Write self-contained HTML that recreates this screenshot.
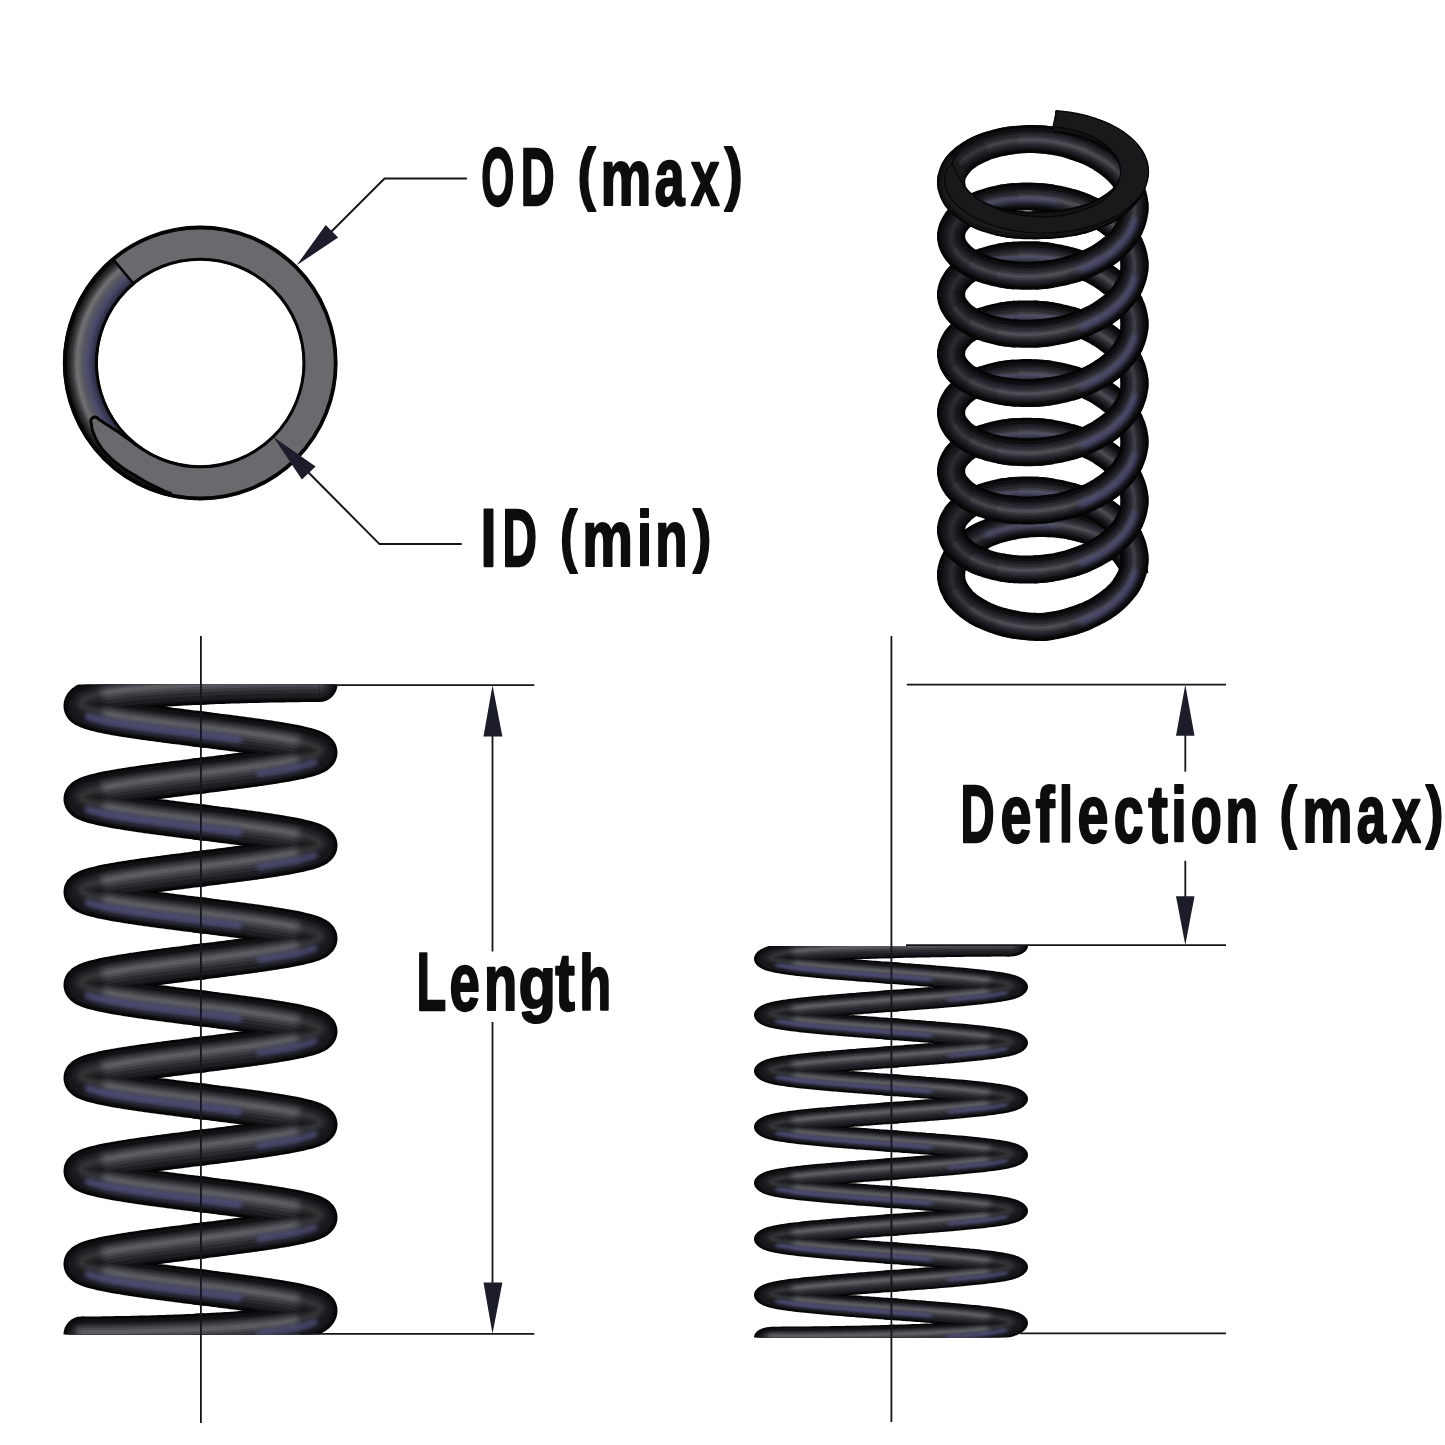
<!DOCTYPE html>
<html><head><meta charset="utf-8"><style>
html,body{margin:0;padding:0;background:#fff;}
svg{display:block;}
text{font-family:"Liberation Sans",sans-serif;font-weight:bold;fill:#0d0d0d;}
</style></head><body>
<svg width="1445" height="1445" viewBox="0 0 1445 1445">
<defs>
<radialGradient id="rg" gradientUnits="userSpaceOnUse" cx="200.2" cy="363" r="137">
<stop offset="0.748" stop-color="#1a1a26"/><stop offset="0.775" stop-color="#30304a"/><stop offset="0.82" stop-color="#4a4a6c"/><stop offset="0.86" stop-color="#575760"/><stop offset="0.90" stop-color="#727274"/><stop offset="0.935" stop-color="#3a3a3c"/><stop offset="0.97" stop-color="#141416"/><stop offset="1" stop-color="#000"/>
</radialGradient>
<filter id="lblur" x="-10%" y="-10%" width="120%" height="120%"><feGaussianBlur stdDeviation="3"/></filter>
<filter id="pblur" x="-10%" y="-10%" width="120%" height="120%"><feGaussianBlur stdDeviation="2.2"/></filter>
<clipPath id="sideclip"><rect x="0" y="684.5" width="400" height="650"/></clipPath>
<clipPath id="gclip"><ellipse cx="1042.8" cy="171.6" rx="105.75" ry="61.4"/><rect x="900" y="171.6" width="300" height="200"/></clipPath>
<path id="p1" d="M1122.3,550.3 1124.1,552.2 1125.7,554.1 1127.2,556.1 1128.6,558.1 1129.8,560.1 1130.9,562.2 1131.9,564.3 1132.7,566.4 1133.3,568.5 1133.9,570.6 1134.2,572.7 1134.4,574.5"/>
<path id="p2" d="M1098.7,534.4 1101.4,535.7 1104.1,537 1106.7,538.5 1109.2,540 1111.7,541.6 1114.1,543.2 1116.3,544.9 1118.5,546.7 1120.5,548.5 1122.4,550.4 1124.1,552.2 1125.8,554.2 1127.3,556.1 1128.6,558.2 1129.9,560.2 1130.9,562.2 1131.4,563.2"/>
<path id="p3" d="M1066.6,525 1069.6,525.5 1072.5,526.1 1075.4,526.7 1078.3,527.4 1081.2,528.1 1084.1,529 1086.9,529.9 1089.8,530.8 1092.6,531.8 1095.3,533 1098.1,534.1 1100.8,535.4 1103.4,536.7 1106,538.1 1108.6,539.6 1111.1,541.2 1113.5,542.8 1115.5,544.3"/>
<path id="p4" d="M1030.9,523.3 1033.9,523.2 1036.9,523.1 1039.9,523 1042.9,523 1045.9,523 1048.9,523.2 1051.9,523.3 1054.9,523.5 1057.9,523.8 1060.8,524.2 1063.8,524.5 1066.8,525 1069.7,525.5 1072.7,526.1 1075.6,526.7 1078.5,527.4 1081.4,528.2 1084.2,529 1087.1,529.9 1088.6,530.4"/>
<path id="p5" d="M997,529.7 999.9,528.8 1002.8,528 1005.7,527.2 1008.6,526.5 1011.6,525.9 1014.5,525.3 1017.5,524.8 1020.5,524.4 1023.5,524 1026.5,523.7 1029.5,523.4 1032.5,523.2 1035.5,523.1 1038.5,523 1041.5,523 1044.5,523 1047.5,523.1 1050.4,523.2 1053.4,523.4 1054.7,523.5"/>
<path id="p6" d="M970.1,543.1 972.4,541.4 974.8,539.9 977.3,538.3 979.9,536.9 982.6,535.5 985.3,534.2 988.1,533 990.9,531.8 993.7,530.8 996.6,529.8 999.5,528.9 1002.4,528.1 1005.3,527.3 1008.2,526.6 1011.2,526 1014.1,525.4 1017.1,524.9 1019,524.6"/>
<path id="p7" d="M954.2,561.4 955.2,559.4 956.4,557.4 957.7,555.4 959.1,553.5 960.7,551.6 962.4,549.7 964.2,547.9 966.2,546.2 968.3,544.4 970.5,542.8 972.8,541.1 975.2,539.6 977.7,538.1 980.4,536.6 983.1,535.2 985.8,534 986.9,533.5"/>
<path id="p8" d="M951.8,581.8 951.4,579.7 951.2,577.6 951.1,575.5 951.1,573.4 951.3,571.3 951.6,569.2 952.1,567.2 952.7,565.1 953.5,563 954.4,561 955.4,559 956.6,557 957.9,555.1 959.4,553.1 961,551.3 962.7,549.4 963.3,548.8"/>
<path id="p9" d="M1122.3,527.7 1124.1,529.9 1125.7,532.2 1127.2,534.5 1128.6,536.9 1129.8,539.3 1130.9,541.7 1131.9,544.1 1132.7,546.5 1133.3,549 1133.9,551.5 1134.2,554 1134.5,556.5 1134.5,559 1134.5,561.5 1134.3,564 1133.9,566.5 1133.8,567.3"/>
<path id="p10" d="M1098.7,508.4 1101.3,509.9 1103.8,511.5 1106.3,513.2 1108.7,514.9 1111.1,516.8 1113.3,518.6 1115.6,520.6 1117.7,522.7 1119.8,524.8 1121.7,527 1123.5,529.2 1125.2,531.5 1126.8,533.8 1128.2,536.1 1129.4,538.5 1130.6,540.9 1131.4,542.9"/>
<path id="p11" d="M1066.6,495.6 1069.5,496.3 1072.4,497.2 1075.2,498.1 1078.1,499.1 1080.9,500.1 1083.7,501.2 1086.4,502.3 1089.2,503.5 1091.9,504.8 1094.5,506.1 1097.2,507.5 1099.8,509 1102.3,510.6 1104.8,512.2 1107.3,513.9 1109.6,515.7 1112,517.5 1114.3,519.4 1115.5,520.6"/>
<path id="p12" d="M1030.9,490.5 1033.9,490.7 1036.9,490.8 1039.9,491 1042.9,491.3 1045.9,491.6 1048.9,492 1051.8,492.5 1054.8,493 1057.7,493.5 1060.7,494.1 1063.6,494.8 1066.5,495.5 1069.4,496.3 1072.3,497.1 1075.1,498 1077.9,499 1080.8,500 1083.5,501.1 1086.3,502.2 1088.6,503.3"/>
<path id="p13" d="M997,493.6 1000,493 1002.9,492.4 1005.9,492 1008.9,491.6 1011.9,491.2 1014.9,491 1017.9,490.8 1020.9,490.6 1023.9,490.5 1026.9,490.5 1029.9,490.5 1032.9,490.6 1036,490.8 1039,491 1041.9,491.2 1044.9,491.5 1047.9,491.9 1050.9,492.3 1053.8,492.8 1054.7,493"/>
<path id="p14" d="M970.1,503.6 972.4,502.3 974.8,501.1 977.3,499.9 979.9,498.8 982.6,497.7 985.4,496.7 988.3,495.8 991.2,495 994.2,494.2 997.1,493.5 1000.1,492.9 1003,492.4 1006,491.9 1009,491.6 1012,491.2 1015,491 1018,490.7 1019,490.7"/>
<path id="p15" d="M954.2,518.6 955.2,517 956.4,515.3 957.7,513.7 959.1,512.1 960.7,510.5 962.4,509 964.2,507.6 966.2,506.1 968.3,504.7 970.5,503.4 972.8,502.1 975.2,500.9 977.7,499.7 980.4,498.6 983.1,497.6 986,496.6 986.9,496.3"/>
<path id="p16" d="M951.8,535.8 951.4,534 951.2,532.3 951.1,530.5 951.1,528.7 951.3,527 951.6,525.2 952.1,523.5 952.7,521.7 953.5,520 954.4,518.3 955.4,516.7 956.6,515 957.9,513.4 959.4,511.8 961,510.3 962.7,508.8 963.3,508.3"/>
<path id="p17" d="M1122.3,469.2 1124.1,471.4 1125.7,473.7 1127.2,476 1128.6,478.4 1129.8,480.8 1130.9,483.2 1131.9,485.6 1132.7,488.1 1133.3,490.5 1133.9,493 1134.2,495.5 1134.5,498 1134.5,500.5 1134.5,503 1134.3,505.5 1133.9,508 1133.8,508.8"/>
<path id="p18" d="M1098.7,449.8 1101.3,451.3 1103.8,452.9 1106.3,454.6 1108.7,456.4 1111,458.2 1113.3,460.1 1115.6,462.1 1117.7,464.1 1119.8,466.3 1121.7,468.4 1123.5,470.7 1125.2,473 1126.7,475.3 1128.2,477.6 1129.4,480 1130.6,482.4 1131.4,484.4"/>
<path id="p19" d="M1066.6,436.9 1069.5,437.7 1072.4,438.5 1075.2,439.4 1078.1,440.4 1080.9,441.4 1083.7,442.5 1086.4,443.7 1089.2,444.9 1091.8,446.2 1094.5,447.5 1097.1,448.9 1099.7,450.4 1102.3,452 1104.8,453.6 1107.2,455.3 1109.6,457.1 1112,458.9 1114.2,460.8 1115.5,462"/>
<path id="p20" d="M1030.9,431.8 1033.9,431.9 1036.9,432.1 1039.9,432.3 1042.9,432.6 1045.9,432.9 1048.9,433.3 1051.8,433.8 1054.8,434.3 1057.7,434.8 1060.7,435.5 1063.6,436.1 1066.5,436.9 1069.4,437.7 1072.2,438.5 1075.1,439.4 1077.9,440.4 1080.7,441.4 1083.5,442.5 1086.3,443.6 1088.6,444.6"/>
<path id="p21" d="M997,434.8 1000,434.2 1002.9,433.7 1005.9,433.2 1008.9,432.8 1011.9,432.5 1014.9,432.2 1017.9,432 1020.9,431.9 1023.9,431.8 1026.9,431.8 1030,431.8 1033,431.9 1036,432 1039,432.3 1041.9,432.5 1044.9,432.8 1047.9,433.2 1050.9,433.6 1053.8,434.1 1054.7,434.3"/>
<path id="p22" d="M970.1,444.8 972.4,443.5 974.8,442.3 977.3,441.1 979.9,440 982.6,438.9 985.4,437.9 988.3,437 991.2,436.2 994.2,435.4 997.1,434.8 1000.1,434.2 1003.1,433.6 1006,433.2 1009,432.8 1012,432.5 1015,432.2 1018,432 1019,432"/>
<path id="p23" d="M954.2,459.7 955.2,458.1 956.4,456.4 957.7,454.8 959.1,453.2 960.7,451.7 962.4,450.2 964.2,448.7 966.2,447.3 968.3,445.9 970.5,444.6 972.8,443.3 975.2,442.1 977.7,440.9 980.4,439.8 983.1,438.7 986,437.8 986.9,437.5"/>
<path id="p24" d="M951.8,476.8 951.4,475 951.2,473.3 951.1,471.5 951.1,469.8 951.3,468 951.6,466.3 952.1,464.5 952.7,462.8 953.5,461.1 954.4,459.4 955.4,457.8 956.6,456.1 957.9,454.5 959.4,452.9 961,451.4 962.7,449.9 963.3,449.4"/>
<path id="p25" d="M1122.3,410.3 1124.1,412.5 1125.7,414.8 1127.2,417.1 1128.6,419.5 1129.8,421.9 1130.9,424.3 1131.9,426.7 1132.7,429.1 1133.3,431.6 1133.9,434.1 1134.2,436.6 1134.5,439.1 1134.5,441.6 1134.5,444.1 1134.3,446.6 1133.9,449.1 1133.8,449.9"/>
<path id="p26" d="M1098.7,391 1101.3,392.5 1103.8,394.1 1106.3,395.8 1108.7,397.5 1111.1,399.4 1113.3,401.2 1115.6,403.2 1117.7,405.3 1119.8,407.4 1121.7,409.6 1123.5,411.8 1125.2,414.1 1126.8,416.4 1128.2,418.7 1129.4,421.1 1130.6,423.5 1131.4,425.5"/>
<path id="p27" d="M1066.6,378.2 1069.5,378.9 1072.4,379.8 1075.2,380.7 1078.1,381.7 1080.9,382.7 1083.7,383.8 1086.4,384.9 1089.2,386.1 1091.9,387.4 1094.5,388.7 1097.2,390.1 1099.8,391.6 1102.3,393.2 1104.8,394.8 1107.3,396.5 1109.6,398.3 1112,400.1 1114.3,402 1115.5,403.2"/>
<path id="p28" d="M1030.9,373.1 1033.9,373.3 1036.9,373.4 1039.9,373.6 1042.9,373.9 1045.9,374.2 1048.9,374.6 1051.8,375.1 1054.8,375.6 1057.7,376.1 1060.7,376.7 1063.6,377.4 1066.5,378.1 1069.4,378.9 1072.3,379.7 1075.1,380.6 1077.9,381.6 1080.8,382.6 1083.5,383.7 1086.3,384.8 1088.6,385.9"/>
<path id="p29" d="M997,376.2 1000,375.6 1002.9,375 1005.9,374.6 1008.9,374.2 1011.9,373.8 1014.9,373.6 1017.9,373.4 1020.9,373.2 1023.9,373.1 1026.9,373.1 1029.9,373.1 1032.9,373.2 1036,373.4 1039,373.6 1041.9,373.8 1044.9,374.1 1047.9,374.5 1050.9,374.9 1053.8,375.4 1054.7,375.6"/>
<path id="p30" d="M970.1,386.2 972.4,384.9 974.8,383.7 977.3,382.5 979.9,381.4 982.6,380.3 985.4,379.3 988.3,378.4 991.2,377.6 994.2,376.8 997.1,376.1 1000.1,375.5 1003,375 1006,374.5 1009,374.2 1012,373.8 1015,373.6 1018,373.3 1019,373.3"/>
<path id="p31" d="M954.2,401.2 955.2,399.6 956.4,397.9 957.7,396.3 959.1,394.7 960.7,393.1 962.4,391.6 964.2,390.2 966.2,388.7 968.3,387.3 970.5,386 972.8,384.7 975.2,383.5 977.7,382.3 980.4,381.2 983.1,380.2 986,379.2 986.9,378.9"/>
<path id="p32" d="M951.8,418.4 951.4,416.6 951.2,414.9 951.1,413.1 951.1,411.3 951.3,409.6 951.6,407.8 952.1,406.1 952.7,404.3 953.5,402.6 954.4,400.9 955.4,399.3 956.6,397.6 957.9,396 959.4,394.4 961,392.9 962.7,391.4 963.3,390.9"/>
<path id="p33" d="M1122.3,351.8 1124.1,354 1125.7,356.3 1127.2,358.6 1128.6,361 1129.8,363.4 1130.9,365.8 1131.9,368.2 1132.7,370.7 1133.3,373.1 1133.9,375.6 1134.2,378.1 1134.5,380.6 1134.5,383.1 1134.5,385.6 1134.3,388.1 1133.9,390.6 1133.8,391.4"/>
<path id="p34" d="M1098.7,332.4 1101.3,333.9 1103.8,335.5 1106.3,337.2 1108.7,339 1111,340.8 1113.3,342.7 1115.6,344.7 1117.7,346.7 1119.8,348.9 1121.7,351 1123.5,353.3 1125.2,355.6 1126.7,357.9 1128.2,360.2 1129.4,362.6 1130.6,365 1131.4,367"/>
<path id="p35" d="M1066.6,319.5 1069.5,320.3 1072.4,321.1 1075.2,322 1078.1,323 1080.9,324 1083.7,325.1 1086.4,326.3 1089.2,327.5 1091.8,328.8 1094.5,330.1 1097.1,331.5 1099.7,333 1102.3,334.6 1104.8,336.2 1107.2,337.9 1109.6,339.7 1112,341.5 1114.2,343.4 1115.5,344.6"/>
<path id="p36" d="M1030.9,314.4 1033.9,314.5 1036.9,314.7 1039.9,314.9 1042.9,315.2 1045.9,315.5 1048.9,315.9 1051.8,316.4 1054.8,316.9 1057.7,317.4 1060.7,318.1 1063.6,318.7 1066.5,319.5 1069.4,320.3 1072.2,321.1 1075.1,322 1077.9,323 1080.7,324 1083.5,325.1 1086.3,326.2 1088.6,327.2"/>
<path id="p37" d="M997,317.4 1000,316.8 1002.9,316.3 1005.9,315.8 1008.9,315.4 1011.9,315.1 1014.9,314.8 1017.9,314.6 1020.9,314.5 1023.9,314.4 1026.9,314.4 1030,314.4 1033,314.5 1036,314.6 1039,314.9 1041.9,315.1 1044.9,315.4 1047.9,315.8 1050.9,316.2 1053.8,316.7 1054.7,316.9"/>
<path id="p38" d="M970.1,327.4 972.4,326.1 974.8,324.9 977.3,323.7 979.9,322.6 982.6,321.5 985.4,320.5 988.3,319.6 991.2,318.8 994.2,318 997.1,317.4 1000.1,316.8 1003.1,316.2 1006,315.8 1009,315.4 1012,315.1 1015,314.8 1018,314.6 1019,314.6"/>
<path id="p39" d="M954.2,342.3 955.2,340.7 956.4,339 957.7,337.4 959.1,335.8 960.7,334.3 962.4,332.8 964.2,331.3 966.2,329.9 968.3,328.5 970.5,327.2 972.8,325.9 975.2,324.7 977.7,323.5 980.4,322.4 983.1,321.3 986,320.4 986.9,320.1"/>
<path id="p40" d="M951.8,359.4 951.4,357.6 951.2,355.9 951.1,354.1 951.1,352.4 951.3,350.6 951.6,348.9 952.1,347.1 952.7,345.4 953.5,343.7 954.4,342 955.4,340.4 956.6,338.7 957.9,337.1 959.4,335.5 961,334 962.7,332.5 963.3,332"/>
<path id="p41" d="M1122.3,292.6 1124.1,294.8 1125.7,297.1 1127.2,299.4 1128.6,301.8 1129.8,304.2 1130.9,306.6 1131.9,309 1132.7,311.5 1133.3,313.9 1133.9,316.4 1134.2,318.9 1134.5,321.4 1134.5,323.9 1134.5,326.4 1134.3,328.9 1133.9,331.4 1133.8,332.2"/>
<path id="p42" d="M1098.7,273.2 1101.3,274.7 1103.8,276.3 1106.3,278 1108.7,279.8 1111,281.6 1113.3,283.5 1115.6,285.5 1117.7,287.5 1119.8,289.7 1121.7,291.8 1123.5,294.1 1125.2,296.4 1126.7,298.7 1128.2,301 1129.4,303.4 1130.6,305.8 1131.4,307.8"/>
<path id="p43" d="M1066.6,260.3 1069.5,261.1 1072.4,261.9 1075.2,262.8 1078.1,263.8 1080.9,264.8 1083.7,265.9 1086.4,267.1 1089.2,268.3 1091.8,269.6 1094.5,270.9 1097.1,272.3 1099.7,273.8 1102.3,275.4 1104.8,277 1107.2,278.7 1109.6,280.5 1112,282.3 1114.2,284.2 1115.5,285.4"/>
<path id="p44" d="M1030.9,255.2 1033.9,255.3 1036.9,255.5 1039.9,255.7 1042.9,256 1045.9,256.3 1048.9,256.7 1051.8,257.2 1054.8,257.7 1057.7,258.2 1060.7,258.9 1063.6,259.5 1066.5,260.3 1069.4,261.1 1072.2,261.9 1075.1,262.8 1077.9,263.8 1080.7,264.8 1083.5,265.9 1086.3,267 1088.6,268"/>
<path id="p45" d="M997,258.2 1000,257.6 1002.9,257.1 1005.9,256.6 1008.9,256.2 1011.9,255.9 1014.9,255.6 1017.9,255.4 1020.9,255.3 1023.9,255.2 1026.9,255.2 1030,255.2 1033,255.3 1036,255.4 1039,255.7 1041.9,255.9 1044.9,256.2 1047.9,256.6 1050.9,257 1053.8,257.5 1054.7,257.7"/>
<path id="p46" d="M970.1,268.2 972.4,266.9 974.8,265.7 977.3,264.5 979.9,263.4 982.6,262.3 985.4,261.3 988.3,260.4 991.2,259.6 994.2,258.8 997.1,258.2 1000.1,257.6 1003.1,257 1006,256.6 1009,256.2 1012,255.9 1015,255.6 1018,255.4 1019,255.4"/>
<path id="p47" d="M954.2,283.1 955.2,281.5 956.4,279.8 957.7,278.2 959.1,276.6 960.7,275.1 962.4,273.6 964.2,272.1 966.2,270.7 968.3,269.3 970.5,268 972.8,266.7 975.2,265.5 977.7,264.3 980.4,263.2 983.1,262.1 986,261.2 986.9,260.9"/>
<path id="p48" d="M951.8,300.2 951.4,298.4 951.2,296.7 951.1,294.9 951.1,293.2 951.3,291.4 951.6,289.7 952.1,287.9 952.7,286.2 953.5,284.5 954.4,282.8 955.4,281.2 956.6,279.5 957.9,277.9 959.4,276.3 961,274.8 962.7,273.3 963.3,272.8"/>
<path id="p49" d="M1122.3,233.8 1124.1,236 1125.7,238.3 1127.2,240.6 1128.6,242.9 1129.8,245.3 1130.9,247.7 1131.9,250.2 1132.7,252.6 1133.3,255.1 1133.9,257.5 1134.2,260 1134.5,262.5 1134.5,265 1134.5,267.5 1134.3,270 1133.9,272.5 1133.8,273.3"/>
<path id="p50" d="M1098.7,214.5 1101.3,216 1103.8,217.6 1106.3,219.3 1108.7,221 1111.1,222.8 1113.4,224.7 1115.6,226.7 1117.7,228.8 1119.8,230.9 1121.7,233.1 1123.5,235.3 1125.2,237.6 1126.8,239.9 1128.2,242.2 1129.4,244.6 1130.6,247 1131.4,248.9"/>
<path id="p51" d="M1066.6,201.7 1069.5,202.4 1072.4,203.3 1075.2,204.2 1078.1,205.1 1080.9,206.2 1083.7,207.2 1086.4,208.4 1089.2,209.6 1091.9,210.9 1094.5,212.2 1097.2,213.6 1099.8,215.1 1102.3,216.6 1104.8,218.3 1107.3,220 1109.7,221.7 1112,223.6 1114.3,225.5 1115.5,226.7"/>
<path id="p52" d="M1030.9,196.6 1033.9,196.8 1036.9,196.9 1039.9,197.1 1042.9,197.4 1045.9,197.7 1048.9,198.1 1051.8,198.6 1054.8,199.1 1057.7,199.6 1060.7,200.2 1063.6,200.9 1066.5,201.6 1069.4,202.4 1072.3,203.2 1075.1,204.1 1077.9,205.1 1080.8,206.1 1083.5,207.2 1086.3,208.3 1088.6,209.3"/>
<path id="p53" d="M997,199.7 1000,199.1 1002.9,198.5 1005.9,198.1 1008.9,197.7 1011.9,197.3 1014.9,197.1 1017.9,196.9 1020.9,196.7 1023.9,196.6 1026.9,196.6 1029.9,196.6 1032.9,196.7 1036,196.9 1038.9,197.1 1041.9,197.3 1044.9,197.6 1047.9,198 1050.9,198.4 1053.8,198.9 1054.7,199"/>
<path id="p54" d="M970.1,209.8 972.4,208.5 974.8,207.2 977.3,206 979.9,204.9 982.6,203.9 985.4,202.9 988.3,201.9 991.2,201.1 994.2,200.3 997.1,199.7 1000.1,199.1 1003,198.5 1006,198.1 1009,197.7 1012,197.3 1015,197.1 1018,196.9 1019,196.8"/>
<path id="p55" d="M954.2,224.8 955.2,223.1 956.4,221.5 957.7,219.8 959.1,218.2 960.7,216.7 962.4,215.2 964.2,213.7 966.2,212.2 968.3,210.9 970.5,209.5 972.8,208.2 975.2,207 977.7,205.8 980.4,204.7 983.1,203.7 986,202.7 986.9,202.4"/>
<path id="p56" d="M951.8,241.9 951.4,240.2 951.2,238.4 951.1,236.6 951.1,234.9 951.3,233.1 951.6,231.4 952.1,229.6 952.7,227.9 953.5,226.2 954.4,224.5 955.4,222.8 956.6,221.2 957.9,219.5 959.4,218 961,216.4 962.7,214.9 963.3,214.4"/>
<path id="p57" d="M1122.3,175.8 1124.1,178.1 1125.7,180.3 1127.2,182.7 1128.6,185 1129.8,187.4 1130.9,189.8 1131.9,192.2 1132.7,194.7 1133.3,197.1 1133.9,199.6 1134.2,202.1 1134.5,204.6 1134.5,207.1 1134.5,209.6 1134.3,212.1 1133.9,214.6 1133.8,215.4"/>
<path id="p58" d="M1098.7,156.6 1101.3,158.1 1103.8,159.7 1106.3,161.3 1108.7,163.1 1111.1,164.9 1113.4,166.8 1115.6,168.8 1117.7,170.8 1119.8,173 1121.7,175.1 1123.5,177.4 1125.2,179.6 1126.8,181.9 1128.2,184.3 1129.4,186.6 1130.6,189 1131.4,191"/>
<path id="p59" d="M1066.6,143.7 1069.5,144.5 1072.4,145.4 1075.2,146.3 1078.1,147.2 1080.9,148.2 1083.7,149.3 1086.4,150.5 1089.2,151.7 1091.9,153 1094.5,154.3 1097.2,155.7 1099.8,157.2 1102.3,158.7 1104.8,160.3 1107.3,162 1109.7,163.8 1112,165.7 1114.3,167.6 1115.5,168.7"/>
<path id="p60" d="M1030.9,139.1 1033.9,139.1 1036.9,139.2 1039.9,139.3 1042.9,139.5 1045.9,139.8 1048.9,140.2 1051.8,140.7 1054.8,141.2 1057.7,141.7 1060.7,142.3 1063.6,143 1066.5,143.7 1069.4,144.5 1072.3,145.3 1075.1,146.2 1078,147.2 1080.8,148.2 1083.6,149.3 1086.3,150.4 1088.6,151.4"/>
<path id="p61" d="M997,143.1 999.9,142.4 1002.9,141.8 1005.9,141.2 1008.8,140.7 1011.8,140.3 1014.8,139.9 1017.8,139.7 1020.8,139.4 1023.8,139.2 1026.8,139.1 1029.8,139.1 1032.8,139.1 1035.8,139.1 1038.8,139.3 1041.8,139.4 1044.8,139.7 1047.8,140.1 1050.8,140.5 1053.7,141 1054.7,141.1"/>
<path id="p62" d="M970.1,154.1 972.4,152.7 974.8,151.4 977.3,150.1 979.9,148.9 982.6,147.7 985.4,146.6 988.3,145.6 991.2,144.7 994.1,143.9 997,143.1 999.9,142.4 1002.9,141.8 1005.9,141.2 1008.8,140.7 1011.8,140.3 1014.8,139.9 1017.8,139.7 1019,139.6"/>
<path id="p63" d="M954.2,170.1 955.2,168.4 956.4,166.6 957.7,164.9 959.1,163.2 960.7,161.5 962.4,159.9 964.2,158.3 966.2,156.8 968.3,155.3 970.5,153.9 972.8,152.5 975.2,151.2 977.7,149.9 980.4,148.7 983.1,147.5 986,146.5 986.9,146.1"/>
<path id="p64" d="M952.2,174.9 952.8,173 953.6,171.2 954.6,169.4 955.7,167.7 956.9,165.9 958.2,164.2 959.7,162.5 961.4,160.9 963.1,159.3 963.3,159.1"/>
<path id="p65" d="M951.8,188.2 951.4,186.4 951.2,184.5 951.1,182.7 951.1,180.8 951.3,178.9 951.6,177.1 952.1,175.2 952.7,173.4 953.5,171.6 954.4,169.8 955.4,168 956.6,166.3 957.9,164.6 959,163.4"/>
<path id="p66" d="M1122.3,145 1124.1,146.9 1125.7,148.8 1127.2,150.7 1128.6,152.7 1129.8,154.7 1130.9,156.7 1131.9,158.8 1132.7,160.9 1133.3,163 1133.9,165.1 1134.2,167.2 1134.5,169.3 1134.5,171.5 1134.5,173.6 1134.3,175.7 1133.9,177.8 1133.8,178.5"/>
<path id="p67" d="M1098.7,129.3 1101.4,130.6 1104.1,131.9 1106.7,133.3 1109.3,134.9 1111.7,136.4 1114.1,138.1 1116.3,139.7 1118.5,141.5 1120.5,143.3 1122.4,145.1 1124.1,147 1125.8,148.9 1127.3,150.8 1128.6,152.8 1129.9,154.8 1131,156.8 1131.4,157.8"/>
<path id="p68" d="M1066.6,120.1 1069.6,120.6 1072.5,121.2 1075.4,121.8 1078.4,122.5 1081.2,123.2 1084.1,124 1087,124.9 1089.8,125.8 1092.6,126.8 1095.4,127.9 1098.1,129.1 1100.8,130.3 1103.5,131.6 1106.1,133 1108.7,134.5 1111.2,136.1 1113.6,137.7 1115.5,139.1"/>
<path id="p69" d="M1054.8,118.8 1057.8,119 1060.7,119.3 1063.7,119.7 1066.7,120.1 1069.6,120.6 1072.5,121.2 1075.5,121.8 1078.4,122.5 1081.3,123.2 1084.1,124 1087,124.9 1088.6,125.4"/>
<path id="p70" d="M963.3,601.2 961.5,599.3 959.9,597.5 958.4,595.6 957,593.6 955.8,591.6 954.7,589.6 953.7,587.6 952.9,585.6 952.3,583.5 951.7,581.4 951.4,579.3 951.1,577.2 951.1,575.1 951.1,573 951.3,570.9 951.7,568.9 951.8,568.2"/>
<path id="p71" d="M986.9,616.5 984.2,615.3 981.5,614 978.9,612.6 976.3,611.1 973.8,609.6 971.5,608 969.2,606.3 967.1,604.6 965.1,602.8 963.2,601.1 961.4,599.2 959.8,597.3 958.3,595.4 956.9,593.5 955.7,591.5 954.6,589.5 954.2,588.6"/>
<path id="p72" d="M1019,625.4 1016,624.9 1013.1,624.4 1010.1,623.8 1007.2,623.2 1004.3,622.4 1001.4,621.7 998.6,620.8 995.8,619.9 992.9,618.9 990.2,617.9 987.4,616.7 984.7,615.5 982,614.2 979.4,612.8 976.8,611.4 974.3,609.8 971.9,608.3 970.1,606.9"/>
<path id="p73" d="M1054.7,625.3 1051.7,625.8 1048.8,626.3 1045.8,626.7 1042.8,627 1039.8,627 1036.8,626.9 1033.8,626.8 1030.8,626.7 1027.8,626.4 1024.9,626.1 1021.9,625.8 1018.9,625.4 1016,624.9 1013,624.4 1010.1,623.8 1007.2,623.2 1004.3,622.4 1001.4,621.7 998.5,620.8 997,620.3"/>
<path id="p74" d="M1088.6,615 1085.8,616.2 1083.1,617.4 1080.2,618.5 1077.4,619.5 1074.6,620.4 1071.7,621.3 1068.8,622.2 1065.9,622.9 1063,623.6 1060,624.3 1057.1,624.9 1054.1,625.4 1051.2,625.9 1048.2,626.4 1045.2,626.7 1042.3,627 1039.3,627 1036.3,626.9 1033.3,626.8 1030.9,626.7"/>
<path id="p75" d="M1115.5,597.7 1113.3,599.7 1110.9,601.6 1108.5,603.5 1106.1,605.2 1103.6,606.9 1101,608.5 1098.4,610.1 1095.8,611.5 1093.1,612.9 1090.4,614.2 1087.7,615.5 1084.9,616.6 1082.1,617.8 1079.3,618.8 1076.4,619.8 1073.6,620.7 1070.7,621.6 1067.8,622.4 1066.6,622.7"/>
<path id="p76" d="M1131.4,575.4 1130.4,577.8 1129.2,580.2 1127.9,582.6 1126.5,584.9 1124.9,587.2 1123.2,589.5 1121.4,591.7 1119.4,593.9 1117.3,596 1115.1,598.1 1112.9,600.1 1110.5,602 1108.1,603.8 1105.6,605.5 1103.1,607.2 1100.6,608.8 1098.7,609.9"/>
<path id="p77" d="M1133.8,551 1134.2,553.5 1134.4,556 1134.5,558.5 1134.5,561 1134.3,563.5 1134,566 1133.5,568.5 1132.9,571 1132.1,573.4 1131.2,575.9 1130.2,578.3 1129,580.7 1127.7,583 1126.2,585.4 1124.6,587.6 1122.9,589.9 1122.3,590.6"/>
<path id="p78" d="M963.3,551.8 961.5,550.3 959.9,548.8 958.4,547.2 957,545.6 955.8,544 954.7,542.3 953.7,540.6 952.9,538.9 952.3,537.2 951.7,535.4 951.4,533.7 951.1,531.9 951.1,530.2 951.1,528.4 951.3,526.6 951.7,524.9 951.8,524.3"/>
<path id="p79" d="M986.9,563.8 984.1,562.9 981.3,561.9 978.6,560.8 976.1,559.6 973.6,558.4 971.2,557.1 969,555.8 966.9,554.5 964.9,553 963,551.6 961.3,550.1 959.6,548.5 958.2,546.9 956.8,545.3 955.6,543.7 954.5,542 954.2,541.5"/>
<path id="p80" d="M1019,569.4 1016,569.2 1013,569 1010,568.7 1007.1,568.3 1004.1,567.9 1001.2,567.4 998.3,566.8 995.4,566.2 992.5,565.4 989.6,564.7 986.8,563.8 984,562.8 981.2,561.8 978.5,560.7 975.9,559.6 973.5,558.4 971.1,557.1 970.1,556.5"/>
<path id="p81" d="M1054.7,567.1 1051.7,567.6 1048.8,568.1 1045.8,568.5 1042.8,568.8 1039.8,569.1 1036.8,569.3 1033.9,569.5 1030.9,569.6 1027.9,569.6 1024.9,569.6 1021.9,569.5 1018.9,569.4 1015.9,569.2 1012.9,569 1010,568.7 1007,568.3 1004.1,567.9 1001.1,567.4 998.2,566.8 997,566.5"/>
<path id="p82" d="M1088.6,556.8 1085.8,558 1083.1,559.1 1080.3,560.2 1077.4,561.2 1074.6,562.2 1071.7,563.1 1068.8,563.9 1065.9,564.7 1063,565.4 1060.1,566.1 1057.1,566.7 1054.2,567.2 1051.2,567.7 1048.2,568.1 1045.3,568.5 1042.3,568.9 1039.3,569.1 1036.3,569.3 1033.3,569.5 1030.9,569.6"/>
<path id="p83" d="M1115.5,539.4 1113.3,541.4 1111,543.3 1108.6,545.1 1106.1,546.9 1103.6,548.6 1101,550.2 1098.4,551.7 1095.8,553.2 1093.1,554.6 1090.4,555.9 1087.7,557.2 1084.9,558.4 1082.1,559.5 1079.3,560.5 1076.5,561.5 1073.6,562.5 1070.7,563.4 1067.8,564.2 1066.6,564.5"/>
<path id="p84" d="M1131.4,517 1130.4,519.4 1129.2,521.8 1127.9,524.2 1126.5,526.5 1124.9,528.9 1123.2,531.1 1121.4,533.3 1119.4,535.5 1117.3,537.7 1115.1,539.7 1112.9,541.7 1110.5,543.6 1108.1,545.5 1105.7,547.2 1103.1,548.9 1100.6,550.5 1098.7,551.6"/>
<path id="p85" d="M1133.8,492.6 1134.2,495.1 1134.4,497.6 1134.5,500.1 1134.5,502.6 1134.3,505.1 1134,507.6 1133.5,510.1 1132.9,512.6 1132.1,515 1131.2,517.5 1130.2,519.9 1129,522.3 1127.7,524.6 1126.2,527 1124.6,529.3 1122.9,531.5 1122.3,532.2"/>
<path id="p86" d="M963.3,492.8 961.5,491.3 959.9,489.8 958.4,488.2 957,486.6 955.8,485 954.7,483.3 953.7,481.6 952.9,479.9 952.3,478.2 951.7,476.5 951.4,474.7 951.1,473 951.1,471.2 951.1,469.5 951.3,467.7 951.7,466 951.8,465.4"/>
<path id="p87" d="M986.9,504.7 984.1,503.8 981.3,502.8 978.6,501.7 976,500.5 973.6,499.3 971.2,498.1 969,496.8 966.9,495.4 964.9,494 963,492.5 961.3,491 959.6,489.5 958.2,487.9 956.8,486.3 955.6,484.7 954.5,483 954.2,482.5"/>
<path id="p88" d="M1019,510.2 1016,510.1 1013,509.8 1010,509.5 1007.1,509.2 1004.1,508.7 1001.2,508.2 998.3,507.7 995.4,507 992.5,506.3 989.6,505.6 986.8,504.7 983.9,503.7 981.2,502.7 978.5,501.6 975.9,500.5 973.5,499.3 971.1,498 970.1,497.4"/>
<path id="p89" d="M1054.7,507.9 1051.7,508.4 1048.8,508.9 1045.8,509.3 1042.8,509.6 1039.8,509.9 1036.8,510.1 1033.9,510.3 1030.9,510.4 1027.9,510.4 1024.9,510.4 1021.9,510.4 1018.9,510.2 1015.9,510.1 1012.9,509.8 1010,509.5 1007,509.2 1004.1,508.7 1001.1,508.2 998.2,507.7 997,507.4"/>
<path id="p90" d="M1088.6,497.6 1085.8,498.8 1083.1,500 1080.2,501.1 1077.4,502.1 1074.6,503 1071.7,503.9 1068.8,504.8 1065.9,505.5 1063,506.2 1060,506.9 1057.1,507.5 1054.1,508 1051.2,508.5 1048.2,509 1045.2,509.3 1042.3,509.7 1039.3,509.9 1036.3,510.1 1033.3,510.3 1030.9,510.4"/>
<path id="p91" d="M1115.5,480.3 1113.3,482.3 1110.9,484.2 1108.5,486.1 1106.1,487.8 1103.6,489.5 1101,491.1 1098.4,492.7 1095.8,494.1 1093.1,495.5 1090.4,496.8 1087.7,498.1 1084.9,499.2 1082.1,500.4 1079.3,501.4 1076.4,502.4 1073.6,503.3 1070.7,504.2 1067.8,505 1066.6,505.3"/>
<path id="p92" d="M1131.4,458 1130.4,460.4 1129.2,462.8 1127.9,465.2 1126.5,467.5 1124.9,469.8 1123.2,472.1 1121.4,474.3 1119.4,476.5 1117.3,478.6 1115.1,480.7 1112.9,482.7 1110.5,484.6 1108.1,486.4 1105.6,488.1 1103.1,489.8 1100.6,491.4 1098.7,492.5"/>
<path id="p93" d="M1133.8,433.6 1134.2,436.1 1134.4,438.6 1134.5,441.1 1134.5,443.6 1134.3,446.1 1134,448.6 1133.5,451.1 1132.9,453.6 1132.1,456 1131.2,458.5 1130.2,460.9 1129,463.3 1127.7,465.6 1126.2,468 1124.6,470.2 1122.9,472.5 1122.3,473.2"/>
<path id="p94" d="M963.3,434.4 961.5,432.9 959.9,431.4 958.4,429.8 957,428.2 955.8,426.6 954.7,424.9 953.7,423.2 952.9,421.5 952.3,419.8 951.7,418 951.4,416.3 951.1,414.5 951.1,412.8 951.1,411 951.3,409.2 951.7,407.5 951.8,406.9"/>
<path id="p95" d="M986.9,446.4 984.1,445.5 981.3,444.5 978.6,443.4 976.1,442.2 973.6,441 971.2,439.7 969,438.4 966.9,437.1 964.9,435.6 963,434.2 961.3,432.7 959.6,431.1 958.2,429.5 956.8,427.9 955.6,426.3 954.5,424.6 954.2,424.1"/>
<path id="p96" d="M1019,452 1016,451.8 1013,451.6 1010,451.3 1007.1,450.9 1004.1,450.5 1001.2,450 998.3,449.4 995.4,448.8 992.5,448 989.6,447.3 986.8,446.4 984,445.4 981.2,444.4 978.5,443.3 975.9,442.2 973.5,441 971.1,439.7 970.1,439.1"/>
<path id="p97" d="M1054.7,449.7 1051.7,450.2 1048.8,450.7 1045.8,451.1 1042.8,451.4 1039.8,451.7 1036.8,451.9 1033.9,452.1 1030.9,452.2 1027.9,452.2 1024.9,452.2 1021.9,452.1 1018.9,452 1015.9,451.8 1012.9,451.6 1010,451.3 1007,450.9 1004.1,450.5 1001.1,450 998.2,449.4 997,449.1"/>
<path id="p98" d="M1088.6,439.4 1085.8,440.6 1083.1,441.7 1080.3,442.8 1077.4,443.8 1074.6,444.8 1071.7,445.7 1068.8,446.5 1065.9,447.3 1063,448 1060.1,448.7 1057.1,449.3 1054.2,449.8 1051.2,450.3 1048.2,450.7 1045.3,451.1 1042.3,451.5 1039.3,451.7 1036.3,451.9 1033.3,452.1 1030.9,452.2"/>
<path id="p99" d="M1115.5,422 1113.3,424 1111,425.9 1108.6,427.7 1106.1,429.5 1103.6,431.2 1101,432.8 1098.4,434.3 1095.8,435.8 1093.1,437.2 1090.4,438.5 1087.7,439.8 1084.9,441 1082.1,442.1 1079.3,443.1 1076.5,444.1 1073.6,445.1 1070.7,446 1067.8,446.8 1066.6,447.1"/>
<path id="p100" d="M1131.4,399.6 1130.4,402 1129.2,404.4 1127.9,406.8 1126.5,409.1 1124.9,411.5 1123.2,413.7 1121.4,415.9 1119.4,418.1 1117.3,420.3 1115.1,422.3 1112.9,424.3 1110.5,426.2 1108.1,428.1 1105.7,429.8 1103.1,431.5 1100.6,433.1 1098.7,434.2"/>
<path id="p101" d="M1133.8,375.2 1134.2,377.7 1134.4,380.2 1134.5,382.7 1134.5,385.2 1134.3,387.7 1134,390.2 1133.5,392.7 1132.9,395.2 1132.1,397.6 1131.2,400.1 1130.2,402.5 1129,404.9 1127.7,407.2 1126.2,409.6 1124.6,411.9 1122.9,414.1 1122.3,414.8"/>
<path id="p102" d="M963.3,375.4 961.5,373.9 959.9,372.4 958.4,370.8 957,369.2 955.8,367.6 954.7,365.9 953.7,364.2 952.9,362.5 952.3,360.8 951.7,359.1 951.4,357.3 951.1,355.6 951.1,353.8 951.1,352.1 951.3,350.3 951.7,348.6 951.8,348"/>
<path id="p103" d="M986.9,387.3 984.1,386.4 981.3,385.4 978.6,384.3 976,383.1 973.6,381.9 971.2,380.7 969,379.4 966.9,378 964.9,376.6 963,375.1 961.3,373.6 959.6,372.1 958.2,370.5 956.8,368.9 955.6,367.3 954.5,365.6 954.2,365.1"/>
<path id="p104" d="M1019,392.8 1016,392.7 1013,392.4 1010,392.1 1007.1,391.8 1004.1,391.3 1001.2,390.8 998.3,390.3 995.4,389.6 992.5,388.9 989.6,388.2 986.8,387.3 983.9,386.3 981.2,385.3 978.5,384.2 975.9,383.1 973.5,381.9 971.1,380.6 970.1,380"/>
<path id="p105" d="M1054.7,390.5 1051.7,391 1048.8,391.5 1045.8,391.9 1042.8,392.2 1039.8,392.5 1036.8,392.7 1033.9,392.9 1030.9,393 1027.9,393 1024.9,393 1021.9,393 1018.9,392.8 1015.9,392.7 1012.9,392.4 1010,392.1 1007,391.8 1004.1,391.3 1001.1,390.8 998.2,390.3 997,390"/>
<path id="p106" d="M1088.6,380.2 1085.8,381.4 1083.1,382.5 1080.3,383.6 1077.4,384.6 1074.6,385.6 1071.7,386.5 1068.8,387.3 1065.9,388.1 1063,388.8 1060.1,389.5 1057.1,390.1 1054.2,390.6 1051.2,391.1 1048.2,391.5 1045.3,391.9 1042.3,392.3 1039.3,392.5 1036.3,392.7 1033.3,392.9 1030.9,393"/>
<path id="p107" d="M1115.5,362.8 1113.3,364.8 1111,366.7 1108.6,368.5 1106.1,370.3 1103.6,372 1101,373.6 1098.4,375.1 1095.8,376.6 1093.1,378 1090.4,379.3 1087.7,380.6 1084.9,381.8 1082.1,382.9 1079.3,383.9 1076.5,384.9 1073.6,385.9 1070.7,386.8 1067.8,387.6 1066.6,387.9"/>
<path id="p108" d="M1131.4,340.4 1130.4,342.8 1129.2,345.2 1127.9,347.6 1126.5,349.9 1124.9,352.3 1123.2,354.5 1121.4,356.7 1119.4,358.9 1117.3,361.1 1115.1,363.1 1112.9,365.1 1110.5,367 1108.1,368.9 1105.7,370.6 1103.1,372.3 1100.6,373.9 1098.7,375"/>
<path id="p109" d="M1133.8,316 1134.2,318.5 1134.4,321 1134.5,323.5 1134.5,326 1134.3,328.5 1134,331 1133.5,333.5 1132.9,336 1132.1,338.4 1131.2,340.9 1130.2,343.3 1129,345.7 1127.7,348 1126.2,350.4 1124.6,352.7 1122.9,354.9 1122.3,355.6"/>
<path id="p110" d="M963.3,316.2 961.5,314.7 959.9,313.2 958.4,311.6 957,310 955.8,308.4 954.7,306.7 953.7,305 952.9,303.3 952.3,301.6 951.7,299.9 951.4,298.1 951.1,296.4 951.1,294.6 951.1,292.9 951.3,291.1 951.7,289.4 951.8,288.8"/>
<path id="p111" d="M986.9,328.1 984.1,327.2 981.3,326.2 978.6,325.1 976,323.9 973.6,322.7 971.2,321.5 969,320.2 966.9,318.8 964.9,317.4 963,315.9 961.3,314.4 959.6,312.9 958.2,311.3 956.8,309.7 955.6,308.1 954.5,306.4 954.2,305.9"/>
<path id="p112" d="M1019,333.6 1016,333.5 1013,333.2 1010,332.9 1007.1,332.6 1004.1,332.1 1001.2,331.6 998.3,331.1 995.4,330.4 992.5,329.7 989.6,329 986.8,328.1 983.9,327.1 981.2,326.1 978.5,325 975.9,323.9 973.5,322.7 971.1,321.4 970.1,320.8"/>
<path id="p113" d="M1054.7,331.4 1051.7,331.8 1048.8,332.3 1045.8,332.7 1042.8,333 1039.8,333.3 1036.8,333.5 1033.9,333.7 1030.9,333.8 1027.9,333.8 1024.9,333.8 1021.9,333.8 1018.9,333.6 1015.9,333.5 1012.9,333.2 1010,332.9 1007,332.6 1004.1,332.1 1001.1,331.6 998.2,331.1 997,330.8"/>
<path id="p114" d="M1088.6,321.1 1085.8,322.3 1083.1,323.4 1080.2,324.5 1077.4,325.5 1074.6,326.4 1071.7,327.3 1068.8,328.2 1065.9,328.9 1063,329.7 1060,330.3 1057.1,330.9 1054.1,331.4 1051.2,331.9 1048.2,332.4 1045.2,332.7 1042.3,333.1 1039.3,333.3 1036.3,333.5 1033.3,333.7 1030.9,333.8"/>
<path id="p115" d="M1115.5,303.7 1113.3,305.7 1110.9,307.7 1108.5,309.5 1106.1,311.3 1103.6,312.9 1101,314.5 1098.4,316.1 1095.8,317.5 1093.1,318.9 1090.4,320.2 1087.6,321.5 1084.9,322.7 1082.1,323.8 1079.3,324.8 1076.4,325.8 1073.6,326.8 1070.7,327.6 1067.8,328.4 1066.6,328.7"/>
<path id="p116" d="M1131.4,281.5 1130.4,283.9 1129.2,286.3 1127.9,288.6 1126.5,291 1124.9,293.3 1123.2,295.5 1121.4,297.7 1119.4,299.9 1117.3,302 1115.1,304.1 1112.9,306.1 1110.5,308 1108.1,309.8 1105.6,311.6 1103.1,313.2 1100.5,314.8 1098.7,315.9"/>
<path id="p117" d="M1133.8,257.1 1134.2,259.6 1134.4,262.1 1134.5,264.6 1134.5,267.1 1134.3,269.6 1134,272.1 1133.5,274.5 1132.9,277 1132.1,279.5 1131.2,281.9 1130.2,284.3 1129,286.7 1127.7,289.1 1126.2,291.4 1124.6,293.7 1122.9,295.9 1122.3,296.6"/>
<path id="p118" d="M963.3,258 961.5,256.5 959.9,254.9 958.4,253.4 957,251.8 955.8,250.1 954.7,248.5 953.7,246.8 952.9,245.1 952.3,243.3 951.7,241.6 951.4,239.8 951.1,238.1 951.1,236.3 951.1,234.6 951.3,232.8 951.7,231 951.8,230.5"/>
<path id="p119" d="M986.9,270 984.1,269.1 981.3,268 978.6,266.9 976.1,265.8 973.6,264.6 971.2,263.3 969,262 966.9,260.6 964.9,259.2 963,257.7 961.3,256.2 959.6,254.7 958.2,253.1 956.8,251.5 955.6,249.9 954.5,248.2 954.2,247.6"/>
<path id="p120" d="M1019,275.6 1016,275.4 1013,275.2 1010,274.9 1007.1,274.5 1004.1,274.1 1001.2,273.5 998.3,273 995.4,272.3 992.5,271.6 989.6,270.8 986.8,270 984,269 981.2,268 978.5,266.9 976,265.7 973.5,264.5 971.1,263.3 970.1,262.6"/>
<path id="p121" d="M1054.7,273.4 1051.7,273.8 1048.8,274.3 1045.8,274.7 1042.8,275 1039.8,275.3 1036.8,275.5 1033.8,275.6 1030.9,275.8 1027.9,275.8 1024.9,275.8 1021.9,275.7 1018.9,275.6 1015.9,275.4 1012.9,275.2 1010,274.8 1007,274.5 1004.1,274 1001.1,273.5 998.2,273 997,272.7"/>
<path id="p122" d="M1088.6,263.1 1085.8,264.3 1083.1,265.4 1080.2,266.5 1077.4,267.5 1074.6,268.5 1071.7,269.3 1068.8,270.2 1065.9,270.9 1063,271.7 1060,272.3 1057.1,272.9 1054.1,273.5 1051.2,273.9 1048.2,274.4 1045.2,274.7 1042.3,275.1 1039.3,275.3 1036.3,275.5 1033.3,275.7 1030.9,275.8"/>
<path id="p123" d="M1115.5,245.8 1113.3,247.8 1110.9,249.7 1108.5,251.5 1106.1,253.3 1103.6,255 1101,256.6 1098.4,258.1 1095.8,259.6 1093.1,260.9 1090.4,262.3 1087.6,263.5 1084.9,264.7 1082.1,265.8 1079.3,266.9 1076.4,267.8 1073.6,268.8 1070.7,269.6 1067.8,270.5 1066.6,270.8"/>
<path id="p124" d="M1131.4,223.5 1130.4,225.9 1129.2,228.3 1127.9,230.7 1126.5,233 1124.9,235.3 1123.2,237.6 1121.4,239.8 1119.4,241.9 1117.3,244.1 1115.1,246.1 1112.9,248.1 1110.5,250 1108.1,251.9 1105.6,253.6 1103.1,255.3 1100.5,256.9 1098.7,257.9"/>
<path id="p125" d="M1133.8,199.1 1134.2,201.6 1134.4,204.1 1134.5,206.6 1134.5,209.1 1134.3,211.6 1134,214.1 1133.5,216.6 1132.9,219.1 1132.1,221.5 1131.2,224 1130.2,226.4 1129,228.7 1127.7,231.1 1126.2,233.4 1124.6,235.7 1122.9,238 1122.3,238.7"/>
<path id="p126" d="M963.3,205.3 961.5,203.7 959.9,202 958.4,200.4 957,198.7 955.8,196.9 954.7,195.2 953.7,193.4 952.9,191.6 952.3,189.7 951.7,187.9 951.4,186 951.1,184.2 951.1,182.3 951.1,180.5 951.3,178.6 951.7,176.8 951.8,176.2"/>
<path id="p127" d="M986.9,218.3 984.1,217.2 981.3,216.1 978.7,214.9 976.1,213.7 973.6,212.4 971.3,211 969,209.6 966.9,208.1 964.9,206.6 963,205 961.3,203.4 959.7,201.8 958.2,200.1 956.8,198.4 955.6,196.7 954.5,194.9 954.2,194.3"/>
<path id="p128" d="M1019,224.8 1016,224.6 1013,224.2 1010.1,223.9 1007.1,223.4 1004.2,222.9 1001.3,222.3 998.3,221.6 995.5,220.9 992.6,220.1 989.7,219.2 986.9,218.3 984.1,217.3 981.4,216.1 978.7,215 976.1,213.7 973.7,212.4 971.3,211 970.1,210.3"/>
<path id="p129" d="M1054.7,224.5 1051.7,224.6 1048.7,224.8 1045.7,224.9 1042.7,224.9 1039.7,225.1 1036.7,225.2 1033.7,225.3 1030.7,225.3 1027.7,225.3 1024.7,225.2 1021.8,225 1018.8,224.8 1015.8,224.6 1012.8,224.2 1009.9,223.8 1006.9,223.4 1004,222.8 1001.1,222.3 998.1,221.6 997,221.3"/>
<path id="p130" d="M1088.6,217.8 1085.7,218.7 1082.8,219.6 1079.9,220.3 1077,221.1 1074.1,221.7 1071.1,222.3 1068.1,222.8 1065.2,223.3 1062.2,223.7 1059.2,224 1056.2,224.3 1053.2,224.6 1050.2,224.7 1047.2,224.8 1044.2,224.9 1041.2,225 1038.2,225.2 1035.2,225.3 1032.2,225.3 1030.9,225.3"/>
<path id="p131" d="M1115.5,204.1 1113.2,205.7 1110.8,207.4 1108.3,208.9 1105.7,210.4 1103,211.8 1100.3,213.1 1097.5,214.4 1094.8,215.5 1091.9,216.6 1089.1,217.6 1086.2,218.6 1083.3,219.4 1080.4,220.2 1077.5,220.9 1074.6,221.6 1071.6,222.2 1068.6,222.7 1066.6,223.1"/>
<path id="p132" d="M1131.4,185.4 1130.4,187.5 1129.2,189.5 1127.9,191.5 1126.5,193.5 1124.9,195.4 1123.2,197.3 1121.4,199.1 1119.4,200.9 1117.3,202.7 1115.1,204.4 1112.8,206 1110.4,207.6 1107.9,209.2 1105.2,210.7 1102.5,212.1 1099.8,213.4 1098.7,213.9"/>
<path id="p133" d="M1133.8,164.7 1134.2,166.8 1134.4,168.9 1134.5,171.1 1134.5,173.2 1134.3,175.3 1134,177.5 1133.5,179.6 1132.9,181.7 1132.1,183.8 1131.2,185.8 1130.2,187.9 1129,189.9 1127.7,191.9 1126.2,193.8 1124.6,195.7 1122.9,197.6 1122.3,198.2"/>
<path id="p134" d="M319.5,684 319.4,684 319.1,684 318.6,684 318,684 317.1,684 316.1,684 314.9,684 313.5,684 311.9,684 310.1,684 308.2,684.1 306.1,684.1 303.8,684.1 301.3,684.1 298.7,684.2 296.2,684.2 293.6,684.2 291.1,684.2 288.5,684.3 286,684.3 283.5,684.4 280.9,684.4 278.4,684.4 275.9,684.5 273.3,684.5 270.8,684.6 268.3,684.6 265.8,684.7 263.2,684.7 260.7,684.8 258.2,684.9 255.7,684.9 253.2,685 250.7,685 248.2,685.1 245.6,685.2 243.1,685.2 240.6,685.3 238.1,685.4 235.6,685.5 233.1,685.5 230.6,685.6 228.1,685.7 225.6,685.8 223.1,685.9 220.6,686 218.1,686 215.6,686.1 213.1,686.2 210.6,686.3 208.1,686.4 205.6,686.5 203.1,686.6 200.6,686.7 198.1,686.9 195.6,687 193.1,687.1 191,687.2"/>
<path id="p135" d="M210,686.4 207.5,686.5 205,686.6 202.5,686.7 200,686.8 197.5,686.9 195,687 192.5,687.1 190,687.2 187.5,687.4 185,687.5 182.5,687.6 180.1,687.8 177.6,687.9 175.1,688 172.6,688.2 170.1,688.3 167.6,688.5 165.1,688.7 162.6,688.8 160.1,689 157.7,689.2 155.2,689.4 152.7,689.5 150.2,689.7 147.7,689.9 145.3,690.1 142.8,690.4 140.3,690.6 137.8,690.8 135.4,691.1 132.9,691.3 130.4,691.6 128,691.8 125.5,692.1 123.1,692.4 120.6,692.7 118.2,693 115.7,693.4 113.3,693.7 110.8,694.1 108.4,694.5 106,694.9 103.6,695.4 101.2,695.9 98.8,696.4 96.5,697 94.2,697.6 92.2,698.2 90.3,698.8 88.6,699.5 87.1,700.2 85.7,700.9 84.5,701.6 83.6,702.3 82.8,703.1 82.2,703.8 81.8,704.6 81.5,705.4 81.5,706.2 81.7,706.8 82,707.4 82.6,708 83.3,708.6 84.2,709.2 85.3,709.7 86.6,710.3 88,710.9 89.7,711.5 91.5,712.1 93.5,712.7 95.7,713.3 98,713.9 100.5,714.5 103,715 105.5,715.6 108,716.1 110.5,716.6 113,717 115.5,717.5 118,717.9 120.5,718.3 123,718.8 125.5,719.2 128,719.6 130.5,719.9 133,720.3 135.5,720.7 138,721.1 140.5,721.4 143,721.8 145.4,722.1 147.9,722.5 150.4,722.8 152.9,723.2 155.4,723.5 157.9,723.8 160.4,724.2 162.9,724.5 165.4,724.8 167.8,725.1 170.3,725.5 172.8,725.8 175.3,726.1 177.8,726.4 180.3,726.7 182.8,727 185.2,727.3 187.7,727.7 190.2,728 192.7,728.3 195.2,728.6 197.6,728.9 200.1,729.2 202.6,729.5 205.1,729.8 207.6,730.1 210,730.4"/>
<path id="p136" d="M191,728.1 193.5,728.4 196,728.7 198.4,729 200.9,729.3 203.4,729.6 205.9,729.9 208.4,730.2 210.8,730.5 213.3,730.8 215.8,731.2 218.3,731.5 220.7,731.8 223.2,732.1 225.7,732.4 228.2,732.7 230.6,733 233.1,733.4 235.6,733.7 238.1,734 240.5,734.3 243,734.7 245.5,735 247.9,735.3 250.4,735.7 252.9,736 255.3,736.3 257.8,736.7 260.2,737 262.7,737.4 265.2,737.8 267.6,738.1 270.1,738.5 272.5,738.9 275,739.3 277.4,739.7 279.8,740.1 282.3,740.5 284.7,740.9 287.1,741.3 289.6,741.8 292,742.2 294.4,742.7 296.8,743.2 299.2,743.7 301.5,744.3 303.9,744.8 306.2,745.4 308.3,746 310.2,746.6 312,747.2 313.5,747.8 314.9,748.4 316.2,749 317.2,749.6 318,750.2 318.7,750.8 319.1,751.3 319.4,751.9 319.5,752.5 319.4,753.1 319.1,753.7 318.6,754.3 317.9,754.9 317.1,755.5 316,756.1 314.8,756.7 313.4,757.3 311.8,757.9 310,758.5 308.1,759 305.9,759.6 303.6,760.2 301.2,760.8 298.7,761.4 296.2,761.9 293.7,762.4 291.2,762.9 288.7,763.4 286.2,763.9 283.7,764.3 281.2,764.7 278.7,765.1 276.2,765.5 273.7,765.9 271.2,766.3 268.7,766.7 266.2,767.1 263.7,767.5 261.2,767.8 258.7,768.2 256.2,768.5 253.8,768.9 251.3,769.2 248.8,769.6 246.3,769.9 243.8,770.2 241.3,770.6 238.8,770.9 236.3,771.2 233.9,771.5 231.4,771.9 228.9,772.2 226.4,772.5 223.9,772.8 221.4,773.1 218.9,773.4 216.5,773.8 214,774.1 211.5,774.4 209,774.7 206.5,775 204,775.3 201.6,775.6 199.1,775.9 196.6,776.2 194.1,776.5 191.6,776.9 191,776.9"/>
<path id="p137" d="M210,774.6 207.5,774.9 205,775.2 202.6,775.5 200.1,775.8 197.6,776.1 195.1,776.4 192.6,776.7 190.2,777 187.7,777.3 185.2,777.7 182.7,778 180.3,778.3 177.8,778.6 175.3,778.9 172.8,779.2 170.4,779.5 167.9,779.9 165.4,780.2 162.9,780.5 160.5,780.8 158,781.2 155.5,781.5 153.1,781.8 150.6,782.2 148.1,782.5 145.7,782.8 143.2,783.2 140.8,783.5 138.3,783.9 135.8,784.3 133.4,784.6 130.9,785 128.5,785.4 126,785.8 123.6,786.2 121.2,786.6 118.7,787 116.3,787.4 113.9,787.8 111.4,788.3 109,788.7 106.6,789.2 104.2,789.7 101.8,790.2 99.5,790.8 97.1,791.3 94.8,791.9 92.7,792.5 90.8,793.1 89,793.7 87.5,794.3 86.1,794.9 84.8,795.5 83.8,796.1 83,796.7 82.3,797.3 81.9,797.8 81.6,798.4 81.5,799 81.6,799.6 81.9,800.2 82.4,800.8 83.1,801.4 83.9,802 85,802.6 86.2,803.2 87.6,803.8 89.2,804.4 91,805 92.9,805.5 95.1,806.1 97.4,806.7 99.8,807.3 102.3,807.9 104.8,808.4 107.3,808.9 109.8,809.4 112.3,809.9 114.8,810.4 117.3,810.8 119.8,811.2 122.3,811.6 124.8,812 127.3,812.4 129.8,812.8 132.3,813.2 134.8,813.6 137.3,814 139.8,814.3 142.3,814.7 144.8,815 147.2,815.4 149.7,815.7 152.2,816.1 154.7,816.4 157.2,816.7 159.7,817.1 162.2,817.4 164.7,817.7 167.1,818 169.6,818.4 172.1,818.7 174.6,819 177.1,819.3 179.6,819.6 182.1,819.9 184.5,820.3 187,820.6 189.5,820.9 192,821.2 194.5,821.5 197,821.8 199.4,822.1 201.9,822.4 204.4,822.7 206.9,823 209.4,823.4 210,823.4"/>
<path id="p138" d="M191,821.1 193.5,821.4 196,821.7 198.4,822 200.9,822.3 203.4,822.6 205.9,822.9 208.4,823.2 210.8,823.5 213.3,823.8 215.8,824.2 218.3,824.5 220.7,824.8 223.2,825.1 225.7,825.4 228.2,825.7 230.6,826 233.1,826.4 235.6,826.7 238.1,827 240.5,827.3 243,827.7 245.5,828 247.9,828.3 250.4,828.7 252.9,829 255.3,829.3 257.8,829.7 260.2,830 262.7,830.4 265.2,830.8 267.6,831.1 270.1,831.5 272.5,831.9 275,832.3 277.4,832.7 279.8,833.1 282.3,833.5 284.7,833.9 287.1,834.3 289.6,834.8 292,835.2 294.4,835.7 296.8,836.2 299.2,836.7 301.5,837.3 303.9,837.8 306.2,838.4 308.3,839 310.2,839.6 312,840.2 313.5,840.8 314.9,841.4 316.2,842 317.2,842.6 318,843.2 318.7,843.8 319.1,844.3 319.4,844.9 319.5,845.5 319.4,846.1 319.1,846.7 318.6,847.3 317.9,847.9 317.1,848.5 316,849.1 314.8,849.7 313.4,850.3 311.8,850.9 310,851.5 308.1,852 305.9,852.6 303.6,853.2 301.2,853.8 298.7,854.4 296.2,854.9 293.7,855.4 291.2,855.9 288.7,856.4 286.2,856.9 283.7,857.3 281.2,857.7 278.7,858.1 276.2,858.5 273.7,858.9 271.2,859.3 268.7,859.7 266.2,860.1 263.7,860.5 261.2,860.8 258.7,861.2 256.2,861.5 253.8,861.9 251.3,862.2 248.8,862.6 246.3,862.9 243.8,863.2 241.3,863.6 238.8,863.9 236.3,864.2 233.9,864.5 231.4,864.9 228.9,865.2 226.4,865.5 223.9,865.8 221.4,866.1 218.9,866.4 216.5,866.8 214,867.1 211.5,867.4 209,867.7 206.5,868 204,868.3 201.6,868.6 199.1,868.9 196.6,869.2 194.1,869.5 191.6,869.9 191,869.9"/>
<path id="p139" d="M210,867.6 207.5,867.9 205,868.2 202.6,868.5 200.1,868.8 197.6,869.1 195.1,869.4 192.6,869.7 190.2,870 187.7,870.3 185.2,870.7 182.7,871 180.3,871.3 177.8,871.6 175.3,871.9 172.8,872.2 170.4,872.5 167.9,872.9 165.4,873.2 162.9,873.5 160.5,873.8 158,874.2 155.5,874.5 153.1,874.8 150.6,875.2 148.1,875.5 145.7,875.8 143.2,876.2 140.8,876.5 138.3,876.9 135.8,877.3 133.4,877.6 130.9,878 128.5,878.4 126,878.8 123.6,879.2 121.2,879.6 118.7,880 116.3,880.4 113.9,880.8 111.4,881.3 109,881.7 106.6,882.2 104.2,882.7 101.8,883.2 99.5,883.8 97.1,884.3 94.8,884.9 92.7,885.5 90.8,886.1 89,886.7 87.5,887.3 86.1,887.9 84.8,888.5 83.8,889.1 83,889.7 82.3,890.3 81.9,890.8 81.6,891.4 81.5,892 81.6,892.6 81.9,893.2 82.4,893.8 83.1,894.4 83.9,895 85,895.6 86.2,896.2 87.6,896.8 89.2,897.4 91,898 92.9,898.5 95.1,899.1 97.4,899.7 99.8,900.3 102.3,900.9 104.8,901.4 107.3,901.9 109.8,902.4 112.3,902.9 114.8,903.4 117.3,903.8 119.8,904.2 122.3,904.6 124.8,905 127.3,905.4 129.8,905.8 132.3,906.2 134.8,906.6 137.3,907 139.8,907.3 142.3,907.7 144.8,908 147.2,908.4 149.7,908.7 152.2,909.1 154.7,909.4 157.2,909.7 159.7,910.1 162.2,910.4 164.7,910.7 167.1,911 169.6,911.4 172.1,911.7 174.6,912 177.1,912.3 179.6,912.6 182.1,912.9 184.5,913.3 187,913.6 189.5,913.9 192,914.2 194.5,914.5 197,914.8 199.4,915.1 201.9,915.4 204.4,915.7 206.9,916 209.4,916.4 210,916.4"/>
<path id="p140" d="M191,914.1 193.5,914.4 196,914.7 198.4,915 200.9,915.3 203.4,915.6 205.9,915.9 208.4,916.2 210.8,916.5 213.3,916.8 215.8,917.2 218.3,917.5 220.7,917.8 223.2,918.1 225.7,918.4 228.2,918.7 230.6,919 233.1,919.4 235.6,919.7 238.1,920 240.5,920.3 243,920.7 245.5,921 247.9,921.3 250.4,921.7 252.9,922 255.3,922.3 257.8,922.7 260.2,923 262.7,923.4 265.2,923.8 267.6,924.1 270.1,924.5 272.5,924.9 275,925.3 277.4,925.7 279.8,926.1 282.3,926.5 284.7,926.9 287.1,927.3 289.6,927.8 292,928.2 294.4,928.7 296.8,929.2 299.2,929.7 301.5,930.3 303.9,930.8 306.2,931.4 308.3,932 310.2,932.6 312,933.2 313.5,933.8 314.9,934.4 316.2,935 317.2,935.6 318,936.2 318.7,936.8 319.1,937.3 319.4,937.9 319.5,938.5 319.4,939.1 319.1,939.7 318.6,940.3 317.9,940.9 317.1,941.5 316,942.1 314.8,942.7 313.4,943.3 311.8,943.9 310,944.5 308.1,945 305.9,945.6 303.6,946.2 301.2,946.8 298.7,947.4 296.2,947.9 293.7,948.4 291.2,948.9 288.7,949.4 286.2,949.9 283.7,950.3 281.2,950.7 278.7,951.1 276.2,951.5 273.7,951.9 271.2,952.3 268.7,952.7 266.2,953.1 263.7,953.5 261.2,953.8 258.7,954.2 256.2,954.5 253.8,954.9 251.3,955.2 248.8,955.6 246.3,955.9 243.8,956.2 241.3,956.6 238.8,956.9 236.3,957.2 233.9,957.5 231.4,957.9 228.9,958.2 226.4,958.5 223.9,958.8 221.4,959.1 218.9,959.4 216.5,959.8 214,960.1 211.5,960.4 209,960.7 206.5,961 204,961.3 201.6,961.6 199.1,961.9 196.6,962.2 194.1,962.5 191.6,962.9 191,962.9"/>
<path id="p141" d="M210,960.6 207.5,960.9 205,961.2 202.6,961.5 200.1,961.8 197.6,962.1 195.1,962.4 192.6,962.7 190.2,963 187.7,963.3 185.2,963.7 182.7,964 180.3,964.3 177.8,964.6 175.3,964.9 172.8,965.2 170.4,965.5 167.9,965.9 165.4,966.2 162.9,966.5 160.5,966.8 158,967.2 155.5,967.5 153.1,967.8 150.6,968.2 148.1,968.5 145.7,968.8 143.2,969.2 140.8,969.5 138.3,969.9 135.8,970.3 133.4,970.6 130.9,971 128.5,971.4 126,971.8 123.6,972.2 121.2,972.6 118.7,973 116.3,973.4 113.9,973.8 111.4,974.3 109,974.7 106.6,975.2 104.2,975.7 101.8,976.2 99.5,976.8 97.1,977.3 94.8,977.9 92.7,978.5 90.8,979.1 89,979.7 87.5,980.3 86.1,980.9 84.8,981.5 83.8,982.1 83,982.7 82.3,983.3 81.9,983.8 81.6,984.4 81.5,985 81.6,985.6 81.9,986.2 82.4,986.8 83.1,987.4 83.9,988 85,988.6 86.2,989.2 87.6,989.8 89.2,990.4 91,991 92.9,991.5 95.1,992.1 97.4,992.7 99.8,993.3 102.3,993.9 104.8,994.4 107.3,994.9 109.8,995.4 112.3,995.9 114.8,996.4 117.3,996.8 119.8,997.2 122.3,997.6 124.8,998 127.3,998.4 129.8,998.8 132.3,999.2 134.8,999.6 137.3,1000 139.8,1000.3 142.3,1000.7 144.8,1001 147.2,1001.4 149.7,1001.7 152.2,1002.1 154.7,1002.4 157.2,1002.7 159.7,1003.1 162.2,1003.4 164.7,1003.7 167.1,1004 169.6,1004.4 172.1,1004.7 174.6,1005 177.1,1005.3 179.6,1005.6 182.1,1005.9 184.5,1006.3 187,1006.6 189.5,1006.9 192,1007.2 194.5,1007.5 197,1007.8 199.4,1008.1 201.9,1008.4 204.4,1008.7 206.9,1009 209.4,1009.4 210,1009.4"/>
<path id="p142" d="M191,1007.1 193.5,1007.4 196,1007.7 198.4,1008 200.9,1008.3 203.4,1008.6 205.9,1008.9 208.4,1009.2 210.8,1009.5 213.3,1009.8 215.8,1010.2 218.3,1010.5 220.7,1010.8 223.2,1011.1 225.7,1011.4 228.2,1011.7 230.6,1012 233.1,1012.4 235.6,1012.7 238.1,1013 240.5,1013.3 243,1013.7 245.5,1014 247.9,1014.3 250.4,1014.7 252.9,1015 255.3,1015.3 257.8,1015.7 260.2,1016 262.7,1016.4 265.2,1016.8 267.6,1017.1 270.1,1017.5 272.5,1017.9 275,1018.3 277.4,1018.7 279.8,1019.1 282.3,1019.5 284.7,1019.9 287.1,1020.3 289.6,1020.8 292,1021.2 294.4,1021.7 296.8,1022.2 299.2,1022.7 301.5,1023.3 303.9,1023.8 306.2,1024.4 308.3,1025 310.2,1025.6 312,1026.2 313.5,1026.8 314.9,1027.4 316.2,1028 317.2,1028.6 318,1029.2 318.7,1029.8 319.1,1030.3 319.4,1030.9 319.5,1031.5 319.4,1032.1 319.1,1032.7 318.6,1033.3 317.9,1033.9 317.1,1034.5 316,1035.1 314.8,1035.7 313.4,1036.3 311.8,1036.9 310,1037.5 308.1,1038 305.9,1038.6 303.6,1039.2 301.2,1039.8 298.7,1040.4 296.2,1040.9 293.7,1041.4 291.2,1041.9 288.7,1042.4 286.2,1042.9 283.7,1043.3 281.2,1043.7 278.7,1044.1 276.2,1044.5 273.7,1044.9 271.2,1045.3 268.7,1045.7 266.2,1046.1 263.7,1046.5 261.2,1046.8 258.7,1047.2 256.2,1047.5 253.8,1047.9 251.3,1048.2 248.8,1048.6 246.3,1048.9 243.8,1049.2 241.3,1049.6 238.8,1049.9 236.3,1050.2 233.9,1050.5 231.4,1050.9 228.9,1051.2 226.4,1051.5 223.9,1051.8 221.4,1052.1 218.9,1052.4 216.5,1052.8 214,1053.1 211.5,1053.4 209,1053.7 206.5,1054 204,1054.3 201.6,1054.6 199.1,1054.9 196.6,1055.2 194.1,1055.5 191.6,1055.9 191,1055.9"/>
<path id="p143" d="M210,1053.6 207.5,1053.9 205,1054.2 202.6,1054.5 200.1,1054.8 197.6,1055.1 195.1,1055.4 192.6,1055.7 190.2,1056 187.7,1056.3 185.2,1056.7 182.7,1057 180.3,1057.3 177.8,1057.6 175.3,1057.9 172.8,1058.2 170.4,1058.5 167.9,1058.9 165.4,1059.2 162.9,1059.5 160.5,1059.8 158,1060.2 155.5,1060.5 153.1,1060.8 150.6,1061.2 148.1,1061.5 145.7,1061.8 143.2,1062.2 140.8,1062.5 138.3,1062.9 135.8,1063.3 133.4,1063.6 130.9,1064 128.5,1064.4 126,1064.8 123.6,1065.2 121.2,1065.6 118.7,1066 116.3,1066.4 113.9,1066.8 111.4,1067.3 109,1067.7 106.6,1068.2 104.2,1068.7 101.8,1069.2 99.5,1069.8 97.1,1070.3 94.8,1070.9 92.7,1071.5 90.8,1072.1 89,1072.7 87.5,1073.3 86.1,1073.9 84.8,1074.5 83.8,1075.1 83,1075.7 82.3,1076.3 81.9,1076.8 81.6,1077.4 81.5,1078 81.6,1078.6 81.9,1079.2 82.4,1079.8 83.1,1080.4 83.9,1081 85,1081.6 86.2,1082.2 87.6,1082.8 89.2,1083.4 91,1084 92.9,1084.5 95.1,1085.1 97.4,1085.7 99.8,1086.3 102.3,1086.9 104.8,1087.4 107.3,1087.9 109.8,1088.4 112.3,1088.9 114.8,1089.4 117.3,1089.8 119.8,1090.2 122.3,1090.6 124.8,1091 127.3,1091.4 129.8,1091.8 132.3,1092.2 134.8,1092.6 137.3,1093 139.8,1093.3 142.3,1093.7 144.8,1094 147.2,1094.4 149.7,1094.7 152.2,1095.1 154.7,1095.4 157.2,1095.7 159.7,1096.1 162.2,1096.4 164.7,1096.7 167.1,1097 169.6,1097.4 172.1,1097.7 174.6,1098 177.1,1098.3 179.6,1098.6 182.1,1098.9 184.5,1099.3 187,1099.6 189.5,1099.9 192,1100.2 194.5,1100.5 197,1100.8 199.4,1101.1 201.9,1101.4 204.4,1101.7 206.9,1102 209.4,1102.4 210,1102.4"/>
<path id="p144" d="M191,1100.1 193.5,1100.4 196,1100.7 198.4,1101 200.9,1101.3 203.4,1101.6 205.9,1101.9 208.4,1102.2 210.8,1102.5 213.3,1102.8 215.8,1103.2 218.3,1103.5 220.7,1103.8 223.2,1104.1 225.7,1104.4 228.2,1104.7 230.6,1105 233.1,1105.4 235.6,1105.7 238.1,1106 240.5,1106.3 243,1106.7 245.5,1107 247.9,1107.3 250.4,1107.7 252.9,1108 255.3,1108.3 257.8,1108.7 260.2,1109 262.7,1109.4 265.2,1109.8 267.6,1110.1 270.1,1110.5 272.5,1110.9 275,1111.3 277.4,1111.7 279.8,1112.1 282.3,1112.5 284.7,1112.9 287.1,1113.3 289.6,1113.8 292,1114.2 294.4,1114.7 296.8,1115.2 299.2,1115.7 301.5,1116.3 303.9,1116.8 306.2,1117.4 308.3,1118 310.2,1118.6 312,1119.2 313.5,1119.8 314.9,1120.4 316.2,1121 317.2,1121.6 318,1122.2 318.7,1122.8 319.1,1123.3 319.4,1123.9 319.5,1124.5 319.4,1125.1 319.1,1125.7 318.6,1126.3 317.9,1126.9 317.1,1127.5 316,1128.1 314.8,1128.7 313.4,1129.3 311.8,1129.9 310,1130.5 308.1,1131 305.9,1131.6 303.6,1132.2 301.2,1132.8 298.7,1133.4 296.2,1133.9 293.7,1134.4 291.2,1134.9 288.7,1135.4 286.2,1135.9 283.7,1136.3 281.2,1136.7 278.7,1137.1 276.2,1137.5 273.7,1137.9 271.2,1138.3 268.7,1138.7 266.2,1139.1 263.7,1139.5 261.2,1139.8 258.7,1140.2 256.2,1140.5 253.8,1140.9 251.3,1141.2 248.8,1141.6 246.3,1141.9 243.8,1142.2 241.3,1142.6 238.8,1142.9 236.3,1143.2 233.9,1143.5 231.4,1143.9 228.9,1144.2 226.4,1144.5 223.9,1144.8 221.4,1145.1 218.9,1145.4 216.5,1145.8 214,1146.1 211.5,1146.4 209,1146.7 206.5,1147 204,1147.3 201.6,1147.6 199.1,1147.9 196.6,1148.2 194.1,1148.5 191.6,1148.9 191,1148.9"/>
<path id="p145" d="M210,1146.6 207.5,1146.9 205,1147.2 202.6,1147.5 200.1,1147.8 197.6,1148.1 195.1,1148.4 192.6,1148.7 190.2,1149 187.7,1149.3 185.2,1149.7 182.7,1150 180.3,1150.3 177.8,1150.6 175.3,1150.9 172.8,1151.2 170.4,1151.5 167.9,1151.9 165.4,1152.2 162.9,1152.5 160.5,1152.8 158,1153.2 155.5,1153.5 153.1,1153.8 150.6,1154.2 148.1,1154.5 145.7,1154.8 143.2,1155.2 140.8,1155.5 138.3,1155.9 135.8,1156.3 133.4,1156.6 130.9,1157 128.5,1157.4 126,1157.8 123.6,1158.2 121.2,1158.6 118.7,1159 116.3,1159.4 113.9,1159.8 111.4,1160.3 109,1160.7 106.6,1161.2 104.2,1161.7 101.8,1162.2 99.5,1162.8 97.1,1163.3 94.8,1163.9 92.7,1164.5 90.8,1165.1 89,1165.7 87.5,1166.3 86.1,1166.9 84.8,1167.5 83.8,1168.1 83,1168.7 82.3,1169.3 81.9,1169.8 81.6,1170.4 81.5,1171 81.6,1171.6 81.9,1172.2 82.4,1172.8 83.1,1173.4 83.9,1174 85,1174.6 86.2,1175.2 87.6,1175.8 89.2,1176.4 91,1177 92.9,1177.5 95.1,1178.1 97.4,1178.7 99.8,1179.3 102.3,1179.9 104.8,1180.4 107.3,1180.9 109.8,1181.4 112.3,1181.9 114.8,1182.4 117.3,1182.8 119.8,1183.2 122.3,1183.6 124.8,1184 127.3,1184.4 129.8,1184.8 132.3,1185.2 134.8,1185.6 137.3,1186 139.8,1186.3 142.3,1186.7 144.8,1187 147.2,1187.4 149.7,1187.7 152.2,1188.1 154.7,1188.4 157.2,1188.7 159.7,1189.1 162.2,1189.4 164.7,1189.7 167.1,1190 169.6,1190.4 172.1,1190.7 174.6,1191 177.1,1191.3 179.6,1191.6 182.1,1191.9 184.5,1192.3 187,1192.6 189.5,1192.9 192,1193.2 194.5,1193.5 197,1193.8 199.4,1194.1 201.9,1194.4 204.4,1194.7 206.9,1195 209.4,1195.4 210,1195.4"/>
<path id="p146" d="M191,1193.1 193.5,1193.4 196,1193.7 198.4,1194 200.9,1194.3 203.4,1194.6 205.9,1194.9 208.4,1195.2 210.8,1195.5 213.3,1195.8 215.8,1196.2 218.3,1196.5 220.7,1196.8 223.2,1197.1 225.7,1197.4 228.2,1197.7 230.6,1198 233.1,1198.4 235.6,1198.7 238.1,1199 240.5,1199.3 243,1199.7 245.5,1200 247.9,1200.3 250.4,1200.7 252.9,1201 255.3,1201.3 257.8,1201.7 260.2,1202 262.7,1202.4 265.2,1202.8 267.6,1203.1 270.1,1203.5 272.5,1203.9 275,1204.3 277.4,1204.7 279.8,1205.1 282.3,1205.5 284.7,1205.9 287.1,1206.3 289.6,1206.8 292,1207.2 294.4,1207.7 296.8,1208.2 299.2,1208.7 301.5,1209.3 303.9,1209.8 306.2,1210.4 308.3,1211 310.2,1211.6 312,1212.2 313.5,1212.8 314.9,1213.4 316.2,1214 317.2,1214.6 318,1215.2 318.7,1215.8 319.1,1216.3 319.4,1216.9 319.5,1217.5 319.4,1218.1 319.1,1218.7 318.6,1219.3 317.9,1219.9 317.1,1220.5 316,1221.1 314.8,1221.7 313.4,1222.3 311.8,1222.9 310,1223.5 308.1,1224 305.9,1224.6 303.6,1225.2 301.2,1225.8 298.7,1226.4 296.2,1226.9 293.7,1227.4 291.2,1227.9 288.7,1228.4 286.2,1228.9 283.7,1229.3 281.2,1229.7 278.7,1230.1 276.2,1230.5 273.7,1230.9 271.2,1231.3 268.7,1231.7 266.2,1232.1 263.7,1232.5 261.2,1232.8 258.7,1233.2 256.2,1233.5 253.8,1233.9 251.3,1234.2 248.8,1234.6 246.3,1234.9 243.8,1235.2 241.3,1235.6 238.8,1235.9 236.3,1236.2 233.9,1236.5 231.4,1236.9 228.9,1237.2 226.4,1237.5 223.9,1237.8 221.4,1238.1 218.9,1238.4 216.5,1238.8 214,1239.1 211.5,1239.4 209,1239.7 206.5,1240 204,1240.3 201.6,1240.6 199.1,1240.9 196.6,1241.2 194.1,1241.5 191.6,1241.9 191,1241.9"/>
<path id="p147" d="M210,1239.6 207.5,1239.9 205,1240.2 202.6,1240.5 200.1,1240.8 197.6,1241.1 195.1,1241.4 192.6,1241.7 190.2,1242 187.7,1242.3 185.2,1242.7 182.7,1243 180.3,1243.3 177.8,1243.6 175.3,1243.9 172.8,1244.2 170.4,1244.5 167.9,1244.9 165.4,1245.2 162.9,1245.5 160.5,1245.8 158,1246.2 155.5,1246.5 153.1,1246.8 150.6,1247.2 148.1,1247.5 145.7,1247.8 143.2,1248.2 140.8,1248.5 138.3,1248.9 135.8,1249.3 133.4,1249.6 130.9,1250 128.5,1250.4 126,1250.8 123.6,1251.2 121.2,1251.6 118.7,1252 116.3,1252.4 113.9,1252.8 111.4,1253.3 109,1253.7 106.6,1254.2 104.2,1254.7 101.8,1255.2 99.5,1255.8 97.1,1256.3 94.8,1256.9 92.7,1257.5 90.8,1258.1 89,1258.7 87.5,1259.3 86.1,1259.9 84.8,1260.5 83.8,1261.1 83,1261.7 82.3,1262.3 81.9,1262.8 81.6,1263.4 81.5,1264 81.6,1264.6 81.9,1265.2 82.4,1265.8 83.1,1266.4 83.9,1267 85,1267.6 86.2,1268.2 87.6,1268.8 89.2,1269.4 91,1270 92.9,1270.5 95.1,1271.1 97.4,1271.7 99.8,1272.3 102.3,1272.9 104.8,1273.4 107.3,1273.9 109.8,1274.4 112.3,1274.9 114.8,1275.4 117.3,1275.8 119.8,1276.2 122.3,1276.6 124.8,1277 127.3,1277.4 129.8,1277.8 132.3,1278.2 134.8,1278.6 137.3,1279 139.8,1279.3 142.3,1279.7 144.8,1280 147.2,1280.4 149.7,1280.7 152.2,1281.1 154.7,1281.4 157.2,1281.7 159.7,1282.1 162.2,1282.4 164.7,1282.7 167.1,1283 169.6,1283.4 172.1,1283.7 174.6,1284 177.1,1284.3 179.6,1284.6 182.1,1284.9 184.5,1285.3 187,1285.6 189.5,1285.9 192,1286.2 194.5,1286.5 197,1286.8 199.4,1287.1 201.9,1287.4 204.4,1287.7 206.9,1288 209.4,1288.4 210,1288.4"/>
<path id="p148" d="M191,1286.1 193.5,1286.4 196,1286.7 198.4,1287 200.9,1287.3 203.4,1287.6 205.9,1287.9 208.4,1288.2 210.8,1288.5 213.3,1288.8 215.8,1289.2 218.3,1289.5 220.7,1289.8 223.2,1290.1 225.7,1290.4 228.2,1290.7 230.6,1291 233.1,1291.4 235.6,1291.7 238.1,1292 240.5,1292.3 243,1292.7 245.5,1293 247.9,1293.3 250.4,1293.7 252.9,1294 255.3,1294.3 257.8,1294.7 260.2,1295 262.7,1295.4 265.2,1295.8 267.6,1296.1 270.1,1296.5 272.5,1296.9 275,1297.3 277.4,1297.7 279.8,1298.1 282.3,1298.5 284.7,1298.9 287.1,1299.3 289.6,1299.8 292,1300.2 294.4,1300.7 296.8,1301.2 299.2,1301.7 301.5,1302.3 303.9,1302.8 306.2,1303.4 308.3,1304 310.2,1304.6 312,1305.2 313.5,1305.8 314.9,1306.4 316.2,1307 317.2,1307.6 318,1308.2 318.7,1308.8 319.1,1309.3 319.4,1309.9 319.5,1310.6 319.4,1311.5 319.1,1312.3 318.6,1313.2 317.9,1314 317.1,1314.8 316,1315.6 314.8,1316.4 313.4,1317.2 311.8,1317.9 310,1318.6 308.1,1319.3 305.9,1319.9 303.6,1320.6 301.2,1321.2 298.7,1321.8 296.2,1322.3 293.7,1322.8 291.2,1323.3 288.7,1323.7 286.2,1324.1 283.7,1324.5 281.1,1324.9 278.6,1325.2 276.1,1325.6 273.6,1325.9 271.1,1326.2 268.6,1326.5 266.1,1326.8 263.6,1327 261.1,1327.3 258.6,1327.5 256.1,1327.8 253.6,1328 251.1,1328.2 248.6,1328.4 246.1,1328.6 243.6,1328.8 241.1,1329 238.6,1329.2 236.1,1329.4 233.6,1329.6 231.1,1329.8 228.6,1329.9 226.1,1330.1 223.6,1330.2 221.1,1330.4 218.6,1330.5 216.1,1330.7 213.6,1330.8 211.1,1331 208.6,1331.1 206.1,1331.2 203.6,1331.3 201.1,1331.5 198.6,1331.6 196.1,1331.7 193.6,1331.8 191.1,1331.9 191,1331.9"/>
<path id="p149" d="M210,1331 207.5,1331.1 205,1331.3 202.5,1331.4 200,1331.5 197.5,1331.6 195,1331.8 192.5,1331.9 190,1332 187.5,1332.1 185,1332.2 182.5,1332.3 180.1,1332.4 177.6,1332.5 175.1,1332.6 172.6,1332.7 170.1,1332.8 167.6,1332.8 165.1,1332.9 162.6,1333 160.1,1333.1 157.6,1333.2 155.1,1333.2 152.7,1333.3 150.2,1333.4 147.7,1333.4 145.2,1333.5 142.7,1333.6 140.2,1333.6 137.8,1333.7 135.3,1333.7 132.8,1333.8 130.3,1333.9 127.8,1333.9 125.4,1334 122.9,1334 120.4,1334.1 118,1334.1 115.5,1334.1 113,1334.2 110.6,1334.2 108.1,1334.3 105.7,1334.3 103.2,1334.3 100.8,1334.4 98.4,1334.4 96,1334.4 93.8,1334.4 91.8,1334.4 89.9,1334.5 88.3,1334.5 86.8,1334.5 85.5,1334.5 84.3,1334.5 83.4,1334.5 82.6,1334.5 82.1,1334.5 81.7,1334.5 81.5,1334.5 81.5,1334.5"/>
</defs>
<rect width="1445" height="1445" fill="#fff"/>
<circle cx="200.2" cy="363.0" r="119.75" fill="none" stroke="#6a6a6e" stroke-width="34.5"/>
<path d="M112.1,258.1 A137.0,137.0 0 0 0 181.1,498.7 L185.9,464.5 A102.5,102.5 0 0 1 134.3,284.5 Z" fill="url(#rg)"/>
<path d="M91.3,423.4 L91.6,425.1 L91.8,426.8 L92.1,428.5 L92.5,430.2 L93,431.8 L93.6,433.3 L94.2,434.9 L94.9,436.5 L95.5,438.1 L96.3,439.6 L97.1,441 L97.9,442.5 L98.8,443.9 L99.7,445.3 L100.6,446.7 L101.6,448.1 L102.5,449.5 L103.6,450.8 L104.8,452 L105.9,453.2 L107.1,454.4 L108.3,455.6 L109.5,456.8 L110.7,458 L111.9,459.1 L113.2,460.2 L114.4,461.4 L115.7,462.4 L117,463.5 L118.4,464.5 L119.7,465.5 L121.1,466.5 L122.4,467.5 L123.8,468.4 L125.2,469.4 L126.6,470.3 L128,471.2 L129.4,472.1 L130.9,472.9 L132.3,473.8 L133.8,474.6 L135.3,475.4 L136.6,476.3 L138,477.2 L139.5,478.1 L140.9,479 L142.3,479.9 L143.8,480.7 L145.3,481.6 L146.7,482.4 L148.2,483.2 L149.7,483.9 L151.2,484.7 L152.8,485.4 L154.3,486.2 L155.8,486.9 L157.4,487.7 L158.9,488.4 L160.4,489.2 L162,489.9 L163.6,490.6 L165.2,491.3 L166.8,491.9 L168.4,492.6 L170,493.2 L171.6,493.8 L173.3,494.4 L174.9,495 L176.6,495.6 L178.2,496.1 L179.9,496.6 L181.6,497.1 L183.3,497.6 L185,498.1 L186.7,498.5 L188.4,499 L190.2,499.4 L191.9,499.7 L193.6,500.1 L195.4,500.4 L196.6,466.7 L195.2,466.7 L193.9,466.6 L192.6,466.5 L191.2,466.4 L189.9,466.3 L188.6,466.1 L187.3,466 L185.9,465.8 L184.6,465.6 L183.3,465.4 L182,465.2 L180.7,464.9 L179.4,464.7 L178,464.4 L176.7,464.1 L175.4,463.8 L174.1,463.5 L172.9,463.1 L171.6,462.8 L170.3,462.4 L169,462 L167.7,461.6 L166.5,461.2 L165.2,460.7 L164,460.3 L162.7,459.8 L161.5,459.3 L160.2,458.8 L159,458.3 L157.8,457.7 L156.6,457.2 L155.3,456.6 L154.1,456 L153,455.4 L151.8,454.8 L150.6,454.2 L149.4,453.5 L148.3,452.9 L147.1,452.2 L146,451.5 L144.8,450.8 L143.7,450.1 L142.6,449.3 L141.5,448.6 L140.4,447.8 L139.3,447.1 L138.2,446.3 L137.1,445.6 L136,444.8 L134.9,444 L133.8,443.2 L132.7,442.4 L131.6,441.6 L130.6,440.8 L129.5,439.9 L128.5,439.1 L127.3,438.4 L126.2,437.6 L125,436.9 L123.9,436.1 L122.7,435.3 L121.6,434.4 L120.5,433.6 L119.4,432.7 L118.3,431.9 L117.1,431.1 L115.8,430.4 L114.5,429.6 L113.3,428.8 L112,428 L110.8,427.1 L109.5,426.3 L108.2,425.5 L106.8,424.6 L105.5,423.8 L104.2,422.9 L102.9,422 L101.5,421.1 L100.1,420.2 L98.7,419.2 A4.2,4.2 0 0 0 91.3,423.4 Z" fill="#6a6a6e"/>
<path d="M171.6,493.8 L170,493.2 L168.4,492.6 L166.8,491.9 L165.2,491.3 L163.6,490.6 L162,489.9 L160.4,489.2 L158.9,488.4 L157.4,487.7 L155.8,486.9 L154.3,486.2 L152.8,485.4 L151.2,484.7 L149.7,483.9 L148.2,483.2 L146.7,482.4 L145.3,481.6 L143.8,480.7 L142.3,479.9 L140.9,479 L139.5,478.1 L138,477.2 L136.6,476.3 L135.3,475.4 L133.8,474.6 L132.3,473.8 L130.9,472.9 L129.4,472.1 L128,471.2 L126.6,470.3 L125.2,469.4 L123.8,468.4 L122.4,467.5 L121.1,466.5 L119.7,465.5 L118.4,464.5 L117,463.5 L115.7,462.4 L114.4,461.4 L113.2,460.2 L111.9,459.1 L110.7,458 L109.5,456.8 L108.3,455.6 L107.1,454.4 L105.9,453.2 L104.8,452 L103.6,450.8 L102.5,449.5 L101.6,448.1 L100.6,446.7 L99.7,445.3 L98.8,443.9 L97.9,442.5 L97.1,441 L96.3,439.6 L95.5,438.1 L94.9,436.5 L94.2,434.9 L93.6,433.3 L93,431.8 L92.5,430.2 L92.1,428.5 L91.8,426.8 L91.6,425.1 L91.3,423.4 A4.2,4.2 0 0 1 98.7,419.2 L98.7,419.2 L100.1,420.2 L101.5,421.1 L102.9,422 L104.2,422.9 L105.5,423.8 L106.8,424.6 L108.2,425.5 L109.5,426.3 L110.8,427.1 L112,428 L113.3,428.8 L114.5,429.6 L115.8,430.4 L117.1,431.1 L118.3,431.9 L119.4,432.7 L120.5,433.6 L121.6,434.4 L122.7,435.3 L123.9,436.1 L125,436.9 L126.2,437.6 L127.3,438.4 L128.5,439.1 L129.5,439.9 L130.6,440.8 L131.6,441.6 L132.7,442.4 L133.8,443.2 L134.9,444 L136,444.8 L137.1,445.6 L138.2,446.3 L139.3,447.1 L140.4,447.8 L141.5,448.6" fill="none" stroke="#050505" stroke-width="3" stroke-linejoin="round"/>
<line x1="112.1" y1="258.1" x2="134.3" y2="284.5" stroke="#050505" stroke-width="2.5"/>
<circle cx="200.2" cy="363.0" r="135.5" fill="none" stroke="#050505" stroke-width="3.8"/>
<circle cx="200.2" cy="363.0" r="103.8" fill="none" stroke="#050505" stroke-width="3"/>
<polyline points="466.9,178.5 384.5,178.5 322,241" fill="none" stroke="#15151c" stroke-width="2"/>
<polygon points="296.6,265.3 325.7,225.1 338.1,237.6" fill="#1c1c2a"/>
<polyline points="461.7,544.1 379.5,544.1 308,472" fill="none" stroke="#15151c" stroke-width="2"/>
<polygon points="273.4,437.1 315.6,466.4 301.9,479.4" fill="#1c1c2a"/>
<text font-size="85" stroke="#0d0d0d" stroke-width="2.4" stroke-linejoin="round" transform="translate(481.25,204.78) scale(0.5000,0.9601)">O</text>
<text font-size="85" stroke="#0d0d0d" stroke-width="2.4" stroke-linejoin="round" transform="translate(520.71,204.75) scale(0.5523,0.9606)">D</text>
<text font-size="85" stroke="#0d0d0d" stroke-width="2.4" stroke-linejoin="round" transform="translate(577.47,197.24) scale(0.6439,0.8064)">(</text>
<text font-size="85" stroke="#0d0d0d" stroke-width="2.4" stroke-linejoin="round" transform="translate(600.54,204.78) scale(0.6721,0.9295)">m</text>
<text font-size="85" stroke="#0d0d0d" stroke-width="2.4" stroke-linejoin="round" transform="translate(654.78,204.80) scale(0.6310,0.9489)">a</text>
<text font-size="85" stroke="#0d0d0d" stroke-width="2.4" stroke-linejoin="round" transform="translate(691.06,204.76) scale(0.6012,0.9471)">x</text>
<text font-size="85" stroke="#0d0d0d" stroke-width="2.4" stroke-linejoin="round" transform="translate(724.61,197.24) scale(0.6439,0.8064)">)</text>
<text font-size="85" stroke="#0d0d0d" stroke-width="2.4" stroke-linejoin="round" transform="translate(480.45,566.25) scale(0.6781,0.9606)">I</text>
<text font-size="85" stroke="#0d0d0d" stroke-width="2.4" stroke-linejoin="round" transform="translate(502.57,566.25) scale(0.5615,0.9606)">D</text>
<text font-size="85" stroke="#0d0d0d" stroke-width="2.4" stroke-linejoin="round" transform="translate(559.96,558.74) scale(0.6136,0.8064)">(</text>
<text font-size="85" stroke="#0d0d0d" stroke-width="2.4" stroke-linejoin="round" transform="translate(582.15,566.28) scale(0.6706,0.9295)">m</text>
<text font-size="85" stroke="#0d0d0d" stroke-width="2.4" stroke-linejoin="round" transform="translate(637.00,566.30) scale(0.6383,0.9141)">i</text>
<text font-size="85" stroke="#0d0d0d" stroke-width="2.4" stroke-linejoin="round" transform="translate(655.27,566.28) scale(0.6207,0.9295)">n</text>
<text font-size="85" stroke="#0d0d0d" stroke-width="2.4" stroke-linejoin="round" transform="translate(692.91,558.74) scale(0.6477,0.8064)">)</text>
<text font-size="85" stroke="#0d0d0d" stroke-width="2.4" stroke-linejoin="round" transform="translate(416.53,1010.35) scale(0.5717,0.9606)">L</text>
<text font-size="85" stroke="#0d0d0d" stroke-width="2.4" stroke-linejoin="round" transform="translate(449.55,1010.40) scale(0.6414,0.9489)">e</text>
<text font-size="85" stroke="#0d0d0d" stroke-width="2.4" stroke-linejoin="round" transform="translate(483.88,1010.38) scale(0.6414,0.9295)">n</text>
<text font-size="85" stroke="#0d0d0d" stroke-width="2.4" stroke-linejoin="round" transform="translate(518.54,1007.88) scale(0.7228,0.8761)">g</text>
<text font-size="85" stroke="#0d0d0d" stroke-width="2.4" stroke-linejoin="round" transform="translate(555.34,1010.37) scale(0.6934,0.9607)">t</text>
<text font-size="85" stroke="#0d0d0d" stroke-width="2.4" stroke-linejoin="round" transform="translate(579.31,1010.40) scale(0.6157,0.9141)">h</text>
<text font-size="85" stroke="#0d0d0d" stroke-width="2.4" stroke-linejoin="round" transform="translate(960.50,842.15) scale(0.5560,0.9606)">D</text>
<text font-size="85" stroke="#0d0d0d" stroke-width="2.4" stroke-linejoin="round" transform="translate(1000.52,842.20) scale(0.6552,0.9489)">e</text>
<text font-size="85" stroke="#0d0d0d" stroke-width="2.4" stroke-linejoin="round" transform="translate(1035.40,842.20) scale(0.6769,0.9141)">f</text>
<text font-size="85" stroke="#0d0d0d" stroke-width="2.4" stroke-linejoin="round" transform="translate(1058.73,842.20) scale(0.6099,0.9141)">l</text>
<text font-size="85" stroke="#0d0d0d" stroke-width="2.4" stroke-linejoin="round" transform="translate(1077.52,842.20) scale(0.6552,0.9489)">e</text>
<text font-size="85" stroke="#0d0d0d" stroke-width="2.4" stroke-linejoin="round" transform="translate(1113.87,842.20) scale(0.6310,0.9489)">c</text>
<text font-size="85" stroke="#0d0d0d" stroke-width="2.4" stroke-linejoin="round" transform="translate(1148.24,842.17) scale(0.6934,0.9607)">t</text>
<text font-size="85" stroke="#0d0d0d" stroke-width="2.4" stroke-linejoin="round" transform="translate(1171.03,842.20) scale(0.6738,0.9141)">i</text>
<text font-size="85" stroke="#0d0d0d" stroke-width="2.4" stroke-linejoin="round" transform="translate(1190.65,842.20) scale(0.5975,0.9489)">o</text>
<text font-size="85" stroke="#0d0d0d" stroke-width="2.4" stroke-linejoin="round" transform="translate(1225.21,842.18) scale(0.6345,0.9295)">n</text>
<text font-size="85" stroke="#0d0d0d" stroke-width="2.4" stroke-linejoin="round" transform="translate(1279.46,834.64) scale(0.6136,0.8064)">(</text>
<text font-size="85" stroke="#0d0d0d" stroke-width="2.4" stroke-linejoin="round" transform="translate(1302.17,842.18) scale(0.6662,0.9295)">m</text>
<text font-size="85" stroke="#0d0d0d" stroke-width="2.4" stroke-linejoin="round" transform="translate(1356.70,842.20) scale(0.6184,0.9489)">a</text>
<text font-size="85" stroke="#0d0d0d" stroke-width="2.4" stroke-linejoin="round" transform="translate(1392.07,842.16) scale(0.6095,0.9471)">x</text>
<text font-size="85" stroke="#0d0d0d" stroke-width="2.4" stroke-linejoin="round" transform="translate(1425.69,834.64) scale(0.6250,0.8064)">)</text>
<g fill="none" stroke-linejoin="round" stroke-linecap="butt">
<use href="#p1" stroke="#050506" stroke-width="28.0" stroke-dasharray="0 3.0 24.6 9999"/>
<use href="#p1" stroke="#0f0f12" stroke-width="22.400000000000002" stroke-dasharray="0 2.4 25.2 9999"/>
<use href="#p1" stroke="#19191f" stroke-width="16.8" transform="translate(0,0.5)" stroke-dasharray="0 1.8 25.8 9999"/>
<use href="#p1" stroke="#24242b" stroke-width="11.9" transform="translate(0,0.5)" stroke-dasharray="0 1.2 26.4 9999"/>
<use href="#p1" stroke="#303037" stroke-width="7.0" transform="translate(0,0.8)" stroke-dasharray="0 0.6 27.0 9999"/>
<use href="#p1" stroke="#3d3d42" stroke-width="3.08" transform="translate(0,0.8)"/>
<use href="#p2" stroke="#050506" stroke-width="28.0" stroke-dasharray="0 3.0 38.5 9999"/>
<use href="#p2" stroke="#0f0f12" stroke-width="22.400000000000002" stroke-dasharray="0 2.4 39.7 9999"/>
<use href="#p2" stroke="#1a1a21" stroke-width="16.8" transform="translate(0,0.5)" stroke-dasharray="0 1.8 40.9 9999"/>
<use href="#p2" stroke="#26262d" stroke-width="11.9" transform="translate(0,0.5)" stroke-dasharray="0 1.2 42.1 9999"/>
<use href="#p2" stroke="#33333a" stroke-width="7.0" transform="translate(0,0.8)" stroke-dasharray="0 0.6 43.3 9999"/>
<use href="#p2" stroke="#424247" stroke-width="3.08" transform="translate(0,0.8)"/>
<use href="#p3" stroke="#050506" stroke-width="28.0" stroke-dasharray="0 3.0 47.1 9999"/>
<use href="#p3" stroke="#0f0f12" stroke-width="22.400000000000002" stroke-dasharray="0 2.4 48.3 9999"/>
<use href="#p3" stroke="#1c1c22" stroke-width="16.8" transform="translate(0,0.5)" stroke-dasharray="0 1.8 49.5 9999"/>
<use href="#p3" stroke="#292931" stroke-width="11.9" transform="translate(0,0.5)" stroke-dasharray="0 1.2 50.7 9999"/>
<use href="#p3" stroke="#383840" stroke-width="7.0" transform="translate(0,0.8)" stroke-dasharray="0 0.6 51.9 9999"/>
<use href="#p3" stroke="#49494e" stroke-width="3.08" transform="translate(0,0.8)"/>
<use href="#p4" stroke="#050506" stroke-width="28.0" stroke-dasharray="0 3.0 52.5 9999"/>
<use href="#p4" stroke="#0f0f12" stroke-width="22.400000000000002" stroke-dasharray="0 2.4 53.7 9999"/>
<use href="#p4" stroke="#1d1d24" stroke-width="16.8" transform="translate(0,0.5)" stroke-dasharray="0 1.8 54.9 9999"/>
<use href="#p4" stroke="#2b2b34" stroke-width="11.9" transform="translate(0,0.5)" stroke-dasharray="0 1.2 56.1 9999"/>
<use href="#p4" stroke="#3c3c43" stroke-width="7.0" transform="translate(0,0.8)" stroke-dasharray="0 0.6 57.3 9999"/>
<use href="#p4" stroke="#4d4d53" stroke-width="3.08" transform="translate(0,0.8)"/>
<use href="#p5" stroke="#050506" stroke-width="28.0" stroke-dasharray="0 3.0 52.4 9999"/>
<use href="#p5" stroke="#0f0f12" stroke-width="22.400000000000002" stroke-dasharray="0 2.4 53.6 9999"/>
<use href="#p5" stroke="#1d1d24" stroke-width="16.8" transform="translate(0,0.5)" stroke-dasharray="0 1.8 54.8 9999"/>
<use href="#p5" stroke="#2a2a33" stroke-width="11.9" transform="translate(0,0.5)" stroke-dasharray="0 1.2 56.0 9999"/>
<use href="#p5" stroke="#3b3b43" stroke-width="7.0" transform="translate(0,0.8)" stroke-dasharray="0 0.6 57.2 9999"/>
<use href="#p5" stroke="#4d4d53" stroke-width="3.08" transform="translate(0,0.8)"/>
<use href="#p6" stroke="#050506" stroke-width="28.0" stroke-dasharray="0 3.0 46.8 9999"/>
<use href="#p6" stroke="#0f0f12" stroke-width="22.400000000000002" stroke-dasharray="0 2.4 48.0 9999"/>
<use href="#p6" stroke="#1a1a21" stroke-width="16.8" transform="translate(0,0.5)" stroke-dasharray="0 1.8 49.2 9999"/>
<use href="#p6" stroke="#26262e" stroke-width="11.9" transform="translate(0,0.5)" stroke-dasharray="0 1.2 50.4 9999"/>
<use href="#p6" stroke="#34343b" stroke-width="7.0" transform="translate(0,0.8)" stroke-dasharray="0 0.6 51.6 9999"/>
<use href="#p6" stroke="#434348" stroke-width="3.08" transform="translate(0,0.8)"/>
<use href="#p7" stroke="#050506" stroke-width="28.0" stroke-dasharray="0 3.0 37.9 9999"/>
<use href="#p7" stroke="#0f0f12" stroke-width="22.400000000000002" stroke-dasharray="0 2.4 39.1 9999"/>
<use href="#p7" stroke="#17171d" stroke-width="16.8" transform="translate(0,0.5)" stroke-dasharray="0 1.8 40.3 9999"/>
<use href="#p7" stroke="#202026" stroke-width="11.9" transform="translate(0,0.5)" stroke-dasharray="0 1.2 41.5 9999"/>
<use href="#p7" stroke="#2a2a30" stroke-width="7.0" transform="translate(0,0.8)" stroke-dasharray="0 0.6 42.7 9999"/>
<use href="#p7" stroke="#35353a" stroke-width="3.08" transform="translate(0,0.8)"/>
<use href="#p8" stroke="#050506" stroke-width="28.0" stroke-dasharray="0 3.0 30.5 9999"/>
<use href="#p8" stroke="#0f0f12" stroke-width="22.400000000000002" stroke-dasharray="0 2.4 31.7 9999"/>
<use href="#p8" stroke="#15151a" stroke-width="16.8" transform="translate(0,0.5)" stroke-dasharray="0 1.8 32.9 9999"/>
<use href="#p8" stroke="#1b1b21" stroke-width="11.9" transform="translate(0,0.5)" stroke-dasharray="0 1.2 34.1 9999"/>
<use href="#p8" stroke="#232328" stroke-width="7.0" transform="translate(0,0.8)" stroke-dasharray="0 0.6 35.3 9999"/>
<use href="#p8" stroke="#2b2b2f" stroke-width="3.08" transform="translate(0,0.8)"/>
<path d="M985.8,534 988.5,532.8 991.4,531.7 994.2,530.6 997,529.7 999.9,528.8 1002.8,527.9 1005.8,527.2 1008.7,526.5 1011.6,525.9 1014.6,525.3 1017.6,524.8 1020.5,524.4 1023.5,524 1026.5,523.7 1029.5,523.4 1032.5,523.2 1035.5,523.1 1038.5,523 1041.5,523 1044.5,523 1047.5,523.1 1050.5,523.2 1053.5,523.4 1054.6,523.5" stroke="#50507e" stroke-opacity="0.55" stroke-width="6" stroke-linecap="round" transform="translate(0,2)" filter="url(#pblur)"/>
<use href="#p9" stroke="#050506" stroke-width="28.0" stroke-dasharray="0 3.0 36.6 9999"/>
<use href="#p9" stroke="#0f0f12" stroke-width="22.400000000000002" stroke-dasharray="0 2.4 37.8 9999"/>
<use href="#p9" stroke="#19191f" stroke-width="16.8" transform="translate(0,0.5)" stroke-dasharray="0 1.8 39.0 9999"/>
<use href="#p9" stroke="#23232b" stroke-width="11.9" transform="translate(0,0.5)" stroke-dasharray="0 1.2 40.2 9999"/>
<use href="#p9" stroke="#303037" stroke-width="7.0" transform="translate(0,0.8)" stroke-dasharray="0 0.6 41.4 9999"/>
<use href="#p9" stroke="#3d3d42" stroke-width="3.08" transform="translate(0,0.8)"/>
<use href="#p10" stroke="#050506" stroke-width="28.0" stroke-dasharray="0 3.0 42.4 9999"/>
<use href="#p10" stroke="#0f0f12" stroke-width="22.400000000000002" stroke-dasharray="0 2.4 43.6 9999"/>
<use href="#p10" stroke="#1a1a21" stroke-width="16.8" transform="translate(0,0.5)" stroke-dasharray="0 1.8 44.8 9999"/>
<use href="#p10" stroke="#26262d" stroke-width="11.9" transform="translate(0,0.5)" stroke-dasharray="0 1.2 46.0 9999"/>
<use href="#p10" stroke="#33333a" stroke-width="7.0" transform="translate(0,0.8)" stroke-dasharray="0 0.6 47.2 9999"/>
<use href="#p10" stroke="#424247" stroke-width="3.08" transform="translate(0,0.8)"/>
<use href="#p11" stroke="#050506" stroke-width="28.0" stroke-dasharray="0 3.0 49.5 9999"/>
<use href="#p11" stroke="#0f0f12" stroke-width="22.400000000000002" stroke-dasharray="0 2.4 50.7 9999"/>
<use href="#p11" stroke="#1c1c22" stroke-width="16.8" transform="translate(0,0.5)" stroke-dasharray="0 1.8 51.9 9999"/>
<use href="#p11" stroke="#292931" stroke-width="11.9" transform="translate(0,0.5)" stroke-dasharray="0 1.2 53.1 9999"/>
<use href="#p11" stroke="#383840" stroke-width="7.0" transform="translate(0,0.8)" stroke-dasharray="0 0.6 54.3 9999"/>
<use href="#p11" stroke="#49494e" stroke-width="3.08" transform="translate(0,0.8)"/>
<use href="#p12" stroke="#050506" stroke-width="28.0" stroke-dasharray="0 3.0 53.5 9999"/>
<use href="#p12" stroke="#0f0f12" stroke-width="22.400000000000002" stroke-dasharray="0 2.4 54.7 9999"/>
<use href="#p12" stroke="#1d1d24" stroke-width="16.8" transform="translate(0,0.5)" stroke-dasharray="0 1.8 55.9 9999"/>
<use href="#p12" stroke="#2b2b34" stroke-width="11.9" transform="translate(0,0.5)" stroke-dasharray="0 1.2 57.1 9999"/>
<use href="#p12" stroke="#3c3c43" stroke-width="7.0" transform="translate(0,0.8)" stroke-dasharray="0 0.6 58.3 9999"/>
<use href="#p12" stroke="#4d4d53" stroke-width="3.08" transform="translate(0,0.8)"/>
<use href="#p13" stroke="#050506" stroke-width="28.0" stroke-dasharray="0 3.0 52.1 9999"/>
<use href="#p13" stroke="#0f0f12" stroke-width="22.400000000000002" stroke-dasharray="0 2.4 53.3 9999"/>
<use href="#p13" stroke="#1d1d24" stroke-width="16.8" transform="translate(0,0.5)" stroke-dasharray="0 1.8 54.5 9999"/>
<use href="#p13" stroke="#2a2a33" stroke-width="11.9" transform="translate(0,0.5)" stroke-dasharray="0 1.2 55.7 9999"/>
<use href="#p13" stroke="#3b3b43" stroke-width="7.0" transform="translate(0,0.8)" stroke-dasharray="0 0.6 56.9 9999"/>
<use href="#p13" stroke="#4d4d53" stroke-width="3.08" transform="translate(0,0.8)"/>
<use href="#p14" stroke="#050506" stroke-width="28.0" stroke-dasharray="0 3.0 45.0 9999"/>
<use href="#p14" stroke="#0f0f12" stroke-width="22.400000000000002" stroke-dasharray="0 2.4 46.2 9999"/>
<use href="#p14" stroke="#1a1a21" stroke-width="16.8" transform="translate(0,0.5)" stroke-dasharray="0 1.8 47.4 9999"/>
<use href="#p14" stroke="#26262e" stroke-width="11.9" transform="translate(0,0.5)" stroke-dasharray="0 1.2 48.6 9999"/>
<use href="#p14" stroke="#34343b" stroke-width="7.0" transform="translate(0,0.8)" stroke-dasharray="0 0.6 49.8 9999"/>
<use href="#p14" stroke="#434348" stroke-width="3.08" transform="translate(0,0.8)"/>
<use href="#p15" stroke="#050506" stroke-width="28.0" stroke-dasharray="0 3.0 34.5 9999"/>
<use href="#p15" stroke="#0f0f12" stroke-width="22.400000000000002" stroke-dasharray="0 2.4 35.7 9999"/>
<use href="#p15" stroke="#17171d" stroke-width="16.8" transform="translate(0,0.5)" stroke-dasharray="0 1.8 36.9 9999"/>
<use href="#p15" stroke="#202026" stroke-width="11.9" transform="translate(0,0.5)" stroke-dasharray="0 1.2 38.1 9999"/>
<use href="#p15" stroke="#2a2a30" stroke-width="7.0" transform="translate(0,0.8)" stroke-dasharray="0 0.6 39.3 9999"/>
<use href="#p15" stroke="#35353a" stroke-width="3.08" transform="translate(0,0.8)"/>
<use href="#p16" stroke="#050506" stroke-width="28.0" stroke-dasharray="0 3.0 25.6 9999"/>
<use href="#p16" stroke="#0f0f12" stroke-width="22.400000000000002" stroke-dasharray="0 2.4 26.8 9999"/>
<use href="#p16" stroke="#15151a" stroke-width="16.8" transform="translate(0,0.5)" stroke-dasharray="0 1.8 28.0 9999"/>
<use href="#p16" stroke="#1b1b21" stroke-width="11.9" transform="translate(0,0.5)" stroke-dasharray="0 1.2 29.2 9999"/>
<use href="#p16" stroke="#232328" stroke-width="7.0" transform="translate(0,0.8)" stroke-dasharray="0 0.6 30.4 9999"/>
<use href="#p16" stroke="#2b2b2f" stroke-width="3.08" transform="translate(0,0.8)"/>
<path d="M985.8,496.6 988.7,495.7 991.6,494.9 994.5,494.1 997.5,493.5 1000.4,492.9 1003.4,492.4 1006.4,491.9 1009.4,491.5 1012.4,491.2 1015.4,490.9 1018.4,490.7 1021.4,490.6 1024.4,490.5 1027.4,490.5 1030.4,490.5 1033.4,490.6 1036.4,490.8 1039.4,491 1042.4,491.3 1045.4,491.6 1048.4,492 1051.3,492.4 1054.3,492.9 1054.6,492.9" stroke="#50507e" stroke-opacity="0.55" stroke-width="6" stroke-linecap="round" transform="translate(0,2)" filter="url(#pblur)"/>
<use href="#p17" stroke="#050506" stroke-width="28.0" stroke-dasharray="0 3.0 36.6 9999"/>
<use href="#p17" stroke="#0f0f12" stroke-width="22.400000000000002" stroke-dasharray="0 2.4 37.8 9999"/>
<use href="#p17" stroke="#19191f" stroke-width="16.8" transform="translate(0,0.5)" stroke-dasharray="0 1.8 39.0 9999"/>
<use href="#p17" stroke="#23232b" stroke-width="11.9" transform="translate(0,0.5)" stroke-dasharray="0 1.2 40.2 9999"/>
<use href="#p17" stroke="#303037" stroke-width="7.0" transform="translate(0,0.8)" stroke-dasharray="0 0.6 41.4 9999"/>
<use href="#p17" stroke="#3d3d42" stroke-width="3.08" transform="translate(0,0.8)"/>
<use href="#p18" stroke="#050506" stroke-width="28.0" stroke-dasharray="0 3.0 42.5 9999"/>
<use href="#p18" stroke="#0f0f12" stroke-width="22.400000000000002" stroke-dasharray="0 2.4 43.7 9999"/>
<use href="#p18" stroke="#1a1a21" stroke-width="16.8" transform="translate(0,0.5)" stroke-dasharray="0 1.8 44.9 9999"/>
<use href="#p18" stroke="#26262d" stroke-width="11.9" transform="translate(0,0.5)" stroke-dasharray="0 1.2 46.1 9999"/>
<use href="#p18" stroke="#33333a" stroke-width="7.0" transform="translate(0,0.8)" stroke-dasharray="0 0.6 47.3 9999"/>
<use href="#p18" stroke="#424247" stroke-width="3.08" transform="translate(0,0.8)"/>
<use href="#p19" stroke="#050506" stroke-width="28.0" stroke-dasharray="0 3.0 49.5 9999"/>
<use href="#p19" stroke="#0f0f12" stroke-width="22.400000000000002" stroke-dasharray="0 2.4 50.7 9999"/>
<use href="#p19" stroke="#1c1c22" stroke-width="16.8" transform="translate(0,0.5)" stroke-dasharray="0 1.8 51.9 9999"/>
<use href="#p19" stroke="#292931" stroke-width="11.9" transform="translate(0,0.5)" stroke-dasharray="0 1.2 53.1 9999"/>
<use href="#p19" stroke="#383840" stroke-width="7.0" transform="translate(0,0.8)" stroke-dasharray="0 0.6 54.3 9999"/>
<use href="#p19" stroke="#49494e" stroke-width="3.08" transform="translate(0,0.8)"/>
<use href="#p20" stroke="#050506" stroke-width="28.0" stroke-dasharray="0 3.0 53.5 9999"/>
<use href="#p20" stroke="#0f0f12" stroke-width="22.400000000000002" stroke-dasharray="0 2.4 54.7 9999"/>
<use href="#p20" stroke="#1d1d24" stroke-width="16.8" transform="translate(0,0.5)" stroke-dasharray="0 1.8 55.9 9999"/>
<use href="#p20" stroke="#2b2b34" stroke-width="11.9" transform="translate(0,0.5)" stroke-dasharray="0 1.2 57.1 9999"/>
<use href="#p20" stroke="#3c3c43" stroke-width="7.0" transform="translate(0,0.8)" stroke-dasharray="0 0.6 58.3 9999"/>
<use href="#p20" stroke="#4d4d53" stroke-width="3.08" transform="translate(0,0.8)"/>
<use href="#p21" stroke="#050506" stroke-width="28.0" stroke-dasharray="0 3.0 52.1 9999"/>
<use href="#p21" stroke="#0f0f12" stroke-width="22.400000000000002" stroke-dasharray="0 2.4 53.3 9999"/>
<use href="#p21" stroke="#1d1d24" stroke-width="16.8" transform="translate(0,0.5)" stroke-dasharray="0 1.8 54.5 9999"/>
<use href="#p21" stroke="#2a2a33" stroke-width="11.9" transform="translate(0,0.5)" stroke-dasharray="0 1.2 55.7 9999"/>
<use href="#p21" stroke="#3b3b43" stroke-width="7.0" transform="translate(0,0.8)" stroke-dasharray="0 0.6 56.9 9999"/>
<use href="#p21" stroke="#4d4d53" stroke-width="3.08" transform="translate(0,0.8)"/>
<use href="#p22" stroke="#050506" stroke-width="28.0" stroke-dasharray="0 3.0 45.0 9999"/>
<use href="#p22" stroke="#0f0f12" stroke-width="22.400000000000002" stroke-dasharray="0 2.4 46.2 9999"/>
<use href="#p22" stroke="#1a1a21" stroke-width="16.8" transform="translate(0,0.5)" stroke-dasharray="0 1.8 47.4 9999"/>
<use href="#p22" stroke="#26262e" stroke-width="11.9" transform="translate(0,0.5)" stroke-dasharray="0 1.2 48.6 9999"/>
<use href="#p22" stroke="#34343b" stroke-width="7.0" transform="translate(0,0.8)" stroke-dasharray="0 0.6 49.8 9999"/>
<use href="#p22" stroke="#434348" stroke-width="3.08" transform="translate(0,0.8)"/>
<use href="#p23" stroke="#050506" stroke-width="28.0" stroke-dasharray="0 3.0 34.4 9999"/>
<use href="#p23" stroke="#0f0f12" stroke-width="22.400000000000002" stroke-dasharray="0 2.4 35.6 9999"/>
<use href="#p23" stroke="#17171d" stroke-width="16.8" transform="translate(0,0.5)" stroke-dasharray="0 1.8 36.8 9999"/>
<use href="#p23" stroke="#202026" stroke-width="11.9" transform="translate(0,0.5)" stroke-dasharray="0 1.2 38.0 9999"/>
<use href="#p23" stroke="#2a2a30" stroke-width="7.0" transform="translate(0,0.8)" stroke-dasharray="0 0.6 39.2 9999"/>
<use href="#p23" stroke="#35353a" stroke-width="3.08" transform="translate(0,0.8)"/>
<use href="#p24" stroke="#050506" stroke-width="28.0" stroke-dasharray="0 3.0 25.5 9999"/>
<use href="#p24" stroke="#0f0f12" stroke-width="22.400000000000002" stroke-dasharray="0 2.4 26.7 9999"/>
<use href="#p24" stroke="#15151a" stroke-width="16.8" transform="translate(0,0.5)" stroke-dasharray="0 1.8 27.9 9999"/>
<use href="#p24" stroke="#1b1b21" stroke-width="11.9" transform="translate(0,0.5)" stroke-dasharray="0 1.2 29.1 9999"/>
<use href="#p24" stroke="#232328" stroke-width="7.0" transform="translate(0,0.8)" stroke-dasharray="0 0.6 30.3 9999"/>
<use href="#p24" stroke="#2b2b2f" stroke-width="3.08" transform="translate(0,0.8)"/>
<path d="M985.8,437.8 988.7,436.9 991.6,436.1 994.5,435.4 997.5,434.7 1000.4,434.1 1003.4,433.6 1006.4,433.1 1009.4,432.7 1012.4,432.4 1015.4,432.2 1018.4,432 1021.4,431.9 1024.4,431.8 1027.4,431.8 1030.4,431.8 1033.4,431.9 1036.4,432.1 1039.4,432.3 1042.4,432.6 1045.4,432.9 1048.4,433.3 1051.3,433.7 1054.3,434.2 1054.6,434.3" stroke="#50507e" stroke-opacity="0.55" stroke-width="6" stroke-linecap="round" transform="translate(0,2)" filter="url(#pblur)"/>
<use href="#p25" stroke="#050506" stroke-width="28.0" stroke-dasharray="0 3.0 36.6 9999"/>
<use href="#p25" stroke="#0f0f12" stroke-width="22.400000000000002" stroke-dasharray="0 2.4 37.8 9999"/>
<use href="#p25" stroke="#19191f" stroke-width="16.8" transform="translate(0,0.5)" stroke-dasharray="0 1.8 39.0 9999"/>
<use href="#p25" stroke="#23232b" stroke-width="11.9" transform="translate(0,0.5)" stroke-dasharray="0 1.2 40.2 9999"/>
<use href="#p25" stroke="#303037" stroke-width="7.0" transform="translate(0,0.8)" stroke-dasharray="0 0.6 41.4 9999"/>
<use href="#p25" stroke="#3d3d42" stroke-width="3.08" transform="translate(0,0.8)"/>
<use href="#p26" stroke="#050506" stroke-width="28.0" stroke-dasharray="0 3.0 42.4 9999"/>
<use href="#p26" stroke="#0f0f12" stroke-width="22.400000000000002" stroke-dasharray="0 2.4 43.6 9999"/>
<use href="#p26" stroke="#1a1a21" stroke-width="16.8" transform="translate(0,0.5)" stroke-dasharray="0 1.8 44.8 9999"/>
<use href="#p26" stroke="#26262d" stroke-width="11.9" transform="translate(0,0.5)" stroke-dasharray="0 1.2 46.0 9999"/>
<use href="#p26" stroke="#33333a" stroke-width="7.0" transform="translate(0,0.8)" stroke-dasharray="0 0.6 47.2 9999"/>
<use href="#p26" stroke="#424247" stroke-width="3.08" transform="translate(0,0.8)"/>
<use href="#p27" stroke="#050506" stroke-width="28.0" stroke-dasharray="0 3.0 49.5 9999"/>
<use href="#p27" stroke="#0f0f12" stroke-width="22.400000000000002" stroke-dasharray="0 2.4 50.7 9999"/>
<use href="#p27" stroke="#1c1c22" stroke-width="16.8" transform="translate(0,0.5)" stroke-dasharray="0 1.8 51.9 9999"/>
<use href="#p27" stroke="#292931" stroke-width="11.9" transform="translate(0,0.5)" stroke-dasharray="0 1.2 53.1 9999"/>
<use href="#p27" stroke="#383840" stroke-width="7.0" transform="translate(0,0.8)" stroke-dasharray="0 0.6 54.3 9999"/>
<use href="#p27" stroke="#49494e" stroke-width="3.08" transform="translate(0,0.8)"/>
<use href="#p28" stroke="#050506" stroke-width="28.0" stroke-dasharray="0 3.0 53.5 9999"/>
<use href="#p28" stroke="#0f0f12" stroke-width="22.400000000000002" stroke-dasharray="0 2.4 54.7 9999"/>
<use href="#p28" stroke="#1d1d24" stroke-width="16.8" transform="translate(0,0.5)" stroke-dasharray="0 1.8 55.9 9999"/>
<use href="#p28" stroke="#2b2b34" stroke-width="11.9" transform="translate(0,0.5)" stroke-dasharray="0 1.2 57.1 9999"/>
<use href="#p28" stroke="#3c3c43" stroke-width="7.0" transform="translate(0,0.8)" stroke-dasharray="0 0.6 58.3 9999"/>
<use href="#p28" stroke="#4d4d53" stroke-width="3.08" transform="translate(0,0.8)"/>
<use href="#p29" stroke="#050506" stroke-width="28.0" stroke-dasharray="0 3.0 52.1 9999"/>
<use href="#p29" stroke="#0f0f12" stroke-width="22.400000000000002" stroke-dasharray="0 2.4 53.3 9999"/>
<use href="#p29" stroke="#1d1d24" stroke-width="16.8" transform="translate(0,0.5)" stroke-dasharray="0 1.8 54.5 9999"/>
<use href="#p29" stroke="#2a2a33" stroke-width="11.9" transform="translate(0,0.5)" stroke-dasharray="0 1.2 55.7 9999"/>
<use href="#p29" stroke="#3b3b43" stroke-width="7.0" transform="translate(0,0.8)" stroke-dasharray="0 0.6 56.9 9999"/>
<use href="#p29" stroke="#4d4d53" stroke-width="3.08" transform="translate(0,0.8)"/>
<use href="#p30" stroke="#050506" stroke-width="28.0" stroke-dasharray="0 3.0 45.0 9999"/>
<use href="#p30" stroke="#0f0f12" stroke-width="22.400000000000002" stroke-dasharray="0 2.4 46.2 9999"/>
<use href="#p30" stroke="#1a1a21" stroke-width="16.8" transform="translate(0,0.5)" stroke-dasharray="0 1.8 47.4 9999"/>
<use href="#p30" stroke="#26262e" stroke-width="11.9" transform="translate(0,0.5)" stroke-dasharray="0 1.2 48.6 9999"/>
<use href="#p30" stroke="#34343b" stroke-width="7.0" transform="translate(0,0.8)" stroke-dasharray="0 0.6 49.8 9999"/>
<use href="#p30" stroke="#434348" stroke-width="3.08" transform="translate(0,0.8)"/>
<use href="#p31" stroke="#050506" stroke-width="28.0" stroke-dasharray="0 3.0 34.5 9999"/>
<use href="#p31" stroke="#0f0f12" stroke-width="22.400000000000002" stroke-dasharray="0 2.4 35.7 9999"/>
<use href="#p31" stroke="#17171d" stroke-width="16.8" transform="translate(0,0.5)" stroke-dasharray="0 1.8 36.9 9999"/>
<use href="#p31" stroke="#202026" stroke-width="11.9" transform="translate(0,0.5)" stroke-dasharray="0 1.2 38.1 9999"/>
<use href="#p31" stroke="#2a2a30" stroke-width="7.0" transform="translate(0,0.8)" stroke-dasharray="0 0.6 39.3 9999"/>
<use href="#p31" stroke="#35353a" stroke-width="3.08" transform="translate(0,0.8)"/>
<use href="#p32" stroke="#050506" stroke-width="28.0" stroke-dasharray="0 3.0 25.6 9999"/>
<use href="#p32" stroke="#0f0f12" stroke-width="22.400000000000002" stroke-dasharray="0 2.4 26.8 9999"/>
<use href="#p32" stroke="#15151a" stroke-width="16.8" transform="translate(0,0.5)" stroke-dasharray="0 1.8 28.0 9999"/>
<use href="#p32" stroke="#1b1b21" stroke-width="11.9" transform="translate(0,0.5)" stroke-dasharray="0 1.2 29.2 9999"/>
<use href="#p32" stroke="#232328" stroke-width="7.0" transform="translate(0,0.8)" stroke-dasharray="0 0.6 30.4 9999"/>
<use href="#p32" stroke="#2b2b2f" stroke-width="3.08" transform="translate(0,0.8)"/>
<path d="M985.8,379.2 988.7,378.3 991.6,377.5 994.5,376.7 997.5,376.1 1000.4,375.5 1003.4,375 1006.4,374.5 1009.4,374.1 1012.4,373.8 1015.4,373.5 1018.4,373.3 1021.4,373.2 1024.4,373.1 1027.4,373.1 1030.4,373.1 1033.4,373.2 1036.4,373.4 1039.4,373.6 1042.4,373.9 1045.4,374.2 1048.4,374.6 1051.3,375 1054.3,375.5 1054.6,375.5" stroke="#50507e" stroke-opacity="0.55" stroke-width="6" stroke-linecap="round" transform="translate(0,2)" filter="url(#pblur)"/>
<use href="#p33" stroke="#050506" stroke-width="28.0" stroke-dasharray="0 3.0 36.6 9999"/>
<use href="#p33" stroke="#0f0f12" stroke-width="22.400000000000002" stroke-dasharray="0 2.4 37.8 9999"/>
<use href="#p33" stroke="#19191f" stroke-width="16.8" transform="translate(0,0.5)" stroke-dasharray="0 1.8 39.0 9999"/>
<use href="#p33" stroke="#23232b" stroke-width="11.9" transform="translate(0,0.5)" stroke-dasharray="0 1.2 40.2 9999"/>
<use href="#p33" stroke="#303037" stroke-width="7.0" transform="translate(0,0.8)" stroke-dasharray="0 0.6 41.4 9999"/>
<use href="#p33" stroke="#3d3d42" stroke-width="3.08" transform="translate(0,0.8)"/>
<use href="#p34" stroke="#050506" stroke-width="28.0" stroke-dasharray="0 3.0 42.5 9999"/>
<use href="#p34" stroke="#0f0f12" stroke-width="22.400000000000002" stroke-dasharray="0 2.4 43.7 9999"/>
<use href="#p34" stroke="#1a1a21" stroke-width="16.8" transform="translate(0,0.5)" stroke-dasharray="0 1.8 44.9 9999"/>
<use href="#p34" stroke="#26262d" stroke-width="11.9" transform="translate(0,0.5)" stroke-dasharray="0 1.2 46.1 9999"/>
<use href="#p34" stroke="#33333a" stroke-width="7.0" transform="translate(0,0.8)" stroke-dasharray="0 0.6 47.3 9999"/>
<use href="#p34" stroke="#424247" stroke-width="3.08" transform="translate(0,0.8)"/>
<use href="#p35" stroke="#050506" stroke-width="28.0" stroke-dasharray="0 3.0 49.5 9999"/>
<use href="#p35" stroke="#0f0f12" stroke-width="22.400000000000002" stroke-dasharray="0 2.4 50.7 9999"/>
<use href="#p35" stroke="#1c1c22" stroke-width="16.8" transform="translate(0,0.5)" stroke-dasharray="0 1.8 51.9 9999"/>
<use href="#p35" stroke="#292931" stroke-width="11.9" transform="translate(0,0.5)" stroke-dasharray="0 1.2 53.1 9999"/>
<use href="#p35" stroke="#383840" stroke-width="7.0" transform="translate(0,0.8)" stroke-dasharray="0 0.6 54.3 9999"/>
<use href="#p35" stroke="#49494e" stroke-width="3.08" transform="translate(0,0.8)"/>
<use href="#p36" stroke="#050506" stroke-width="28.0" stroke-dasharray="0 3.0 53.5 9999"/>
<use href="#p36" stroke="#0f0f12" stroke-width="22.400000000000002" stroke-dasharray="0 2.4 54.7 9999"/>
<use href="#p36" stroke="#1d1d24" stroke-width="16.8" transform="translate(0,0.5)" stroke-dasharray="0 1.8 55.9 9999"/>
<use href="#p36" stroke="#2b2b34" stroke-width="11.9" transform="translate(0,0.5)" stroke-dasharray="0 1.2 57.1 9999"/>
<use href="#p36" stroke="#3c3c43" stroke-width="7.0" transform="translate(0,0.8)" stroke-dasharray="0 0.6 58.3 9999"/>
<use href="#p36" stroke="#4d4d53" stroke-width="3.08" transform="translate(0,0.8)"/>
<use href="#p37" stroke="#050506" stroke-width="28.0" stroke-dasharray="0 3.0 52.1 9999"/>
<use href="#p37" stroke="#0f0f12" stroke-width="22.400000000000002" stroke-dasharray="0 2.4 53.3 9999"/>
<use href="#p37" stroke="#1d1d24" stroke-width="16.8" transform="translate(0,0.5)" stroke-dasharray="0 1.8 54.5 9999"/>
<use href="#p37" stroke="#2a2a33" stroke-width="11.9" transform="translate(0,0.5)" stroke-dasharray="0 1.2 55.7 9999"/>
<use href="#p37" stroke="#3b3b43" stroke-width="7.0" transform="translate(0,0.8)" stroke-dasharray="0 0.6 56.9 9999"/>
<use href="#p37" stroke="#4d4d53" stroke-width="3.08" transform="translate(0,0.8)"/>
<use href="#p38" stroke="#050506" stroke-width="28.0" stroke-dasharray="0 3.0 45.0 9999"/>
<use href="#p38" stroke="#0f0f12" stroke-width="22.400000000000002" stroke-dasharray="0 2.4 46.2 9999"/>
<use href="#p38" stroke="#1a1a21" stroke-width="16.8" transform="translate(0,0.5)" stroke-dasharray="0 1.8 47.4 9999"/>
<use href="#p38" stroke="#26262e" stroke-width="11.9" transform="translate(0,0.5)" stroke-dasharray="0 1.2 48.6 9999"/>
<use href="#p38" stroke="#34343b" stroke-width="7.0" transform="translate(0,0.8)" stroke-dasharray="0 0.6 49.8 9999"/>
<use href="#p38" stroke="#434348" stroke-width="3.08" transform="translate(0,0.8)"/>
<use href="#p39" stroke="#050506" stroke-width="28.0" stroke-dasharray="0 3.0 34.4 9999"/>
<use href="#p39" stroke="#0f0f12" stroke-width="22.400000000000002" stroke-dasharray="0 2.4 35.6 9999"/>
<use href="#p39" stroke="#17171d" stroke-width="16.8" transform="translate(0,0.5)" stroke-dasharray="0 1.8 36.8 9999"/>
<use href="#p39" stroke="#202026" stroke-width="11.9" transform="translate(0,0.5)" stroke-dasharray="0 1.2 38.0 9999"/>
<use href="#p39" stroke="#2a2a30" stroke-width="7.0" transform="translate(0,0.8)" stroke-dasharray="0 0.6 39.2 9999"/>
<use href="#p39" stroke="#35353a" stroke-width="3.08" transform="translate(0,0.8)"/>
<use href="#p40" stroke="#050506" stroke-width="28.0" stroke-dasharray="0 3.0 25.5 9999"/>
<use href="#p40" stroke="#0f0f12" stroke-width="22.400000000000002" stroke-dasharray="0 2.4 26.7 9999"/>
<use href="#p40" stroke="#15151a" stroke-width="16.8" transform="translate(0,0.5)" stroke-dasharray="0 1.8 27.9 9999"/>
<use href="#p40" stroke="#1b1b21" stroke-width="11.9" transform="translate(0,0.5)" stroke-dasharray="0 1.2 29.1 9999"/>
<use href="#p40" stroke="#232328" stroke-width="7.0" transform="translate(0,0.8)" stroke-dasharray="0 0.6 30.3 9999"/>
<use href="#p40" stroke="#2b2b2f" stroke-width="3.08" transform="translate(0,0.8)"/>
<path d="M985.8,320.4 988.7,319.5 991.6,318.7 994.5,318 997.5,317.3 1000.4,316.7 1003.4,316.2 1006.4,315.7 1009.4,315.3 1012.4,315 1015.4,314.8 1018.4,314.6 1021.4,314.5 1024.4,314.4 1027.4,314.4 1030.4,314.4 1033.4,314.5 1036.4,314.7 1039.4,314.9 1042.4,315.2 1045.4,315.5 1048.4,315.9 1051.3,316.3 1054.3,316.8 1054.6,316.9" stroke="#50507e" stroke-opacity="0.55" stroke-width="6" stroke-linecap="round" transform="translate(0,2)" filter="url(#pblur)"/>
<use href="#p41" stroke="#050506" stroke-width="28.0" stroke-dasharray="0 3.0 36.6 9999"/>
<use href="#p41" stroke="#0f0f12" stroke-width="22.400000000000002" stroke-dasharray="0 2.4 37.8 9999"/>
<use href="#p41" stroke="#19191f" stroke-width="16.8" transform="translate(0,0.5)" stroke-dasharray="0 1.8 39.0 9999"/>
<use href="#p41" stroke="#23232b" stroke-width="11.9" transform="translate(0,0.5)" stroke-dasharray="0 1.2 40.2 9999"/>
<use href="#p41" stroke="#303037" stroke-width="7.0" transform="translate(0,0.8)" stroke-dasharray="0 0.6 41.4 9999"/>
<use href="#p41" stroke="#3d3d42" stroke-width="3.08" transform="translate(0,0.8)"/>
<use href="#p42" stroke="#050506" stroke-width="28.0" stroke-dasharray="0 3.0 42.5 9999"/>
<use href="#p42" stroke="#0f0f12" stroke-width="22.400000000000002" stroke-dasharray="0 2.4 43.7 9999"/>
<use href="#p42" stroke="#1a1a21" stroke-width="16.8" transform="translate(0,0.5)" stroke-dasharray="0 1.8 44.9 9999"/>
<use href="#p42" stroke="#26262d" stroke-width="11.9" transform="translate(0,0.5)" stroke-dasharray="0 1.2 46.1 9999"/>
<use href="#p42" stroke="#33333a" stroke-width="7.0" transform="translate(0,0.8)" stroke-dasharray="0 0.6 47.3 9999"/>
<use href="#p42" stroke="#424247" stroke-width="3.08" transform="translate(0,0.8)"/>
<use href="#p43" stroke="#050506" stroke-width="28.0" stroke-dasharray="0 3.0 49.5 9999"/>
<use href="#p43" stroke="#0f0f12" stroke-width="22.400000000000002" stroke-dasharray="0 2.4 50.7 9999"/>
<use href="#p43" stroke="#1c1c22" stroke-width="16.8" transform="translate(0,0.5)" stroke-dasharray="0 1.8 51.9 9999"/>
<use href="#p43" stroke="#292931" stroke-width="11.9" transform="translate(0,0.5)" stroke-dasharray="0 1.2 53.1 9999"/>
<use href="#p43" stroke="#383840" stroke-width="7.0" transform="translate(0,0.8)" stroke-dasharray="0 0.6 54.3 9999"/>
<use href="#p43" stroke="#49494e" stroke-width="3.08" transform="translate(0,0.8)"/>
<use href="#p44" stroke="#050506" stroke-width="28.0" stroke-dasharray="0 3.0 53.5 9999"/>
<use href="#p44" stroke="#0f0f12" stroke-width="22.400000000000002" stroke-dasharray="0 2.4 54.7 9999"/>
<use href="#p44" stroke="#1d1d24" stroke-width="16.8" transform="translate(0,0.5)" stroke-dasharray="0 1.8 55.9 9999"/>
<use href="#p44" stroke="#2b2b34" stroke-width="11.9" transform="translate(0,0.5)" stroke-dasharray="0 1.2 57.1 9999"/>
<use href="#p44" stroke="#3c3c43" stroke-width="7.0" transform="translate(0,0.8)" stroke-dasharray="0 0.6 58.3 9999"/>
<use href="#p44" stroke="#4d4d53" stroke-width="3.08" transform="translate(0,0.8)"/>
<use href="#p45" stroke="#050506" stroke-width="28.0" stroke-dasharray="0 3.0 52.1 9999"/>
<use href="#p45" stroke="#0f0f12" stroke-width="22.400000000000002" stroke-dasharray="0 2.4 53.3 9999"/>
<use href="#p45" stroke="#1d1d24" stroke-width="16.8" transform="translate(0,0.5)" stroke-dasharray="0 1.8 54.5 9999"/>
<use href="#p45" stroke="#2a2a33" stroke-width="11.9" transform="translate(0,0.5)" stroke-dasharray="0 1.2 55.7 9999"/>
<use href="#p45" stroke="#3b3b43" stroke-width="7.0" transform="translate(0,0.8)" stroke-dasharray="0 0.6 56.9 9999"/>
<use href="#p45" stroke="#4d4d53" stroke-width="3.08" transform="translate(0,0.8)"/>
<use href="#p46" stroke="#050506" stroke-width="28.0" stroke-dasharray="0 3.0 45.0 9999"/>
<use href="#p46" stroke="#0f0f12" stroke-width="22.400000000000002" stroke-dasharray="0 2.4 46.2 9999"/>
<use href="#p46" stroke="#1a1a21" stroke-width="16.8" transform="translate(0,0.5)" stroke-dasharray="0 1.8 47.4 9999"/>
<use href="#p46" stroke="#26262e" stroke-width="11.9" transform="translate(0,0.5)" stroke-dasharray="0 1.2 48.6 9999"/>
<use href="#p46" stroke="#34343b" stroke-width="7.0" transform="translate(0,0.8)" stroke-dasharray="0 0.6 49.8 9999"/>
<use href="#p46" stroke="#434348" stroke-width="3.08" transform="translate(0,0.8)"/>
<use href="#p47" stroke="#050506" stroke-width="28.0" stroke-dasharray="0 3.0 34.4 9999"/>
<use href="#p47" stroke="#0f0f12" stroke-width="22.400000000000002" stroke-dasharray="0 2.4 35.6 9999"/>
<use href="#p47" stroke="#17171d" stroke-width="16.8" transform="translate(0,0.5)" stroke-dasharray="0 1.8 36.8 9999"/>
<use href="#p47" stroke="#202026" stroke-width="11.9" transform="translate(0,0.5)" stroke-dasharray="0 1.2 38.0 9999"/>
<use href="#p47" stroke="#2a2a30" stroke-width="7.0" transform="translate(0,0.8)" stroke-dasharray="0 0.6 39.2 9999"/>
<use href="#p47" stroke="#35353a" stroke-width="3.08" transform="translate(0,0.8)"/>
<use href="#p48" stroke="#050506" stroke-width="28.0" stroke-dasharray="0 3.0 25.5 9999"/>
<use href="#p48" stroke="#0f0f12" stroke-width="22.400000000000002" stroke-dasharray="0 2.4 26.7 9999"/>
<use href="#p48" stroke="#15151a" stroke-width="16.8" transform="translate(0,0.5)" stroke-dasharray="0 1.8 27.9 9999"/>
<use href="#p48" stroke="#1b1b21" stroke-width="11.9" transform="translate(0,0.5)" stroke-dasharray="0 1.2 29.1 9999"/>
<use href="#p48" stroke="#232328" stroke-width="7.0" transform="translate(0,0.8)" stroke-dasharray="0 0.6 30.3 9999"/>
<use href="#p48" stroke="#2b2b2f" stroke-width="3.08" transform="translate(0,0.8)"/>
<path d="M985.8,261.2 988.7,260.3 991.6,259.5 994.5,258.8 997.5,258.1 1000.4,257.5 1003.4,257 1006.4,256.5 1009.4,256.1 1012.4,255.8 1015.4,255.6 1018.4,255.4 1021.4,255.3 1024.4,255.2 1027.4,255.2 1030.4,255.2 1033.4,255.3 1036.4,255.5 1039.4,255.7 1042.4,256 1045.4,256.3 1048.4,256.7 1051.3,257.1 1054.3,257.6 1054.6,257.7" stroke="#50507e" stroke-opacity="0.55" stroke-width="6" stroke-linecap="round" transform="translate(0,2)" filter="url(#pblur)"/>
<use href="#p49" stroke="#050506" stroke-width="28.0" stroke-dasharray="0 3.0 36.6 9999"/>
<use href="#p49" stroke="#0f0f12" stroke-width="22.400000000000002" stroke-dasharray="0 2.4 37.8 9999"/>
<use href="#p49" stroke="#19191f" stroke-width="16.8" transform="translate(0,0.5)" stroke-dasharray="0 1.8 39.0 9999"/>
<use href="#p49" stroke="#23232b" stroke-width="11.9" transform="translate(0,0.5)" stroke-dasharray="0 1.2 40.2 9999"/>
<use href="#p49" stroke="#303037" stroke-width="7.0" transform="translate(0,0.8)" stroke-dasharray="0 0.6 41.4 9999"/>
<use href="#p49" stroke="#3d3d42" stroke-width="3.08" transform="translate(0,0.8)"/>
<use href="#p50" stroke="#050506" stroke-width="28.0" stroke-dasharray="0 3.0 42.4 9999"/>
<use href="#p50" stroke="#0f0f12" stroke-width="22.400000000000002" stroke-dasharray="0 2.4 43.6 9999"/>
<use href="#p50" stroke="#1a1a21" stroke-width="16.8" transform="translate(0,0.5)" stroke-dasharray="0 1.8 44.8 9999"/>
<use href="#p50" stroke="#26262d" stroke-width="11.9" transform="translate(0,0.5)" stroke-dasharray="0 1.2 46.0 9999"/>
<use href="#p50" stroke="#33333a" stroke-width="7.0" transform="translate(0,0.8)" stroke-dasharray="0 0.6 47.2 9999"/>
<use href="#p50" stroke="#424247" stroke-width="3.08" transform="translate(0,0.8)"/>
<use href="#p51" stroke="#050506" stroke-width="28.0" stroke-dasharray="0 3.0 49.5 9999"/>
<use href="#p51" stroke="#0f0f12" stroke-width="22.400000000000002" stroke-dasharray="0 2.4 50.7 9999"/>
<use href="#p51" stroke="#1c1c22" stroke-width="16.8" transform="translate(0,0.5)" stroke-dasharray="0 1.8 51.9 9999"/>
<use href="#p51" stroke="#292931" stroke-width="11.9" transform="translate(0,0.5)" stroke-dasharray="0 1.2 53.1 9999"/>
<use href="#p51" stroke="#383840" stroke-width="7.0" transform="translate(0,0.8)" stroke-dasharray="0 0.6 54.3 9999"/>
<use href="#p51" stroke="#49494e" stroke-width="3.08" transform="translate(0,0.8)"/>
<use href="#p52" stroke="#050506" stroke-width="28.0" stroke-dasharray="0 3.0 53.5 9999"/>
<use href="#p52" stroke="#0f0f12" stroke-width="22.400000000000002" stroke-dasharray="0 2.4 54.7 9999"/>
<use href="#p52" stroke="#1d1d24" stroke-width="16.8" transform="translate(0,0.5)" stroke-dasharray="0 1.8 55.9 9999"/>
<use href="#p52" stroke="#2b2b34" stroke-width="11.9" transform="translate(0,0.5)" stroke-dasharray="0 1.2 57.1 9999"/>
<use href="#p52" stroke="#3c3c43" stroke-width="7.0" transform="translate(0,0.8)" stroke-dasharray="0 0.6 58.3 9999"/>
<use href="#p52" stroke="#4d4d53" stroke-width="3.08" transform="translate(0,0.8)"/>
<use href="#p53" stroke="#050506" stroke-width="28.0" stroke-dasharray="0 3.0 52.1 9999"/>
<use href="#p53" stroke="#0f0f12" stroke-width="22.400000000000002" stroke-dasharray="0 2.4 53.3 9999"/>
<use href="#p53" stroke="#1d1d24" stroke-width="16.8" transform="translate(0,0.5)" stroke-dasharray="0 1.8 54.5 9999"/>
<use href="#p53" stroke="#2a2a33" stroke-width="11.9" transform="translate(0,0.5)" stroke-dasharray="0 1.2 55.7 9999"/>
<use href="#p53" stroke="#3b3b43" stroke-width="7.0" transform="translate(0,0.8)" stroke-dasharray="0 0.6 56.9 9999"/>
<use href="#p53" stroke="#4d4d53" stroke-width="3.08" transform="translate(0,0.8)"/>
<use href="#p54" stroke="#050506" stroke-width="28.0" stroke-dasharray="0 3.0 45.1 9999"/>
<use href="#p54" stroke="#0f0f12" stroke-width="22.400000000000002" stroke-dasharray="0 2.4 46.3 9999"/>
<use href="#p54" stroke="#1a1a21" stroke-width="16.8" transform="translate(0,0.5)" stroke-dasharray="0 1.8 47.5 9999"/>
<use href="#p54" stroke="#26262e" stroke-width="11.9" transform="translate(0,0.5)" stroke-dasharray="0 1.2 48.7 9999"/>
<use href="#p54" stroke="#34343b" stroke-width="7.0" transform="translate(0,0.8)" stroke-dasharray="0 0.6 49.9 9999"/>
<use href="#p54" stroke="#434348" stroke-width="3.08" transform="translate(0,0.8)"/>
<use href="#p55" stroke="#050506" stroke-width="28.0" stroke-dasharray="0 3.0 34.5 9999"/>
<use href="#p55" stroke="#0f0f12" stroke-width="22.400000000000002" stroke-dasharray="0 2.4 35.7 9999"/>
<use href="#p55" stroke="#17171d" stroke-width="16.8" transform="translate(0,0.5)" stroke-dasharray="0 1.8 36.9 9999"/>
<use href="#p55" stroke="#202026" stroke-width="11.9" transform="translate(0,0.5)" stroke-dasharray="0 1.2 38.1 9999"/>
<use href="#p55" stroke="#2a2a30" stroke-width="7.0" transform="translate(0,0.8)" stroke-dasharray="0 0.6 39.3 9999"/>
<use href="#p55" stroke="#35353a" stroke-width="3.08" transform="translate(0,0.8)"/>
<use href="#p56" stroke="#050506" stroke-width="28.0" stroke-dasharray="0 3.0 25.6 9999"/>
<use href="#p56" stroke="#0f0f12" stroke-width="22.400000000000002" stroke-dasharray="0 2.4 26.8 9999"/>
<use href="#p56" stroke="#15151a" stroke-width="16.8" transform="translate(0,0.5)" stroke-dasharray="0 1.8 28.0 9999"/>
<use href="#p56" stroke="#1b1b21" stroke-width="11.9" transform="translate(0,0.5)" stroke-dasharray="0 1.2 29.2 9999"/>
<use href="#p56" stroke="#232328" stroke-width="7.0" transform="translate(0,0.8)" stroke-dasharray="0 0.6 30.4 9999"/>
<use href="#p56" stroke="#2b2b2f" stroke-width="3.08" transform="translate(0,0.8)"/>
<path d="M985.8,202.8 988.7,201.8 991.6,201 994.5,200.3 997.5,199.6 1000.4,199 1003.4,198.5 1006.4,198 1009.4,197.6 1012.4,197.3 1015.4,197 1018.4,196.8 1021.4,196.7 1024.4,196.6 1027.4,196.6 1030.4,196.6 1033.4,196.7 1036.4,196.9 1039.4,197.1 1042.4,197.4 1045.4,197.7 1048.4,198.1 1051.3,198.5 1054.3,199 1054.6,199" stroke="#50507e" stroke-opacity="0.55" stroke-width="6" stroke-linecap="round" transform="translate(0,2)" filter="url(#pblur)"/>
<use href="#p57" stroke="#050506" stroke-width="28.0" stroke-dasharray="0 3.0 36.6 9999"/>
<use href="#p57" stroke="#0f0f12" stroke-width="22.400000000000002" stroke-dasharray="0 2.4 37.8 9999"/>
<use href="#p57" stroke="#19191f" stroke-width="16.8" transform="translate(0,0.5)" stroke-dasharray="0 1.8 39.0 9999"/>
<use href="#p57" stroke="#23232b" stroke-width="11.9" transform="translate(0,0.5)" stroke-dasharray="0 1.2 40.2 9999"/>
<use href="#p57" stroke="#303037" stroke-width="7.0" transform="translate(0,0.8)" stroke-dasharray="0 0.6 41.4 9999"/>
<use href="#p57" stroke="#3d3d42" stroke-width="3.08" transform="translate(0,0.8)"/>
<use href="#p58" stroke="#050506" stroke-width="28.0" stroke-dasharray="0 3.0 42.4 9999"/>
<use href="#p58" stroke="#0f0f12" stroke-width="22.400000000000002" stroke-dasharray="0 2.4 43.6 9999"/>
<use href="#p58" stroke="#1a1a21" stroke-width="16.8" transform="translate(0,0.5)" stroke-dasharray="0 1.8 44.8 9999"/>
<use href="#p58" stroke="#26262d" stroke-width="11.9" transform="translate(0,0.5)" stroke-dasharray="0 1.2 46.0 9999"/>
<use href="#p58" stroke="#33333a" stroke-width="7.0" transform="translate(0,0.8)" stroke-dasharray="0 0.6 47.2 9999"/>
<use href="#p58" stroke="#424247" stroke-width="3.08" transform="translate(0,0.8)"/>
<use href="#p59" stroke="#050506" stroke-width="28.0" stroke-dasharray="0 3.0 49.5 9999"/>
<use href="#p59" stroke="#0f0f12" stroke-width="22.400000000000002" stroke-dasharray="0 2.4 50.7 9999"/>
<use href="#p59" stroke="#1c1c22" stroke-width="16.8" transform="translate(0,0.5)" stroke-dasharray="0 1.8 51.9 9999"/>
<use href="#p59" stroke="#292931" stroke-width="11.9" transform="translate(0,0.5)" stroke-dasharray="0 1.2 53.1 9999"/>
<use href="#p59" stroke="#383840" stroke-width="7.0" transform="translate(0,0.8)" stroke-dasharray="0 0.6 54.3 9999"/>
<use href="#p59" stroke="#49494e" stroke-width="3.08" transform="translate(0,0.8)"/>
<use href="#p60" stroke="#050506" stroke-width="28.0" stroke-dasharray="0 3.0 53.4 9999"/>
<use href="#p60" stroke="#0f0f12" stroke-width="22.400000000000002" stroke-dasharray="0 2.4 54.6 9999"/>
<use href="#p60" stroke="#1d1d24" stroke-width="16.8" transform="translate(0,0.5)" stroke-dasharray="0 1.8 55.8 9999"/>
<use href="#p60" stroke="#2b2b34" stroke-width="11.9" transform="translate(0,0.5)" stroke-dasharray="0 1.2 57.0 9999"/>
<use href="#p60" stroke="#3c3c43" stroke-width="7.0" transform="translate(0,0.8)" stroke-dasharray="0 0.6 58.2 9999"/>
<use href="#p60" stroke="#4d4d53" stroke-width="3.08" transform="translate(0,0.8)"/>
<use href="#p61" stroke="#050506" stroke-width="28.0" stroke-dasharray="0 3.0 52.2 9999"/>
<use href="#p61" stroke="#0f0f12" stroke-width="22.400000000000002" stroke-dasharray="0 2.4 53.4 9999"/>
<use href="#p61" stroke="#1d1d24" stroke-width="16.8" transform="translate(0,0.5)" stroke-dasharray="0 1.8 54.6 9999"/>
<use href="#p61" stroke="#2a2a33" stroke-width="11.9" transform="translate(0,0.5)" stroke-dasharray="0 1.2 55.8 9999"/>
<use href="#p61" stroke="#3b3b43" stroke-width="7.0" transform="translate(0,0.8)" stroke-dasharray="0 0.6 57.0 9999"/>
<use href="#p61" stroke="#4d4d53" stroke-width="3.08" transform="translate(0,0.8)"/>
<use href="#p62" stroke="#050506" stroke-width="28.0" stroke-dasharray="0 3.0 45.5 9999"/>
<use href="#p62" stroke="#0f0f12" stroke-width="22.400000000000002" stroke-dasharray="0 2.4 46.7 9999"/>
<use href="#p62" stroke="#1a1a21" stroke-width="16.8" transform="translate(0,0.5)" stroke-dasharray="0 1.8 47.9 9999"/>
<use href="#p62" stroke="#26262e" stroke-width="11.9" transform="translate(0,0.5)" stroke-dasharray="0 1.2 49.1 9999"/>
<use href="#p62" stroke="#34343b" stroke-width="7.0" transform="translate(0,0.8)" stroke-dasharray="0 0.6 50.3 9999"/>
<use href="#p62" stroke="#434348" stroke-width="3.08" transform="translate(0,0.8)"/>
<use href="#p63" stroke="#050506" stroke-width="28.0" stroke-dasharray="0 3.0 35.4 9999"/>
<use href="#p63" stroke="#0f0f12" stroke-width="22.400000000000002" stroke-dasharray="0 2.4 36.6 9999"/>
<use href="#p63" stroke="#17171d" stroke-width="16.8" transform="translate(0,0.5)" stroke-dasharray="0 1.8 37.8 9999"/>
<use href="#p63" stroke="#202026" stroke-width="11.9" transform="translate(0,0.5)" stroke-dasharray="0 1.2 39.0 9999"/>
<use href="#p63" stroke="#2a2a30" stroke-width="7.0" transform="translate(0,0.8)" stroke-dasharray="0 0.6 40.2 9999"/>
<use href="#p63" stroke="#35353a" stroke-width="3.08" transform="translate(0,0.8)"/>
<use href="#p64" stroke="#050506" stroke-width="28.0" stroke-dasharray="0 3.0 13.6 9999"/>
<use href="#p64" stroke="#0f0f12" stroke-width="22.400000000000002" stroke-dasharray="0 2.4 14.8 9999"/>
<use href="#p64" stroke="#16161b" stroke-width="16.8" transform="translate(0,0.5)" stroke-dasharray="0 1.8 16.0 9999"/>
<use href="#p64" stroke="#1d1d22" stroke-width="11.9" transform="translate(0,0.5)" stroke-dasharray="0 1.2 17.2 9999"/>
<use href="#p64" stroke="#25252a" stroke-width="7.0" transform="translate(0,0.8)" stroke-dasharray="0 0.6 18.4 9999"/>
<use href="#p64" stroke="#2e2e32" stroke-width="3.08" transform="translate(0,0.8)"/>
<g clip-path="url(#gclip)">
<use href="#p65" stroke="#050506" stroke-width="28.0" stroke-dasharray="0 1.2 24.5 9999"/>
<use href="#p65" stroke="#121214" stroke-width="24.5" stroke-dasharray="0 0.6 25.7 9999"/>
<use href="#p65" stroke="#1a1a1c" stroke-width="18.2"/>
</g>
<g clip-path="url(#gclip)">
<use href="#p66" stroke="#050506" stroke-width="28.0" stroke-dasharray="0 1.2 34.6 9999"/>
<use href="#p66" stroke="#121214" stroke-width="24.5" stroke-dasharray="0 0.6 35.8 9999"/>
<use href="#p66" stroke="#1a1a1c" stroke-width="18.2"/>
</g>
<g clip-path="url(#gclip)">
<use href="#p67" stroke="#050506" stroke-width="28.0" stroke-dasharray="0 1.2 41.9 9999"/>
<use href="#p67" stroke="#121214" stroke-width="24.5" stroke-dasharray="0 0.6 43.1 9999"/>
<use href="#p67" stroke="#1a1a1c" stroke-width="18.2"/>
</g>
<g clip-path="url(#gclip)">
<use href="#p68" stroke="#050506" stroke-width="28.0" stroke-dasharray="0 1.2 50.6 9999"/>
<use href="#p68" stroke="#121214" stroke-width="24.5" stroke-dasharray="0 0.6 51.8 9999"/>
<use href="#p68" stroke="#1a1a1c" stroke-width="18.2"/>
</g>
<g clip-path="url(#gclip)">
<use href="#p69" stroke="#050506" stroke-width="28.0" stroke-dasharray="0 0.0 33.3 9999"/>
<use href="#p69" stroke="#121214" stroke-width="24.5" stroke-dasharray="0 0.0 33.9 9999"/>
<use href="#p69" stroke="#1a1a1c" stroke-width="18.2"/>
</g>
<use href="#p70" stroke="#050506" stroke-width="28.0" stroke-dasharray="0 3.0 30.6 9999"/>
<use href="#p70" stroke="#0f0f12" stroke-width="22.400000000000002" stroke-dasharray="0 2.4 31.8 9999"/>
<use href="#p70" stroke="#15151a" stroke-width="16.8" transform="translate(0,0.5)" stroke-dasharray="0 1.8 33.0 9999"/>
<use href="#p70" stroke="#1b1b21" stroke-width="11.9" transform="translate(0,0.5)" stroke-dasharray="0 1.2 34.2 9999"/>
<use href="#p70" stroke="#232328" stroke-width="7.0" transform="translate(0,0.8)" stroke-dasharray="0 0.6 35.4 9999"/>
<use href="#p70" stroke="#2b2b2f" stroke-width="3.08" transform="translate(0,0.8)"/>
<use href="#p71" stroke="#050506" stroke-width="28.0" stroke-dasharray="0 3.0 37.9 9999"/>
<use href="#p71" stroke="#0f0f12" stroke-width="22.400000000000002" stroke-dasharray="0 2.4 39.1 9999"/>
<use href="#p71" stroke="#17171d" stroke-width="16.8" transform="translate(0,0.5)" stroke-dasharray="0 1.8 40.3 9999"/>
<use href="#p71" stroke="#202026" stroke-width="11.9" transform="translate(0,0.5)" stroke-dasharray="0 1.2 41.5 9999"/>
<use href="#p71" stroke="#2a2a30" stroke-width="7.0" transform="translate(0,0.8)" stroke-dasharray="0 0.6 42.7 9999"/>
<use href="#p71" stroke="#35353a" stroke-width="3.08" transform="translate(0,0.8)"/>
<use href="#p72" stroke="#050506" stroke-width="28.0" stroke-dasharray="0 3.0 46.8 9999"/>
<use href="#p72" stroke="#0f0f12" stroke-width="22.400000000000002" stroke-dasharray="0 2.4 48.0 9999"/>
<use href="#p72" stroke="#1a1a21" stroke-width="16.8" transform="translate(0,0.5)" stroke-dasharray="0 1.8 49.2 9999"/>
<use href="#p72" stroke="#26262e" stroke-width="11.9" transform="translate(0,0.5)" stroke-dasharray="0 1.2 50.4 9999"/>
<use href="#p72" stroke="#34343b" stroke-width="7.0" transform="translate(0,0.8)" stroke-dasharray="0 0.6 51.6 9999"/>
<use href="#p72" stroke="#434348" stroke-width="3.08" transform="translate(0,0.8)"/>
<use href="#p73" stroke="#050506" stroke-width="28.0" stroke-dasharray="0 3.0 52.5 9999"/>
<use href="#p73" stroke="#0f0f12" stroke-width="22.400000000000002" stroke-dasharray="0 2.4 53.7 9999"/>
<use href="#p73" stroke="#1d1d24" stroke-width="16.8" transform="translate(0,0.5)" stroke-dasharray="0 1.8 54.9 9999"/>
<use href="#p73" stroke="#2a2a33" stroke-width="11.9" transform="translate(0,0.5)" stroke-dasharray="0 1.2 56.1 9999"/>
<use href="#p73" stroke="#3b3b43" stroke-width="7.0" transform="translate(0,0.8)" stroke-dasharray="0 0.6 57.3 9999"/>
<use href="#p73" stroke="#4d4d53" stroke-width="3.08" transform="translate(0,0.8)"/>
<use href="#p74" stroke="#050506" stroke-width="28.0" stroke-dasharray="0 3.0 53.5 9999"/>
<use href="#p74" stroke="#0f0f12" stroke-width="22.400000000000002" stroke-dasharray="0 2.4 54.7 9999"/>
<use href="#p74" stroke="#1d1d24" stroke-width="16.8" transform="translate(0,0.5)" stroke-dasharray="0 1.8 55.9 9999"/>
<use href="#p74" stroke="#2b2b34" stroke-width="11.9" transform="translate(0,0.5)" stroke-dasharray="0 1.2 57.1 9999"/>
<use href="#p74" stroke="#3c3c43" stroke-width="7.0" transform="translate(0,0.8)" stroke-dasharray="0 0.6 58.3 9999"/>
<use href="#p74" stroke="#4d4d53" stroke-width="3.08" transform="translate(0,0.8)"/>
<use href="#p75" stroke="#050506" stroke-width="28.0" stroke-dasharray="0 3.0 49.5 9999"/>
<use href="#p75" stroke="#0f0f12" stroke-width="22.400000000000002" stroke-dasharray="0 2.4 50.7 9999"/>
<use href="#p75" stroke="#1c1c22" stroke-width="16.8" transform="translate(0,0.5)" stroke-dasharray="0 1.8 51.9 9999"/>
<use href="#p75" stroke="#292931" stroke-width="11.9" transform="translate(0,0.5)" stroke-dasharray="0 1.2 53.1 9999"/>
<use href="#p75" stroke="#383840" stroke-width="7.0" transform="translate(0,0.8)" stroke-dasharray="0 0.6 54.3 9999"/>
<use href="#p75" stroke="#49494e" stroke-width="3.08" transform="translate(0,0.8)"/>
<use href="#p76" stroke="#050506" stroke-width="28.0" stroke-dasharray="0 3.0 42.4 9999"/>
<use href="#p76" stroke="#0f0f12" stroke-width="22.400000000000002" stroke-dasharray="0 2.4 43.6 9999"/>
<use href="#p76" stroke="#1a1a21" stroke-width="16.8" transform="translate(0,0.5)" stroke-dasharray="0 1.8 44.8 9999"/>
<use href="#p76" stroke="#26262d" stroke-width="11.9" transform="translate(0,0.5)" stroke-dasharray="0 1.2 46.0 9999"/>
<use href="#p76" stroke="#33333a" stroke-width="7.0" transform="translate(0,0.8)" stroke-dasharray="0 0.6 47.2 9999"/>
<use href="#p76" stroke="#424247" stroke-width="3.08" transform="translate(0,0.8)"/>
<use href="#p77" stroke="#050506" stroke-width="28.0" stroke-dasharray="0 3.0 36.6 9999"/>
<use href="#p77" stroke="#0f0f12" stroke-width="22.400000000000002" stroke-dasharray="0 2.4 37.8 9999"/>
<use href="#p77" stroke="#19191f" stroke-width="16.8" transform="translate(0,0.5)" stroke-dasharray="0 1.8 39.0 9999"/>
<use href="#p77" stroke="#23232b" stroke-width="11.9" transform="translate(0,0.5)" stroke-dasharray="0 1.2 40.2 9999"/>
<use href="#p77" stroke="#303037" stroke-width="7.0" transform="translate(0,0.8)" stroke-dasharray="0 0.6 41.4 9999"/>
<use href="#p77" stroke="#3d3d42" stroke-width="3.08" transform="translate(0,0.8)"/>
<path d="M1133.5,568.5 1132.9,571 1132.1,573.4 1131.2,575.9 1130.2,578.3 1129,580.7 1127.7,583 1126.2,585.4 1124.6,587.6 1122.9,589.9 1121,592.1 1119,594.3 1116.9,596.4 1114.7,598.4 1112.4,600.4 1110.1,602.3 1107.7,604.1 1105.2,605.9 1102.7,607.5 1100.1,609.1 1097.5,610.6 1094.8,612 1092.1,613.4 1089.4,614.7 1086.6,615.9 1083.9,617.1 1081.1,618.2 1080.3,618.5" stroke="#50507e" stroke-opacity="0.75" stroke-width="6" stroke-linecap="round" transform="translate(1,3)" filter="url(#pblur)"/>
<use href="#p78" stroke="#050506" stroke-width="28.0" stroke-dasharray="0 3.0 25.6 9999"/>
<use href="#p78" stroke="#0f0f12" stroke-width="22.400000000000002" stroke-dasharray="0 2.4 26.8 9999"/>
<use href="#p78" stroke="#15151a" stroke-width="16.8" transform="translate(0,0.5)" stroke-dasharray="0 1.8 28.0 9999"/>
<use href="#p78" stroke="#1b1b21" stroke-width="11.9" transform="translate(0,0.5)" stroke-dasharray="0 1.2 29.2 9999"/>
<use href="#p78" stroke="#232328" stroke-width="7.0" transform="translate(0,0.8)" stroke-dasharray="0 0.6 30.4 9999"/>
<use href="#p78" stroke="#2b2b2f" stroke-width="3.08" transform="translate(0,0.8)"/>
<use href="#p79" stroke="#050506" stroke-width="28.0" stroke-dasharray="0 3.0 34.5 9999"/>
<use href="#p79" stroke="#0f0f12" stroke-width="22.400000000000002" stroke-dasharray="0 2.4 35.7 9999"/>
<use href="#p79" stroke="#17171d" stroke-width="16.8" transform="translate(0,0.5)" stroke-dasharray="0 1.8 36.9 9999"/>
<use href="#p79" stroke="#202026" stroke-width="11.9" transform="translate(0,0.5)" stroke-dasharray="0 1.2 38.1 9999"/>
<use href="#p79" stroke="#2a2a30" stroke-width="7.0" transform="translate(0,0.8)" stroke-dasharray="0 0.6 39.3 9999"/>
<use href="#p79" stroke="#35353a" stroke-width="3.08" transform="translate(0,0.8)"/>
<use href="#p80" stroke="#050506" stroke-width="28.0" stroke-dasharray="0 3.0 45.0 9999"/>
<use href="#p80" stroke="#0f0f12" stroke-width="22.400000000000002" stroke-dasharray="0 2.4 46.2 9999"/>
<use href="#p80" stroke="#1a1a21" stroke-width="16.8" transform="translate(0,0.5)" stroke-dasharray="0 1.8 47.4 9999"/>
<use href="#p80" stroke="#26262e" stroke-width="11.9" transform="translate(0,0.5)" stroke-dasharray="0 1.2 48.6 9999"/>
<use href="#p80" stroke="#34343b" stroke-width="7.0" transform="translate(0,0.8)" stroke-dasharray="0 0.6 49.8 9999"/>
<use href="#p80" stroke="#434348" stroke-width="3.08" transform="translate(0,0.8)"/>
<use href="#p81" stroke="#050506" stroke-width="28.0" stroke-dasharray="0 3.0 52.1 9999"/>
<use href="#p81" stroke="#0f0f12" stroke-width="22.400000000000002" stroke-dasharray="0 2.4 53.3 9999"/>
<use href="#p81" stroke="#1d1d24" stroke-width="16.8" transform="translate(0,0.5)" stroke-dasharray="0 1.8 54.5 9999"/>
<use href="#p81" stroke="#2a2a33" stroke-width="11.9" transform="translate(0,0.5)" stroke-dasharray="0 1.2 55.7 9999"/>
<use href="#p81" stroke="#3b3b43" stroke-width="7.0" transform="translate(0,0.8)" stroke-dasharray="0 0.6 56.9 9999"/>
<use href="#p81" stroke="#4d4d53" stroke-width="3.08" transform="translate(0,0.8)"/>
<use href="#p82" stroke="#050506" stroke-width="28.0" stroke-dasharray="0 3.0 53.5 9999"/>
<use href="#p82" stroke="#0f0f12" stroke-width="22.400000000000002" stroke-dasharray="0 2.4 54.7 9999"/>
<use href="#p82" stroke="#1d1d24" stroke-width="16.8" transform="translate(0,0.5)" stroke-dasharray="0 1.8 55.9 9999"/>
<use href="#p82" stroke="#2b2b34" stroke-width="11.9" transform="translate(0,0.5)" stroke-dasharray="0 1.2 57.1 9999"/>
<use href="#p82" stroke="#3c3c43" stroke-width="7.0" transform="translate(0,0.8)" stroke-dasharray="0 0.6 58.3 9999"/>
<use href="#p82" stroke="#4d4d53" stroke-width="3.08" transform="translate(0,0.8)"/>
<use href="#p83" stroke="#050506" stroke-width="28.0" stroke-dasharray="0 3.0 49.5 9999"/>
<use href="#p83" stroke="#0f0f12" stroke-width="22.400000000000002" stroke-dasharray="0 2.4 50.7 9999"/>
<use href="#p83" stroke="#1c1c22" stroke-width="16.8" transform="translate(0,0.5)" stroke-dasharray="0 1.8 51.9 9999"/>
<use href="#p83" stroke="#292931" stroke-width="11.9" transform="translate(0,0.5)" stroke-dasharray="0 1.2 53.1 9999"/>
<use href="#p83" stroke="#383840" stroke-width="7.0" transform="translate(0,0.8)" stroke-dasharray="0 0.6 54.3 9999"/>
<use href="#p83" stroke="#49494e" stroke-width="3.08" transform="translate(0,0.8)"/>
<use href="#p84" stroke="#050506" stroke-width="28.0" stroke-dasharray="0 3.0 42.5 9999"/>
<use href="#p84" stroke="#0f0f12" stroke-width="22.400000000000002" stroke-dasharray="0 2.4 43.7 9999"/>
<use href="#p84" stroke="#1a1a21" stroke-width="16.8" transform="translate(0,0.5)" stroke-dasharray="0 1.8 44.9 9999"/>
<use href="#p84" stroke="#26262d" stroke-width="11.9" transform="translate(0,0.5)" stroke-dasharray="0 1.2 46.1 9999"/>
<use href="#p84" stroke="#33333a" stroke-width="7.0" transform="translate(0,0.8)" stroke-dasharray="0 0.6 47.3 9999"/>
<use href="#p84" stroke="#424247" stroke-width="3.08" transform="translate(0,0.8)"/>
<use href="#p85" stroke="#050506" stroke-width="28.0" stroke-dasharray="0 3.0 36.6 9999"/>
<use href="#p85" stroke="#0f0f12" stroke-width="22.400000000000002" stroke-dasharray="0 2.4 37.8 9999"/>
<use href="#p85" stroke="#19191f" stroke-width="16.8" transform="translate(0,0.5)" stroke-dasharray="0 1.8 39.0 9999"/>
<use href="#p85" stroke="#23232b" stroke-width="11.9" transform="translate(0,0.5)" stroke-dasharray="0 1.2 40.2 9999"/>
<use href="#p85" stroke="#303037" stroke-width="7.0" transform="translate(0,0.8)" stroke-dasharray="0 0.6 41.4 9999"/>
<use href="#p85" stroke="#3d3d42" stroke-width="3.08" transform="translate(0,0.8)"/>
<path d="M1133.5,510.1 1132.9,512.6 1132.1,515 1131.2,517.5 1130.2,519.9 1129,522.3 1127.7,524.6 1126.2,527 1124.6,529.3 1122.9,531.5 1121,533.7 1119,535.9 1116.9,538 1114.7,540.1 1112.4,542.1 1110.1,544 1107.7,545.8 1105.2,547.5 1102.7,549.2 1100.1,550.8 1097.5,552.3 1094.8,553.7 1092.2,555.1 1089.4,556.4 1086.7,557.6 1083.9,558.8 1081.1,559.9 1080.3,560.2" stroke="#50507e" stroke-opacity="0.75" stroke-width="6" stroke-linecap="round" transform="translate(1,3)" filter="url(#pblur)"/>
<use href="#p86" stroke="#050506" stroke-width="28.0" stroke-dasharray="0 3.0 25.6 9999"/>
<use href="#p86" stroke="#0f0f12" stroke-width="22.400000000000002" stroke-dasharray="0 2.4 26.8 9999"/>
<use href="#p86" stroke="#15151a" stroke-width="16.8" transform="translate(0,0.5)" stroke-dasharray="0 1.8 28.0 9999"/>
<use href="#p86" stroke="#1b1b21" stroke-width="11.9" transform="translate(0,0.5)" stroke-dasharray="0 1.2 29.2 9999"/>
<use href="#p86" stroke="#232328" stroke-width="7.0" transform="translate(0,0.8)" stroke-dasharray="0 0.6 30.4 9999"/>
<use href="#p86" stroke="#2b2b2f" stroke-width="3.08" transform="translate(0,0.8)"/>
<use href="#p87" stroke="#050506" stroke-width="28.0" stroke-dasharray="0 3.0 34.4 9999"/>
<use href="#p87" stroke="#0f0f12" stroke-width="22.400000000000002" stroke-dasharray="0 2.4 35.6 9999"/>
<use href="#p87" stroke="#17171d" stroke-width="16.8" transform="translate(0,0.5)" stroke-dasharray="0 1.8 36.8 9999"/>
<use href="#p87" stroke="#202026" stroke-width="11.9" transform="translate(0,0.5)" stroke-dasharray="0 1.2 38.0 9999"/>
<use href="#p87" stroke="#2a2a30" stroke-width="7.0" transform="translate(0,0.8)" stroke-dasharray="0 0.6 39.2 9999"/>
<use href="#p87" stroke="#35353a" stroke-width="3.08" transform="translate(0,0.8)"/>
<use href="#p88" stroke="#050506" stroke-width="28.0" stroke-dasharray="0 3.0 45.0 9999"/>
<use href="#p88" stroke="#0f0f12" stroke-width="22.400000000000002" stroke-dasharray="0 2.4 46.2 9999"/>
<use href="#p88" stroke="#1a1a21" stroke-width="16.8" transform="translate(0,0.5)" stroke-dasharray="0 1.8 47.4 9999"/>
<use href="#p88" stroke="#26262e" stroke-width="11.9" transform="translate(0,0.5)" stroke-dasharray="0 1.2 48.6 9999"/>
<use href="#p88" stroke="#34343b" stroke-width="7.0" transform="translate(0,0.8)" stroke-dasharray="0 0.6 49.8 9999"/>
<use href="#p88" stroke="#434348" stroke-width="3.08" transform="translate(0,0.8)"/>
<use href="#p89" stroke="#050506" stroke-width="28.0" stroke-dasharray="0 3.0 52.1 9999"/>
<use href="#p89" stroke="#0f0f12" stroke-width="22.400000000000002" stroke-dasharray="0 2.4 53.3 9999"/>
<use href="#p89" stroke="#1d1d24" stroke-width="16.8" transform="translate(0,0.5)" stroke-dasharray="0 1.8 54.5 9999"/>
<use href="#p89" stroke="#2a2a33" stroke-width="11.9" transform="translate(0,0.5)" stroke-dasharray="0 1.2 55.7 9999"/>
<use href="#p89" stroke="#3b3b43" stroke-width="7.0" transform="translate(0,0.8)" stroke-dasharray="0 0.6 56.9 9999"/>
<use href="#p89" stroke="#4d4d53" stroke-width="3.08" transform="translate(0,0.8)"/>
<use href="#p90" stroke="#050506" stroke-width="28.0" stroke-dasharray="0 3.0 53.5 9999"/>
<use href="#p90" stroke="#0f0f12" stroke-width="22.400000000000002" stroke-dasharray="0 2.4 54.7 9999"/>
<use href="#p90" stroke="#1d1d24" stroke-width="16.8" transform="translate(0,0.5)" stroke-dasharray="0 1.8 55.9 9999"/>
<use href="#p90" stroke="#2b2b34" stroke-width="11.9" transform="translate(0,0.5)" stroke-dasharray="0 1.2 57.1 9999"/>
<use href="#p90" stroke="#3c3c43" stroke-width="7.0" transform="translate(0,0.8)" stroke-dasharray="0 0.6 58.3 9999"/>
<use href="#p90" stroke="#4d4d53" stroke-width="3.08" transform="translate(0,0.8)"/>
<use href="#p91" stroke="#050506" stroke-width="28.0" stroke-dasharray="0 3.0 49.5 9999"/>
<use href="#p91" stroke="#0f0f12" stroke-width="22.400000000000002" stroke-dasharray="0 2.4 50.7 9999"/>
<use href="#p91" stroke="#1c1c22" stroke-width="16.8" transform="translate(0,0.5)" stroke-dasharray="0 1.8 51.9 9999"/>
<use href="#p91" stroke="#292931" stroke-width="11.9" transform="translate(0,0.5)" stroke-dasharray="0 1.2 53.1 9999"/>
<use href="#p91" stroke="#383840" stroke-width="7.0" transform="translate(0,0.8)" stroke-dasharray="0 0.6 54.3 9999"/>
<use href="#p91" stroke="#49494e" stroke-width="3.08" transform="translate(0,0.8)"/>
<use href="#p92" stroke="#050506" stroke-width="28.0" stroke-dasharray="0 3.0 42.4 9999"/>
<use href="#p92" stroke="#0f0f12" stroke-width="22.400000000000002" stroke-dasharray="0 2.4 43.6 9999"/>
<use href="#p92" stroke="#1a1a21" stroke-width="16.8" transform="translate(0,0.5)" stroke-dasharray="0 1.8 44.8 9999"/>
<use href="#p92" stroke="#26262d" stroke-width="11.9" transform="translate(0,0.5)" stroke-dasharray="0 1.2 46.0 9999"/>
<use href="#p92" stroke="#33333a" stroke-width="7.0" transform="translate(0,0.8)" stroke-dasharray="0 0.6 47.2 9999"/>
<use href="#p92" stroke="#424247" stroke-width="3.08" transform="translate(0,0.8)"/>
<use href="#p93" stroke="#050506" stroke-width="28.0" stroke-dasharray="0 3.0 36.6 9999"/>
<use href="#p93" stroke="#0f0f12" stroke-width="22.400000000000002" stroke-dasharray="0 2.4 37.8 9999"/>
<use href="#p93" stroke="#19191f" stroke-width="16.8" transform="translate(0,0.5)" stroke-dasharray="0 1.8 39.0 9999"/>
<use href="#p93" stroke="#23232b" stroke-width="11.9" transform="translate(0,0.5)" stroke-dasharray="0 1.2 40.2 9999"/>
<use href="#p93" stroke="#303037" stroke-width="7.0" transform="translate(0,0.8)" stroke-dasharray="0 0.6 41.4 9999"/>
<use href="#p93" stroke="#3d3d42" stroke-width="3.08" transform="translate(0,0.8)"/>
<path d="M1133.5,451.1 1132.9,453.6 1132.1,456 1131.2,458.5 1130.2,460.9 1129,463.3 1127.7,465.6 1126.2,468 1124.6,470.2 1122.9,472.5 1121,474.7 1119,476.9 1116.9,479 1114.7,481 1112.4,483 1110.1,484.9 1107.7,486.7 1105.2,488.5 1102.7,490.1 1100.1,491.7 1097.5,493.2 1094.8,494.6 1092.1,496 1089.4,497.3 1086.6,498.5 1083.9,499.7 1081.1,500.8 1080.3,501.1" stroke="#50507e" stroke-opacity="0.75" stroke-width="6" stroke-linecap="round" transform="translate(1,3)" filter="url(#pblur)"/>
<use href="#p94" stroke="#050506" stroke-width="28.0" stroke-dasharray="0 3.0 25.6 9999"/>
<use href="#p94" stroke="#0f0f12" stroke-width="22.400000000000002" stroke-dasharray="0 2.4 26.8 9999"/>
<use href="#p94" stroke="#15151a" stroke-width="16.8" transform="translate(0,0.5)" stroke-dasharray="0 1.8 28.0 9999"/>
<use href="#p94" stroke="#1b1b21" stroke-width="11.9" transform="translate(0,0.5)" stroke-dasharray="0 1.2 29.2 9999"/>
<use href="#p94" stroke="#232328" stroke-width="7.0" transform="translate(0,0.8)" stroke-dasharray="0 0.6 30.4 9999"/>
<use href="#p94" stroke="#2b2b2f" stroke-width="3.08" transform="translate(0,0.8)"/>
<use href="#p95" stroke="#050506" stroke-width="28.0" stroke-dasharray="0 3.0 34.5 9999"/>
<use href="#p95" stroke="#0f0f12" stroke-width="22.400000000000002" stroke-dasharray="0 2.4 35.7 9999"/>
<use href="#p95" stroke="#17171d" stroke-width="16.8" transform="translate(0,0.5)" stroke-dasharray="0 1.8 36.9 9999"/>
<use href="#p95" stroke="#202026" stroke-width="11.9" transform="translate(0,0.5)" stroke-dasharray="0 1.2 38.1 9999"/>
<use href="#p95" stroke="#2a2a30" stroke-width="7.0" transform="translate(0,0.8)" stroke-dasharray="0 0.6 39.3 9999"/>
<use href="#p95" stroke="#35353a" stroke-width="3.08" transform="translate(0,0.8)"/>
<use href="#p96" stroke="#050506" stroke-width="28.0" stroke-dasharray="0 3.0 45.0 9999"/>
<use href="#p96" stroke="#0f0f12" stroke-width="22.400000000000002" stroke-dasharray="0 2.4 46.2 9999"/>
<use href="#p96" stroke="#1a1a21" stroke-width="16.8" transform="translate(0,0.5)" stroke-dasharray="0 1.8 47.4 9999"/>
<use href="#p96" stroke="#26262e" stroke-width="11.9" transform="translate(0,0.5)" stroke-dasharray="0 1.2 48.6 9999"/>
<use href="#p96" stroke="#34343b" stroke-width="7.0" transform="translate(0,0.8)" stroke-dasharray="0 0.6 49.8 9999"/>
<use href="#p96" stroke="#434348" stroke-width="3.08" transform="translate(0,0.8)"/>
<use href="#p97" stroke="#050506" stroke-width="28.0" stroke-dasharray="0 3.0 52.1 9999"/>
<use href="#p97" stroke="#0f0f12" stroke-width="22.400000000000002" stroke-dasharray="0 2.4 53.3 9999"/>
<use href="#p97" stroke="#1d1d24" stroke-width="16.8" transform="translate(0,0.5)" stroke-dasharray="0 1.8 54.5 9999"/>
<use href="#p97" stroke="#2a2a33" stroke-width="11.9" transform="translate(0,0.5)" stroke-dasharray="0 1.2 55.7 9999"/>
<use href="#p97" stroke="#3b3b43" stroke-width="7.0" transform="translate(0,0.8)" stroke-dasharray="0 0.6 56.9 9999"/>
<use href="#p97" stroke="#4d4d53" stroke-width="3.08" transform="translate(0,0.8)"/>
<use href="#p98" stroke="#050506" stroke-width="28.0" stroke-dasharray="0 3.0 53.5 9999"/>
<use href="#p98" stroke="#0f0f12" stroke-width="22.400000000000002" stroke-dasharray="0 2.4 54.7 9999"/>
<use href="#p98" stroke="#1d1d24" stroke-width="16.8" transform="translate(0,0.5)" stroke-dasharray="0 1.8 55.9 9999"/>
<use href="#p98" stroke="#2b2b34" stroke-width="11.9" transform="translate(0,0.5)" stroke-dasharray="0 1.2 57.1 9999"/>
<use href="#p98" stroke="#3c3c43" stroke-width="7.0" transform="translate(0,0.8)" stroke-dasharray="0 0.6 58.3 9999"/>
<use href="#p98" stroke="#4d4d53" stroke-width="3.08" transform="translate(0,0.8)"/>
<use href="#p99" stroke="#050506" stroke-width="28.0" stroke-dasharray="0 3.0 49.5 9999"/>
<use href="#p99" stroke="#0f0f12" stroke-width="22.400000000000002" stroke-dasharray="0 2.4 50.7 9999"/>
<use href="#p99" stroke="#1c1c22" stroke-width="16.8" transform="translate(0,0.5)" stroke-dasharray="0 1.8 51.9 9999"/>
<use href="#p99" stroke="#292931" stroke-width="11.9" transform="translate(0,0.5)" stroke-dasharray="0 1.2 53.1 9999"/>
<use href="#p99" stroke="#383840" stroke-width="7.0" transform="translate(0,0.8)" stroke-dasharray="0 0.6 54.3 9999"/>
<use href="#p99" stroke="#49494e" stroke-width="3.08" transform="translate(0,0.8)"/>
<use href="#p100" stroke="#050506" stroke-width="28.0" stroke-dasharray="0 3.0 42.5 9999"/>
<use href="#p100" stroke="#0f0f12" stroke-width="22.400000000000002" stroke-dasharray="0 2.4 43.7 9999"/>
<use href="#p100" stroke="#1a1a21" stroke-width="16.8" transform="translate(0,0.5)" stroke-dasharray="0 1.8 44.9 9999"/>
<use href="#p100" stroke="#26262d" stroke-width="11.9" transform="translate(0,0.5)" stroke-dasharray="0 1.2 46.1 9999"/>
<use href="#p100" stroke="#33333a" stroke-width="7.0" transform="translate(0,0.8)" stroke-dasharray="0 0.6 47.3 9999"/>
<use href="#p100" stroke="#424247" stroke-width="3.08" transform="translate(0,0.8)"/>
<use href="#p101" stroke="#050506" stroke-width="28.0" stroke-dasharray="0 3.0 36.6 9999"/>
<use href="#p101" stroke="#0f0f12" stroke-width="22.400000000000002" stroke-dasharray="0 2.4 37.8 9999"/>
<use href="#p101" stroke="#19191f" stroke-width="16.8" transform="translate(0,0.5)" stroke-dasharray="0 1.8 39.0 9999"/>
<use href="#p101" stroke="#23232b" stroke-width="11.9" transform="translate(0,0.5)" stroke-dasharray="0 1.2 40.2 9999"/>
<use href="#p101" stroke="#303037" stroke-width="7.0" transform="translate(0,0.8)" stroke-dasharray="0 0.6 41.4 9999"/>
<use href="#p101" stroke="#3d3d42" stroke-width="3.08" transform="translate(0,0.8)"/>
<path d="M1133.5,392.7 1132.9,395.2 1132.1,397.6 1131.2,400.1 1130.2,402.5 1129,404.9 1127.7,407.2 1126.2,409.6 1124.6,411.9 1122.9,414.1 1121,416.3 1119,418.5 1116.9,420.6 1114.7,422.7 1112.4,424.7 1110.1,426.6 1107.7,428.4 1105.2,430.1 1102.7,431.8 1100.1,433.4 1097.5,434.9 1094.8,436.3 1092.2,437.7 1089.4,439 1086.7,440.2 1083.9,441.4 1081.1,442.5 1080.3,442.8" stroke="#50507e" stroke-opacity="0.75" stroke-width="6" stroke-linecap="round" transform="translate(1,3)" filter="url(#pblur)"/>
<use href="#p102" stroke="#050506" stroke-width="28.0" stroke-dasharray="0 3.0 25.6 9999"/>
<use href="#p102" stroke="#0f0f12" stroke-width="22.400000000000002" stroke-dasharray="0 2.4 26.8 9999"/>
<use href="#p102" stroke="#15151a" stroke-width="16.8" transform="translate(0,0.5)" stroke-dasharray="0 1.8 28.0 9999"/>
<use href="#p102" stroke="#1b1b21" stroke-width="11.9" transform="translate(0,0.5)" stroke-dasharray="0 1.2 29.2 9999"/>
<use href="#p102" stroke="#232328" stroke-width="7.0" transform="translate(0,0.8)" stroke-dasharray="0 0.6 30.4 9999"/>
<use href="#p102" stroke="#2b2b2f" stroke-width="3.08" transform="translate(0,0.8)"/>
<use href="#p103" stroke="#050506" stroke-width="28.0" stroke-dasharray="0 3.0 34.4 9999"/>
<use href="#p103" stroke="#0f0f12" stroke-width="22.400000000000002" stroke-dasharray="0 2.4 35.6 9999"/>
<use href="#p103" stroke="#17171d" stroke-width="16.8" transform="translate(0,0.5)" stroke-dasharray="0 1.8 36.8 9999"/>
<use href="#p103" stroke="#202026" stroke-width="11.9" transform="translate(0,0.5)" stroke-dasharray="0 1.2 38.0 9999"/>
<use href="#p103" stroke="#2a2a30" stroke-width="7.0" transform="translate(0,0.8)" stroke-dasharray="0 0.6 39.2 9999"/>
<use href="#p103" stroke="#35353a" stroke-width="3.08" transform="translate(0,0.8)"/>
<use href="#p104" stroke="#050506" stroke-width="28.0" stroke-dasharray="0 3.0 45.0 9999"/>
<use href="#p104" stroke="#0f0f12" stroke-width="22.400000000000002" stroke-dasharray="0 2.4 46.2 9999"/>
<use href="#p104" stroke="#1a1a21" stroke-width="16.8" transform="translate(0,0.5)" stroke-dasharray="0 1.8 47.4 9999"/>
<use href="#p104" stroke="#26262e" stroke-width="11.9" transform="translate(0,0.5)" stroke-dasharray="0 1.2 48.6 9999"/>
<use href="#p104" stroke="#34343b" stroke-width="7.0" transform="translate(0,0.8)" stroke-dasharray="0 0.6 49.8 9999"/>
<use href="#p104" stroke="#434348" stroke-width="3.08" transform="translate(0,0.8)"/>
<use href="#p105" stroke="#050506" stroke-width="28.0" stroke-dasharray="0 3.0 52.1 9999"/>
<use href="#p105" stroke="#0f0f12" stroke-width="22.400000000000002" stroke-dasharray="0 2.4 53.3 9999"/>
<use href="#p105" stroke="#1d1d24" stroke-width="16.8" transform="translate(0,0.5)" stroke-dasharray="0 1.8 54.5 9999"/>
<use href="#p105" stroke="#2a2a33" stroke-width="11.9" transform="translate(0,0.5)" stroke-dasharray="0 1.2 55.7 9999"/>
<use href="#p105" stroke="#3b3b43" stroke-width="7.0" transform="translate(0,0.8)" stroke-dasharray="0 0.6 56.9 9999"/>
<use href="#p105" stroke="#4d4d53" stroke-width="3.08" transform="translate(0,0.8)"/>
<use href="#p106" stroke="#050506" stroke-width="28.0" stroke-dasharray="0 3.0 53.5 9999"/>
<use href="#p106" stroke="#0f0f12" stroke-width="22.400000000000002" stroke-dasharray="0 2.4 54.7 9999"/>
<use href="#p106" stroke="#1d1d24" stroke-width="16.8" transform="translate(0,0.5)" stroke-dasharray="0 1.8 55.9 9999"/>
<use href="#p106" stroke="#2b2b34" stroke-width="11.9" transform="translate(0,0.5)" stroke-dasharray="0 1.2 57.1 9999"/>
<use href="#p106" stroke="#3c3c43" stroke-width="7.0" transform="translate(0,0.8)" stroke-dasharray="0 0.6 58.3 9999"/>
<use href="#p106" stroke="#4d4d53" stroke-width="3.08" transform="translate(0,0.8)"/>
<use href="#p107" stroke="#050506" stroke-width="28.0" stroke-dasharray="0 3.0 49.5 9999"/>
<use href="#p107" stroke="#0f0f12" stroke-width="22.400000000000002" stroke-dasharray="0 2.4 50.7 9999"/>
<use href="#p107" stroke="#1c1c22" stroke-width="16.8" transform="translate(0,0.5)" stroke-dasharray="0 1.8 51.9 9999"/>
<use href="#p107" stroke="#292931" stroke-width="11.9" transform="translate(0,0.5)" stroke-dasharray="0 1.2 53.1 9999"/>
<use href="#p107" stroke="#383840" stroke-width="7.0" transform="translate(0,0.8)" stroke-dasharray="0 0.6 54.3 9999"/>
<use href="#p107" stroke="#49494e" stroke-width="3.08" transform="translate(0,0.8)"/>
<use href="#p108" stroke="#050506" stroke-width="28.0" stroke-dasharray="0 3.0 42.5 9999"/>
<use href="#p108" stroke="#0f0f12" stroke-width="22.400000000000002" stroke-dasharray="0 2.4 43.7 9999"/>
<use href="#p108" stroke="#1a1a21" stroke-width="16.8" transform="translate(0,0.5)" stroke-dasharray="0 1.8 44.9 9999"/>
<use href="#p108" stroke="#26262d" stroke-width="11.9" transform="translate(0,0.5)" stroke-dasharray="0 1.2 46.1 9999"/>
<use href="#p108" stroke="#33333a" stroke-width="7.0" transform="translate(0,0.8)" stroke-dasharray="0 0.6 47.3 9999"/>
<use href="#p108" stroke="#424247" stroke-width="3.08" transform="translate(0,0.8)"/>
<use href="#p109" stroke="#050506" stroke-width="28.0" stroke-dasharray="0 3.0 36.6 9999"/>
<use href="#p109" stroke="#0f0f12" stroke-width="22.400000000000002" stroke-dasharray="0 2.4 37.8 9999"/>
<use href="#p109" stroke="#19191f" stroke-width="16.8" transform="translate(0,0.5)" stroke-dasharray="0 1.8 39.0 9999"/>
<use href="#p109" stroke="#23232b" stroke-width="11.9" transform="translate(0,0.5)" stroke-dasharray="0 1.2 40.2 9999"/>
<use href="#p109" stroke="#303037" stroke-width="7.0" transform="translate(0,0.8)" stroke-dasharray="0 0.6 41.4 9999"/>
<use href="#p109" stroke="#3d3d42" stroke-width="3.08" transform="translate(0,0.8)"/>
<path d="M1133.5,333.5 1132.9,336 1132.1,338.4 1131.2,340.9 1130.2,343.3 1129,345.7 1127.7,348 1126.2,350.4 1124.6,352.7 1122.9,354.9 1121,357.1 1119,359.3 1116.9,361.4 1114.7,363.5 1112.4,365.5 1110.1,367.4 1107.7,369.2 1105.2,370.9 1102.7,372.6 1100.1,374.2 1097.5,375.7 1094.8,377.1 1092.2,378.5 1089.4,379.8 1086.7,381 1083.9,382.2 1081.1,383.3 1080.3,383.6" stroke="#50507e" stroke-opacity="0.75" stroke-width="6" stroke-linecap="round" transform="translate(1,3)" filter="url(#pblur)"/>
<use href="#p110" stroke="#050506" stroke-width="28.0" stroke-dasharray="0 3.0 25.6 9999"/>
<use href="#p110" stroke="#0f0f12" stroke-width="22.400000000000002" stroke-dasharray="0 2.4 26.8 9999"/>
<use href="#p110" stroke="#15151a" stroke-width="16.8" transform="translate(0,0.5)" stroke-dasharray="0 1.8 28.0 9999"/>
<use href="#p110" stroke="#1b1b21" stroke-width="11.9" transform="translate(0,0.5)" stroke-dasharray="0 1.2 29.2 9999"/>
<use href="#p110" stroke="#232328" stroke-width="7.0" transform="translate(0,0.8)" stroke-dasharray="0 0.6 30.4 9999"/>
<use href="#p110" stroke="#2b2b2f" stroke-width="3.08" transform="translate(0,0.8)"/>
<use href="#p111" stroke="#050506" stroke-width="28.0" stroke-dasharray="0 3.0 34.4 9999"/>
<use href="#p111" stroke="#0f0f12" stroke-width="22.400000000000002" stroke-dasharray="0 2.4 35.6 9999"/>
<use href="#p111" stroke="#17171d" stroke-width="16.8" transform="translate(0,0.5)" stroke-dasharray="0 1.8 36.8 9999"/>
<use href="#p111" stroke="#202026" stroke-width="11.9" transform="translate(0,0.5)" stroke-dasharray="0 1.2 38.0 9999"/>
<use href="#p111" stroke="#2a2a30" stroke-width="7.0" transform="translate(0,0.8)" stroke-dasharray="0 0.6 39.2 9999"/>
<use href="#p111" stroke="#35353a" stroke-width="3.08" transform="translate(0,0.8)"/>
<use href="#p112" stroke="#050506" stroke-width="28.0" stroke-dasharray="0 3.0 45.0 9999"/>
<use href="#p112" stroke="#0f0f12" stroke-width="22.400000000000002" stroke-dasharray="0 2.4 46.2 9999"/>
<use href="#p112" stroke="#1a1a21" stroke-width="16.8" transform="translate(0,0.5)" stroke-dasharray="0 1.8 47.4 9999"/>
<use href="#p112" stroke="#26262e" stroke-width="11.9" transform="translate(0,0.5)" stroke-dasharray="0 1.2 48.6 9999"/>
<use href="#p112" stroke="#34343b" stroke-width="7.0" transform="translate(0,0.8)" stroke-dasharray="0 0.6 49.8 9999"/>
<use href="#p112" stroke="#434348" stroke-width="3.08" transform="translate(0,0.8)"/>
<use href="#p113" stroke="#050506" stroke-width="28.0" stroke-dasharray="0 3.0 52.1 9999"/>
<use href="#p113" stroke="#0f0f12" stroke-width="22.400000000000002" stroke-dasharray="0 2.4 53.3 9999"/>
<use href="#p113" stroke="#1d1d24" stroke-width="16.8" transform="translate(0,0.5)" stroke-dasharray="0 1.8 54.5 9999"/>
<use href="#p113" stroke="#2a2a33" stroke-width="11.9" transform="translate(0,0.5)" stroke-dasharray="0 1.2 55.7 9999"/>
<use href="#p113" stroke="#3b3b43" stroke-width="7.0" transform="translate(0,0.8)" stroke-dasharray="0 0.6 56.9 9999"/>
<use href="#p113" stroke="#4d4d53" stroke-width="3.08" transform="translate(0,0.8)"/>
<use href="#p114" stroke="#050506" stroke-width="28.0" stroke-dasharray="0 3.0 53.5 9999"/>
<use href="#p114" stroke="#0f0f12" stroke-width="22.400000000000002" stroke-dasharray="0 2.4 54.7 9999"/>
<use href="#p114" stroke="#1d1d24" stroke-width="16.8" transform="translate(0,0.5)" stroke-dasharray="0 1.8 55.9 9999"/>
<use href="#p114" stroke="#2b2b34" stroke-width="11.9" transform="translate(0,0.5)" stroke-dasharray="0 1.2 57.1 9999"/>
<use href="#p114" stroke="#3c3c43" stroke-width="7.0" transform="translate(0,0.8)" stroke-dasharray="0 0.6 58.3 9999"/>
<use href="#p114" stroke="#4d4d53" stroke-width="3.08" transform="translate(0,0.8)"/>
<use href="#p115" stroke="#050506" stroke-width="28.0" stroke-dasharray="0 3.0 49.5 9999"/>
<use href="#p115" stroke="#0f0f12" stroke-width="22.400000000000002" stroke-dasharray="0 2.4 50.7 9999"/>
<use href="#p115" stroke="#1c1c22" stroke-width="16.8" transform="translate(0,0.5)" stroke-dasharray="0 1.8 51.9 9999"/>
<use href="#p115" stroke="#292931" stroke-width="11.9" transform="translate(0,0.5)" stroke-dasharray="0 1.2 53.1 9999"/>
<use href="#p115" stroke="#383840" stroke-width="7.0" transform="translate(0,0.8)" stroke-dasharray="0 0.6 54.3 9999"/>
<use href="#p115" stroke="#49494e" stroke-width="3.08" transform="translate(0,0.8)"/>
<use href="#p116" stroke="#050506" stroke-width="28.0" stroke-dasharray="0 3.0 42.4 9999"/>
<use href="#p116" stroke="#0f0f12" stroke-width="22.400000000000002" stroke-dasharray="0 2.4 43.6 9999"/>
<use href="#p116" stroke="#1a1a21" stroke-width="16.8" transform="translate(0,0.5)" stroke-dasharray="0 1.8 44.8 9999"/>
<use href="#p116" stroke="#26262d" stroke-width="11.9" transform="translate(0,0.5)" stroke-dasharray="0 1.2 46.0 9999"/>
<use href="#p116" stroke="#33333a" stroke-width="7.0" transform="translate(0,0.8)" stroke-dasharray="0 0.6 47.2 9999"/>
<use href="#p116" stroke="#424247" stroke-width="3.08" transform="translate(0,0.8)"/>
<use href="#p117" stroke="#050506" stroke-width="28.0" stroke-dasharray="0 3.0 36.5 9999"/>
<use href="#p117" stroke="#0f0f12" stroke-width="22.400000000000002" stroke-dasharray="0 2.4 37.7 9999"/>
<use href="#p117" stroke="#19191f" stroke-width="16.8" transform="translate(0,0.5)" stroke-dasharray="0 1.8 38.9 9999"/>
<use href="#p117" stroke="#23232b" stroke-width="11.9" transform="translate(0,0.5)" stroke-dasharray="0 1.2 40.1 9999"/>
<use href="#p117" stroke="#303037" stroke-width="7.0" transform="translate(0,0.8)" stroke-dasharray="0 0.6 41.3 9999"/>
<use href="#p117" stroke="#3d3d42" stroke-width="3.08" transform="translate(0,0.8)"/>
<path d="M1133.5,274.5 1132.9,277 1132.1,279.5 1131.2,281.9 1130.2,284.3 1129,286.7 1127.7,289.1 1126.2,291.4 1124.6,293.7 1122.9,295.9 1121,298.1 1119,300.3 1116.9,302.4 1114.7,304.5 1112.4,306.5 1110.1,308.3 1107.7,310.2 1105.2,311.9 1102.7,313.5 1100.1,315.1 1097.5,316.6 1094.8,318 1092.1,319.4 1089.4,320.7 1086.6,321.9 1083.9,323.1 1081.1,324.2 1080.3,324.5" stroke="#50507e" stroke-opacity="0.75" stroke-width="6" stroke-linecap="round" transform="translate(1,3)" filter="url(#pblur)"/>
<use href="#p118" stroke="#050506" stroke-width="28.0" stroke-dasharray="0 3.0 25.6 9999"/>
<use href="#p118" stroke="#0f0f12" stroke-width="22.400000000000002" stroke-dasharray="0 2.4 26.8 9999"/>
<use href="#p118" stroke="#15151a" stroke-width="16.8" transform="translate(0,0.5)" stroke-dasharray="0 1.8 28.0 9999"/>
<use href="#p118" stroke="#1b1b21" stroke-width="11.9" transform="translate(0,0.5)" stroke-dasharray="0 1.2 29.2 9999"/>
<use href="#p118" stroke="#232328" stroke-width="7.0" transform="translate(0,0.8)" stroke-dasharray="0 0.6 30.4 9999"/>
<use href="#p118" stroke="#2b2b2f" stroke-width="3.08" transform="translate(0,0.8)"/>
<use href="#p119" stroke="#050506" stroke-width="28.0" stroke-dasharray="0 3.0 34.5 9999"/>
<use href="#p119" stroke="#0f0f12" stroke-width="22.400000000000002" stroke-dasharray="0 2.4 35.7 9999"/>
<use href="#p119" stroke="#17171d" stroke-width="16.8" transform="translate(0,0.5)" stroke-dasharray="0 1.8 36.9 9999"/>
<use href="#p119" stroke="#202026" stroke-width="11.9" transform="translate(0,0.5)" stroke-dasharray="0 1.2 38.1 9999"/>
<use href="#p119" stroke="#2a2a30" stroke-width="7.0" transform="translate(0,0.8)" stroke-dasharray="0 0.6 39.3 9999"/>
<use href="#p119" stroke="#35353a" stroke-width="3.08" transform="translate(0,0.8)"/>
<use href="#p120" stroke="#050506" stroke-width="28.0" stroke-dasharray="0 3.0 45.1 9999"/>
<use href="#p120" stroke="#0f0f12" stroke-width="22.400000000000002" stroke-dasharray="0 2.4 46.3 9999"/>
<use href="#p120" stroke="#1a1a21" stroke-width="16.8" transform="translate(0,0.5)" stroke-dasharray="0 1.8 47.5 9999"/>
<use href="#p120" stroke="#26262e" stroke-width="11.9" transform="translate(0,0.5)" stroke-dasharray="0 1.2 48.7 9999"/>
<use href="#p120" stroke="#34343b" stroke-width="7.0" transform="translate(0,0.8)" stroke-dasharray="0 0.6 49.9 9999"/>
<use href="#p120" stroke="#434348" stroke-width="3.08" transform="translate(0,0.8)"/>
<use href="#p121" stroke="#050506" stroke-width="28.0" stroke-dasharray="0 3.0 52.1 9999"/>
<use href="#p121" stroke="#0f0f12" stroke-width="22.400000000000002" stroke-dasharray="0 2.4 53.3 9999"/>
<use href="#p121" stroke="#1d1d24" stroke-width="16.8" transform="translate(0,0.5)" stroke-dasharray="0 1.8 54.5 9999"/>
<use href="#p121" stroke="#2a2a33" stroke-width="11.9" transform="translate(0,0.5)" stroke-dasharray="0 1.2 55.7 9999"/>
<use href="#p121" stroke="#3b3b43" stroke-width="7.0" transform="translate(0,0.8)" stroke-dasharray="0 0.6 56.9 9999"/>
<use href="#p121" stroke="#4d4d53" stroke-width="3.08" transform="translate(0,0.8)"/>
<use href="#p122" stroke="#050506" stroke-width="28.0" stroke-dasharray="0 3.0 53.5 9999"/>
<use href="#p122" stroke="#0f0f12" stroke-width="22.400000000000002" stroke-dasharray="0 2.4 54.7 9999"/>
<use href="#p122" stroke="#1d1d24" stroke-width="16.8" transform="translate(0,0.5)" stroke-dasharray="0 1.8 55.9 9999"/>
<use href="#p122" stroke="#2b2b34" stroke-width="11.9" transform="translate(0,0.5)" stroke-dasharray="0 1.2 57.1 9999"/>
<use href="#p122" stroke="#3c3c43" stroke-width="7.0" transform="translate(0,0.8)" stroke-dasharray="0 0.6 58.3 9999"/>
<use href="#p122" stroke="#4d4d53" stroke-width="3.08" transform="translate(0,0.8)"/>
<use href="#p123" stroke="#050506" stroke-width="28.0" stroke-dasharray="0 3.0 49.5 9999"/>
<use href="#p123" stroke="#0f0f12" stroke-width="22.400000000000002" stroke-dasharray="0 2.4 50.7 9999"/>
<use href="#p123" stroke="#1c1c22" stroke-width="16.8" transform="translate(0,0.5)" stroke-dasharray="0 1.8 51.9 9999"/>
<use href="#p123" stroke="#292931" stroke-width="11.9" transform="translate(0,0.5)" stroke-dasharray="0 1.2 53.1 9999"/>
<use href="#p123" stroke="#383840" stroke-width="7.0" transform="translate(0,0.8)" stroke-dasharray="0 0.6 54.3 9999"/>
<use href="#p123" stroke="#49494e" stroke-width="3.08" transform="translate(0,0.8)"/>
<use href="#p124" stroke="#050506" stroke-width="28.0" stroke-dasharray="0 3.0 42.4 9999"/>
<use href="#p124" stroke="#0f0f12" stroke-width="22.400000000000002" stroke-dasharray="0 2.4 43.6 9999"/>
<use href="#p124" stroke="#1a1a21" stroke-width="16.8" transform="translate(0,0.5)" stroke-dasharray="0 1.8 44.8 9999"/>
<use href="#p124" stroke="#26262d" stroke-width="11.9" transform="translate(0,0.5)" stroke-dasharray="0 1.2 46.0 9999"/>
<use href="#p124" stroke="#33333a" stroke-width="7.0" transform="translate(0,0.8)" stroke-dasharray="0 0.6 47.2 9999"/>
<use href="#p124" stroke="#424247" stroke-width="3.08" transform="translate(0,0.8)"/>
<use href="#p125" stroke="#050506" stroke-width="28.0" stroke-dasharray="0 3.0 36.6 9999"/>
<use href="#p125" stroke="#0f0f12" stroke-width="22.400000000000002" stroke-dasharray="0 2.4 37.8 9999"/>
<use href="#p125" stroke="#19191f" stroke-width="16.8" transform="translate(0,0.5)" stroke-dasharray="0 1.8 39.0 9999"/>
<use href="#p125" stroke="#23232b" stroke-width="11.9" transform="translate(0,0.5)" stroke-dasharray="0 1.2 40.2 9999"/>
<use href="#p125" stroke="#303037" stroke-width="7.0" transform="translate(0,0.8)" stroke-dasharray="0 0.6 41.4 9999"/>
<use href="#p125" stroke="#3d3d42" stroke-width="3.08" transform="translate(0,0.8)"/>
<path d="M1133.5,216.6 1132.9,219.1 1132.1,221.5 1131.2,224 1130.2,226.4 1129,228.7 1127.7,231.1 1126.2,233.4 1124.6,235.7 1122.9,238 1121,240.2 1119,242.3 1116.9,244.4 1114.7,246.5 1112.4,248.5 1110.1,250.4 1107.7,252.2 1105.2,253.9 1102.6,255.6 1100.1,257.1 1097.5,258.6 1094.8,260.1 1092.1,261.4 1089.4,262.7 1086.6,263.9 1083.9,265.1 1081,266.2 1080.3,266.5" stroke="#50507e" stroke-opacity="0.75" stroke-width="6" stroke-linecap="round" transform="translate(1,3)" filter="url(#pblur)"/>
<g clip-path="url(#gclip)">
<use href="#p126" stroke="#050506" stroke-width="28.0" stroke-dasharray="0 1.2 30.7 9999"/>
<use href="#p126" stroke="#121214" stroke-width="24.5" stroke-dasharray="0 0.6 31.9 9999"/>
<use href="#p126" stroke="#1a1a1c" stroke-width="18.2"/>
</g>
<g clip-path="url(#gclip)">
<use href="#p127" stroke="#050506" stroke-width="28.0" stroke-dasharray="0 1.2 39.0 9999"/>
<use href="#p127" stroke="#121214" stroke-width="24.5" stroke-dasharray="0 0.6 40.2 9999"/>
<use href="#p127" stroke="#1a1a1c" stroke-width="18.2"/>
</g>
<g clip-path="url(#gclip)">
<use href="#p128" stroke="#050506" stroke-width="28.0" stroke-dasharray="0 1.2 49.1 9999"/>
<use href="#p128" stroke="#121214" stroke-width="24.5" stroke-dasharray="0 0.6 50.3 9999"/>
<use href="#p128" stroke="#1a1a1c" stroke-width="18.2"/>
</g>
<g clip-path="url(#gclip)">
<use href="#p129" stroke="#050506" stroke-width="28.0" stroke-dasharray="0 1.2 55.6 9999"/>
<use href="#p129" stroke="#121214" stroke-width="24.5" stroke-dasharray="0 0.6 56.8 9999"/>
<use href="#p129" stroke="#1a1a1c" stroke-width="18.2"/>
</g>
<g clip-path="url(#gclip)">
<use href="#p130" stroke="#050506" stroke-width="28.0" stroke-dasharray="0 1.2 56.1 9999"/>
<use href="#p130" stroke="#121214" stroke-width="24.5" stroke-dasharray="0 0.6 57.3 9999"/>
<use href="#p130" stroke="#1a1a1c" stroke-width="18.2"/>
</g>
<g clip-path="url(#gclip)">
<use href="#p131" stroke="#050506" stroke-width="28.0" stroke-dasharray="0 1.2 50.6 9999"/>
<use href="#p131" stroke="#121214" stroke-width="24.5" stroke-dasharray="0 0.6 51.8 9999"/>
<use href="#p131" stroke="#1a1a1c" stroke-width="18.2"/>
</g>
<g clip-path="url(#gclip)">
<use href="#p132" stroke="#050506" stroke-width="28.0" stroke-dasharray="0 1.2 41.9 9999"/>
<use href="#p132" stroke="#121214" stroke-width="24.5" stroke-dasharray="0 0.6 43.1 9999"/>
<use href="#p132" stroke="#1a1a1c" stroke-width="18.2"/>
</g>
<g clip-path="url(#gclip)">
<use href="#p133" stroke="#050506" stroke-width="28.0" stroke-dasharray="0 1.2 34.6 9999"/>
<use href="#p133" stroke="#121214" stroke-width="24.5" stroke-dasharray="0 0.6 35.8 9999"/>
<use href="#p133" stroke="#1a1a1c" stroke-width="18.2"/>
</g>
<path d="M1056.6,110.7 1061,111.1 1065.3,111.6 1069.6,112.2 1073.9,112.9 1078.1,113.7 1082.2,114.6 1086.3,115.6 1090.3,116.7 1094.2,117.9 1098,119.2 1101.7,120.6 1105.3,122.1 1108.9,123.6 1112.2,125.3 1115.5,127 1118.7,128.8 1121.7,130.7 1124.6,132.6 1127.3,134.7 1129.9,136.7 1132.3,138.9 1134.6,141.1 1136.7,143.3 1138.7,145.7 1140.4,148 1142.1,150.4 1143.5,152.8 1144.8,155.3 1145.8,157.8 1146.7,160.3 1147.5,162.8 1148,165.4 1148.4,167.9 1148.5,170.5 1148.5,173.1 1148.3,175.7 1147.9,178.2 1147.4,180.8 1146.6,183.3 1145.7,185.8 1144.6,188.3 1143.3,190.7 1141.8,193.2 1140.2,195.6 1138.4,197.9 1136.4,200.2 1134.2,202.5 1131.9,204.6 1129.5,206.8 1126.9,208.9 1124.1,210.9 1121.2,212.8 1118.2,214.7 1115,216.5 1111.7,218.2 1108.3,219.8 1104.8,221.4 1101.1,222.8 1097.4,224.2 1093.6,225.5 1089.6,226.7 1085.6,227.8 1081.6,228.8 1077.4,229.6 1073.2,230.4 1068.9,231.1 1064.6,231.7 1060.3,232.2 1055.9,232.6 1051.5,232.8 1047.1,233 1042.7,233 1038.3,233 1033.8,232.8 1029.4,232.5 1025.1,232.1 1020.7,231.6 1016.5,231 1012.2,230.3 1008,229.4 1003.9,228.5 999.9,227.5 996,226.3 992.1,225.1 988.4,223.8 984.7,222.3 981.2,220.8 977.8,219.2 974.5,217.5 971.4,215.7 968.4,213.9 965.6,212 962.9,210 960.4,207.9 958,205.8 955.8,203.7 953.8,201.4 952,199.2 950.4,196.9 948.9,194.5 947.7,192.2 946.7,189.8 945.8,187.4 945.2,184.9 944.8,182.5 944.6,180.1 944.6,177.6 944.9,175.2 945.5,172.8 946.4,170.5 947.7,168.2 949.7,166 952,163.9 952.7,161.7 953.5,159.5 954.4,157.3 955.5,155.2 956.8,153.1 958.2,151 959.7,149 959.7,149 958.2,151 956.8,153.1 955.5,155.2 954.4,157.3 953.5,159.5 952.7,161.7 952,163.9 953.3,166.2 954.8,168.4 955.8,170.6 956.6,172.7 957.5,174.8 958.5,176.8 959.5,178.8 960.6,180.7 961.8,182.7 963.1,184.6 964.4,186.4 965.9,188.2 967.5,190 969.2,191.7 971,193.4 972.9,195.1 974.8,196.7 976.9,198.2 979.1,199.7 981.3,201.1 983.6,202.5 986.1,203.9 988.6,205.1 991.1,206.4 993.8,207.5 996.5,208.6 999.3,209.6 1002.1,210.6 1005,211.5 1008,212.3 1011,213.1 1014,213.8 1017.1,214.4 1020.2,214.9 1023.4,215.4 1026.5,215.8 1029.7,216.2 1033,216.4 1036.2,216.6 1039.5,216.7 1042.7,216.8 1046,216.7 1049.2,216.6 1052.4,216.4 1055.7,216.1 1058.9,215.8 1062,215.4 1065.2,214.9 1068.2,214.3 1071.3,213.6 1074.3,212.9 1077.2,212.1 1080.1,211.2 1082.9,210.3 1085.7,209.3 1088.4,208.2 1091,207.1 1093.5,205.9 1095.9,204.6 1098.2,203.3 1100.5,201.9 1102.6,200.5 1104.6,199 1106.5,197.5 1108.3,195.9 1110,194.3 1111.6,192.6 1113.1,190.9 1114.4,189.2 1115.6,187.5 1116.7,185.7 1117.6,183.9 1118.4,182 1119.1,180.2 1119.7,178.3 1120.1,176.5 1120.4,174.6 1120.5,172.7 1120.5,170.8 1120.4,168.9 1120.2,167 1119.8,165.2 1119.2,163.3 1118.6,161.4 1117.8,159.6 1116.8,157.8 1115.8,156 1114.6,154.3 1113.3,152.5 1111.8,150.8 1110.3,149.2 1108.6,147.6 1106.8,146 1104.9,144.4 1102.9,143 1100.8,141.5 1098.6,140.1 1096.3,138.8 1093.9,137.5 1091.4,136.3 1088.8,135.2 1086.1,134.1 1083.4,133.1 1080.6,132.1 1077.7,131.2 1074.8,130.4 1071.8,129.7 1068.7,129 1065.6,128.4 1062.5,127.9 1059.3,127.5 1056.2,127.1 1052.9,126.8Z" fill="#19191b" stroke="#060607" stroke-width="1.2" stroke-linejoin="round"/>
</g>
<g id="sside" fill="none" clip-path="url(#sideclip)" stroke-linejoin="round" stroke-linecap="butt">
<circle cx="319.5" cy="684" r="18" fill="#050506"/>
<circle cx="319.5" cy="684" r="15.5" fill="#111114"/>
<circle cx="319.5" cy="684.8" r="12.6" fill="#1d1d24"/>
<circle cx="319.5" cy="683.5" r="9.7" fill="#2a2a31"/>
<circle cx="319.5" cy="682.5" r="7" fill="#3a3a40"/>
<circle cx="319.5" cy="682" r="4.5" fill="#4b4b51"/>
<circle cx="319.5" cy="681.8" r="2.2" fill="#5b5b60"/>
<circle cx="81.5" cy="1334.5" r="18" fill="#050506"/>
<circle cx="81.5" cy="1334.5" r="15.5" fill="#111114"/>
<circle cx="81.5" cy="1335.3" r="12.6" fill="#1d1d24"/>
<circle cx="81.5" cy="1334" r="9.7" fill="#2a2a31"/>
<circle cx="81.5" cy="1333" r="7" fill="#3a3a40"/>
<circle cx="81.5" cy="1332.5" r="4.5" fill="#4b4b51"/>
<circle cx="81.5" cy="1332.3" r="2.2" fill="#5b5b60"/>
<use href="#p134" stroke="#050506" stroke-width="36.0" stroke-dasharray="0 0.0 125.0 9999"/>
<use href="#p134" stroke="#111114" stroke-width="30.96" stroke-dasharray="0 0.0 125.6 9999"/>
<use href="#p134" stroke="#1d1d24" stroke-width="25.2" transform="translate(0,0.8)" stroke-dasharray="0 0.0 126.2 9999"/>
<use href="#p134" stroke="#2a2a31" stroke-width="19.44" transform="translate(0,-0.5)" stroke-dasharray="0 0.0 126.8 9999"/>
<use href="#p134" stroke="#3a3a40" stroke-width="14.040000000000001" transform="translate(0,-1.5)" stroke-dasharray="0 0.0 127.4 9999"/>
<use href="#p134" stroke="#4b4b51" stroke-width="9.0" transform="translate(0,-2)" stroke-dasharray="0 0.0 128.0 9999"/>
<use href="#p134" stroke="#5b5b60" stroke-width="4.32" transform="translate(0,-2.2)"/>
<use href="#p135" stroke="#050506" stroke-width="36.0" stroke-dasharray="0 3.6 257.6 9999"/>
<use href="#p135" stroke="#111114" stroke-width="30.96" stroke-dasharray="0 3.0 258.8 9999"/>
<use href="#p135" stroke="#1d1d24" stroke-width="25.2" transform="translate(0,0.8)" stroke-dasharray="0 2.4 260.0 9999"/>
<use href="#p135" stroke="#2a2a31" stroke-width="19.44" transform="translate(0,-0.5)" stroke-dasharray="0 1.8 261.2 9999"/>
<use href="#p135" stroke="#3a3a40" stroke-width="14.040000000000001" transform="translate(0,-1.5)" stroke-dasharray="0 1.2 262.4 9999"/>
<use href="#p135" stroke="#4b4b51" stroke-width="9.0" transform="translate(0,-2)" stroke-dasharray="0 0.6 263.6 9999"/>
<use href="#p135" stroke="#5b5b60" stroke-width="4.32" transform="translate(0,-2.2)"/>
<use href="#p136" stroke="#050506" stroke-width="36.0" stroke-dasharray="0 3.6 257.2 9999"/>
<use href="#p136" stroke="#111114" stroke-width="30.96" stroke-dasharray="0 3.0 258.4 9999"/>
<use href="#p136" stroke="#1d1d24" stroke-width="25.2" transform="translate(0,0.8)" stroke-dasharray="0 2.4 259.6 9999"/>
<use href="#p136" stroke="#2a2a31" stroke-width="19.44" transform="translate(0,-0.5)" stroke-dasharray="0 1.8 260.8 9999"/>
<use href="#p136" stroke="#3a3a40" stroke-width="14.040000000000001" transform="translate(0,-1.5)" stroke-dasharray="0 1.2 262.0 9999"/>
<use href="#p136" stroke="#4b4b51" stroke-width="9.0" transform="translate(0,-2)" stroke-dasharray="0 0.6 263.2 9999"/>
<use href="#p136" stroke="#5b5b60" stroke-width="4.32" transform="translate(0,-2.2)"/>
<use href="#p137" stroke="#050506" stroke-width="36.0" stroke-dasharray="0 3.6 257.2 9999"/>
<use href="#p137" stroke="#111114" stroke-width="30.96" stroke-dasharray="0 3.0 258.4 9999"/>
<use href="#p137" stroke="#1d1d24" stroke-width="25.2" transform="translate(0,0.8)" stroke-dasharray="0 2.4 259.6 9999"/>
<use href="#p137" stroke="#2a2a31" stroke-width="19.44" transform="translate(0,-0.5)" stroke-dasharray="0 1.8 260.8 9999"/>
<use href="#p137" stroke="#3a3a40" stroke-width="14.040000000000001" transform="translate(0,-1.5)" stroke-dasharray="0 1.2 262.0 9999"/>
<use href="#p137" stroke="#4b4b51" stroke-width="9.0" transform="translate(0,-2)" stroke-dasharray="0 0.6 263.2 9999"/>
<use href="#p137" stroke="#5b5b60" stroke-width="4.32" transform="translate(0,-2.2)"/>
<use href="#p138" stroke="#050506" stroke-width="36.0" stroke-dasharray="0 3.6 257.2 9999"/>
<use href="#p138" stroke="#111114" stroke-width="30.96" stroke-dasharray="0 3.0 258.4 9999"/>
<use href="#p138" stroke="#1d1d24" stroke-width="25.2" transform="translate(0,0.8)" stroke-dasharray="0 2.4 259.6 9999"/>
<use href="#p138" stroke="#2a2a31" stroke-width="19.44" transform="translate(0,-0.5)" stroke-dasharray="0 1.8 260.8 9999"/>
<use href="#p138" stroke="#3a3a40" stroke-width="14.040000000000001" transform="translate(0,-1.5)" stroke-dasharray="0 1.2 262.0 9999"/>
<use href="#p138" stroke="#4b4b51" stroke-width="9.0" transform="translate(0,-2)" stroke-dasharray="0 0.6 263.2 9999"/>
<use href="#p138" stroke="#5b5b60" stroke-width="4.32" transform="translate(0,-2.2)"/>
<use href="#p139" stroke="#050506" stroke-width="36.0" stroke-dasharray="0 3.6 257.2 9999"/>
<use href="#p139" stroke="#111114" stroke-width="30.96" stroke-dasharray="0 3.0 258.4 9999"/>
<use href="#p139" stroke="#1d1d24" stroke-width="25.2" transform="translate(0,0.8)" stroke-dasharray="0 2.4 259.6 9999"/>
<use href="#p139" stroke="#2a2a31" stroke-width="19.44" transform="translate(0,-0.5)" stroke-dasharray="0 1.8 260.8 9999"/>
<use href="#p139" stroke="#3a3a40" stroke-width="14.040000000000001" transform="translate(0,-1.5)" stroke-dasharray="0 1.2 262.0 9999"/>
<use href="#p139" stroke="#4b4b51" stroke-width="9.0" transform="translate(0,-2)" stroke-dasharray="0 0.6 263.2 9999"/>
<use href="#p139" stroke="#5b5b60" stroke-width="4.32" transform="translate(0,-2.2)"/>
<use href="#p140" stroke="#050506" stroke-width="36.0" stroke-dasharray="0 3.6 257.2 9999"/>
<use href="#p140" stroke="#111114" stroke-width="30.96" stroke-dasharray="0 3.0 258.4 9999"/>
<use href="#p140" stroke="#1d1d24" stroke-width="25.2" transform="translate(0,0.8)" stroke-dasharray="0 2.4 259.6 9999"/>
<use href="#p140" stroke="#2a2a31" stroke-width="19.44" transform="translate(0,-0.5)" stroke-dasharray="0 1.8 260.8 9999"/>
<use href="#p140" stroke="#3a3a40" stroke-width="14.040000000000001" transform="translate(0,-1.5)" stroke-dasharray="0 1.2 262.0 9999"/>
<use href="#p140" stroke="#4b4b51" stroke-width="9.0" transform="translate(0,-2)" stroke-dasharray="0 0.6 263.2 9999"/>
<use href="#p140" stroke="#5b5b60" stroke-width="4.32" transform="translate(0,-2.2)"/>
<use href="#p141" stroke="#050506" stroke-width="36.0" stroke-dasharray="0 3.6 257.2 9999"/>
<use href="#p141" stroke="#111114" stroke-width="30.96" stroke-dasharray="0 3.0 258.4 9999"/>
<use href="#p141" stroke="#1d1d24" stroke-width="25.2" transform="translate(0,0.8)" stroke-dasharray="0 2.4 259.6 9999"/>
<use href="#p141" stroke="#2a2a31" stroke-width="19.44" transform="translate(0,-0.5)" stroke-dasharray="0 1.8 260.8 9999"/>
<use href="#p141" stroke="#3a3a40" stroke-width="14.040000000000001" transform="translate(0,-1.5)" stroke-dasharray="0 1.2 262.0 9999"/>
<use href="#p141" stroke="#4b4b51" stroke-width="9.0" transform="translate(0,-2)" stroke-dasharray="0 0.6 263.2 9999"/>
<use href="#p141" stroke="#5b5b60" stroke-width="4.32" transform="translate(0,-2.2)"/>
<use href="#p142" stroke="#050506" stroke-width="36.0" stroke-dasharray="0 3.6 257.2 9999"/>
<use href="#p142" stroke="#111114" stroke-width="30.96" stroke-dasharray="0 3.0 258.4 9999"/>
<use href="#p142" stroke="#1d1d24" stroke-width="25.2" transform="translate(0,0.8)" stroke-dasharray="0 2.4 259.6 9999"/>
<use href="#p142" stroke="#2a2a31" stroke-width="19.44" transform="translate(0,-0.5)" stroke-dasharray="0 1.8 260.8 9999"/>
<use href="#p142" stroke="#3a3a40" stroke-width="14.040000000000001" transform="translate(0,-1.5)" stroke-dasharray="0 1.2 262.0 9999"/>
<use href="#p142" stroke="#4b4b51" stroke-width="9.0" transform="translate(0,-2)" stroke-dasharray="0 0.6 263.2 9999"/>
<use href="#p142" stroke="#5b5b60" stroke-width="4.32" transform="translate(0,-2.2)"/>
<use href="#p143" stroke="#050506" stroke-width="36.0" stroke-dasharray="0 3.6 257.2 9999"/>
<use href="#p143" stroke="#111114" stroke-width="30.96" stroke-dasharray="0 3.0 258.4 9999"/>
<use href="#p143" stroke="#1d1d24" stroke-width="25.2" transform="translate(0,0.8)" stroke-dasharray="0 2.4 259.6 9999"/>
<use href="#p143" stroke="#2a2a31" stroke-width="19.44" transform="translate(0,-0.5)" stroke-dasharray="0 1.8 260.8 9999"/>
<use href="#p143" stroke="#3a3a40" stroke-width="14.040000000000001" transform="translate(0,-1.5)" stroke-dasharray="0 1.2 262.0 9999"/>
<use href="#p143" stroke="#4b4b51" stroke-width="9.0" transform="translate(0,-2)" stroke-dasharray="0 0.6 263.2 9999"/>
<use href="#p143" stroke="#5b5b60" stroke-width="4.32" transform="translate(0,-2.2)"/>
<use href="#p144" stroke="#050506" stroke-width="36.0" stroke-dasharray="0 3.6 257.2 9999"/>
<use href="#p144" stroke="#111114" stroke-width="30.96" stroke-dasharray="0 3.0 258.4 9999"/>
<use href="#p144" stroke="#1d1d24" stroke-width="25.2" transform="translate(0,0.8)" stroke-dasharray="0 2.4 259.6 9999"/>
<use href="#p144" stroke="#2a2a31" stroke-width="19.44" transform="translate(0,-0.5)" stroke-dasharray="0 1.8 260.8 9999"/>
<use href="#p144" stroke="#3a3a40" stroke-width="14.040000000000001" transform="translate(0,-1.5)" stroke-dasharray="0 1.2 262.0 9999"/>
<use href="#p144" stroke="#4b4b51" stroke-width="9.0" transform="translate(0,-2)" stroke-dasharray="0 0.6 263.2 9999"/>
<use href="#p144" stroke="#5b5b60" stroke-width="4.32" transform="translate(0,-2.2)"/>
<use href="#p145" stroke="#050506" stroke-width="36.0" stroke-dasharray="0 3.6 257.2 9999"/>
<use href="#p145" stroke="#111114" stroke-width="30.96" stroke-dasharray="0 3.0 258.4 9999"/>
<use href="#p145" stroke="#1d1d24" stroke-width="25.2" transform="translate(0,0.8)" stroke-dasharray="0 2.4 259.6 9999"/>
<use href="#p145" stroke="#2a2a31" stroke-width="19.44" transform="translate(0,-0.5)" stroke-dasharray="0 1.8 260.8 9999"/>
<use href="#p145" stroke="#3a3a40" stroke-width="14.040000000000001" transform="translate(0,-1.5)" stroke-dasharray="0 1.2 262.0 9999"/>
<use href="#p145" stroke="#4b4b51" stroke-width="9.0" transform="translate(0,-2)" stroke-dasharray="0 0.6 263.2 9999"/>
<use href="#p145" stroke="#5b5b60" stroke-width="4.32" transform="translate(0,-2.2)"/>
<use href="#p146" stroke="#050506" stroke-width="36.0" stroke-dasharray="0 3.6 257.2 9999"/>
<use href="#p146" stroke="#111114" stroke-width="30.96" stroke-dasharray="0 3.0 258.4 9999"/>
<use href="#p146" stroke="#1d1d24" stroke-width="25.2" transform="translate(0,0.8)" stroke-dasharray="0 2.4 259.6 9999"/>
<use href="#p146" stroke="#2a2a31" stroke-width="19.44" transform="translate(0,-0.5)" stroke-dasharray="0 1.8 260.8 9999"/>
<use href="#p146" stroke="#3a3a40" stroke-width="14.040000000000001" transform="translate(0,-1.5)" stroke-dasharray="0 1.2 262.0 9999"/>
<use href="#p146" stroke="#4b4b51" stroke-width="9.0" transform="translate(0,-2)" stroke-dasharray="0 0.6 263.2 9999"/>
<use href="#p146" stroke="#5b5b60" stroke-width="4.32" transform="translate(0,-2.2)"/>
<use href="#p147" stroke="#050506" stroke-width="36.0" stroke-dasharray="0 3.6 257.2 9999"/>
<use href="#p147" stroke="#111114" stroke-width="30.96" stroke-dasharray="0 3.0 258.4 9999"/>
<use href="#p147" stroke="#1d1d24" stroke-width="25.2" transform="translate(0,0.8)" stroke-dasharray="0 2.4 259.6 9999"/>
<use href="#p147" stroke="#2a2a31" stroke-width="19.44" transform="translate(0,-0.5)" stroke-dasharray="0 1.8 260.8 9999"/>
<use href="#p147" stroke="#3a3a40" stroke-width="14.040000000000001" transform="translate(0,-1.5)" stroke-dasharray="0 1.2 262.0 9999"/>
<use href="#p147" stroke="#4b4b51" stroke-width="9.0" transform="translate(0,-2)" stroke-dasharray="0 0.6 263.2 9999"/>
<use href="#p147" stroke="#5b5b60" stroke-width="4.32" transform="translate(0,-2.2)"/>
<use href="#p148" stroke="#050506" stroke-width="36.0" stroke-dasharray="0 3.6 258.2 9999"/>
<use href="#p148" stroke="#111114" stroke-width="30.96" stroke-dasharray="0 3.0 259.4 9999"/>
<use href="#p148" stroke="#1d1d24" stroke-width="25.2" transform="translate(0,0.8)" stroke-dasharray="0 2.4 260.6 9999"/>
<use href="#p148" stroke="#2a2a31" stroke-width="19.44" transform="translate(0,-0.5)" stroke-dasharray="0 1.8 261.8 9999"/>
<use href="#p148" stroke="#3a3a40" stroke-width="14.040000000000001" transform="translate(0,-1.5)" stroke-dasharray="0 1.2 263.0 9999"/>
<use href="#p148" stroke="#4b4b51" stroke-width="9.0" transform="translate(0,-2)" stroke-dasharray="0 0.6 264.2 9999"/>
<use href="#p148" stroke="#5b5b60" stroke-width="4.32" transform="translate(0,-2.2)"/>
<use href="#p149" stroke="#050506" stroke-width="36.0" stroke-dasharray="0 3.6 125.0 9999"/>
<use href="#p149" stroke="#111114" stroke-width="30.96" stroke-dasharray="0 3.0 125.6 9999"/>
<use href="#p149" stroke="#1d1d24" stroke-width="25.2" transform="translate(0,0.8)" stroke-dasharray="0 2.4 126.2 9999"/>
<use href="#p149" stroke="#2a2a31" stroke-width="19.44" transform="translate(0,-0.5)" stroke-dasharray="0 1.8 126.8 9999"/>
<use href="#p149" stroke="#3a3a40" stroke-width="14.040000000000001" transform="translate(0,-1.5)" stroke-dasharray="0 1.2 127.4 9999"/>
<use href="#p149" stroke="#4b4b51" stroke-width="9.0" transform="translate(0,-2)" stroke-dasharray="0 0.6 128.0 9999"/>
<use href="#p149" stroke="#5b5b60" stroke-width="4.32" transform="translate(0,-2.2)"/>
<g filter="url(#lblur)">
<path d="M102.3,695.6 99.9,696.2 97.5,696.7 95.2,697.3 93.1,697.9 91.1,698.5 89.3,699.2 87.7,699.9 86.3,700.5 85.1,701.2 84,702 83.1,702.7 82.4,703.5 81.9,704.3 81.6,705.1 81.5,705.9 81.6,706.5 81.8,707.1 82.3,707.7 82.9,708.3 83.8,708.9 84.8,709.5 86,710.1 87.4,710.7 88.9,711.3 90.7,711.8 92.6,712.4 94.7,713 96.9,713.6 99.4,714.2 101.9,714.8 102.3,714.9" stroke="#060608" stroke-opacity="0.45" stroke-width="23.4" stroke-linecap="butt" stroke-linejoin="round"/>
<path d="M298.7,743.6 301.1,744.2 303.5,744.7 305.8,745.3 307.9,745.9 309.9,746.5 311.6,747.1 313.3,747.7 314.7,748.3 315.9,748.9 317,749.5 317.9,750.1 318.6,750.6 319.1,751.2 319.4,751.8 319.5,752.4 319.4,753 319.2,753.6 318.7,754.2 318.1,754.8 317.3,755.4 316.2,756 315,756.6 313.7,757.2 312.1,757.7 310.4,758.3 308.4,758.9 306.3,759.5 304.1,760.1 301.7,760.7 299.2,761.3 298.7,761.4" stroke="#060608" stroke-opacity="0.45" stroke-width="23.4" stroke-linecap="butt" stroke-linejoin="round"/>
<path d="M102.3,790.1 99.9,790.7 97.5,791.2 95.2,791.8 93.1,792.4 91.1,793 89.4,793.6 87.7,794.2 86.3,794.8 85.1,795.4 84,796 83.1,796.6 82.4,797.1 81.9,797.7 81.6,798.3 81.5,798.9 81.6,799.5 81.8,800.1 82.3,800.7 82.9,801.3 83.7,801.9 84.8,802.5 86,803.1 87.3,803.7 88.9,804.2 90.6,804.8 92.6,805.4 94.7,806 96.9,806.6 99.3,807.2 101.8,807.8 102.3,807.9" stroke="#060608" stroke-opacity="0.45" stroke-width="23.4" stroke-linecap="butt" stroke-linejoin="round"/>
<path d="M298.7,836.6 301.1,837.2 303.5,837.7 305.8,838.3 307.9,838.9 309.9,839.5 311.6,840.1 313.3,840.7 314.7,841.3 315.9,841.9 317,842.5 317.9,843.1 318.6,843.6 319.1,844.2 319.4,844.8 319.5,845.4 319.4,846 319.2,846.6 318.7,847.2 318.1,847.8 317.3,848.4 316.2,849 315,849.6 313.7,850.2 312.1,850.7 310.4,851.3 308.4,851.9 306.3,852.5 304.1,853.1 301.7,853.7 299.2,854.3 298.7,854.4" stroke="#060608" stroke-opacity="0.45" stroke-width="23.4" stroke-linecap="butt" stroke-linejoin="round"/>
<path d="M102.3,883.1 99.9,883.7 97.5,884.2 95.2,884.8 93.1,885.4 91.1,886 89.4,886.6 87.7,887.2 86.3,887.8 85.1,888.4 84,889 83.1,889.6 82.4,890.1 81.9,890.7 81.6,891.3 81.5,891.9 81.6,892.5 81.8,893.1 82.3,893.7 82.9,894.3 83.7,894.9 84.8,895.5 86,896.1 87.3,896.7 88.9,897.2 90.6,897.8 92.6,898.4 94.7,899 96.9,899.6 99.3,900.2 101.8,900.8 102.3,900.9" stroke="#060608" stroke-opacity="0.45" stroke-width="23.4" stroke-linecap="butt" stroke-linejoin="round"/>
<path d="M298.7,929.6 301.1,930.2 303.5,930.7 305.8,931.3 307.9,931.9 309.9,932.5 311.6,933.1 313.3,933.7 314.7,934.3 315.9,934.9 317,935.5 317.9,936.1 318.6,936.6 319.1,937.2 319.4,937.8 319.5,938.4 319.4,939 319.2,939.6 318.7,940.2 318.1,940.8 317.3,941.4 316.2,942 315,942.6 313.7,943.2 312.1,943.7 310.4,944.3 308.4,944.9 306.3,945.5 304.1,946.1 301.7,946.7 299.2,947.3 298.7,947.4" stroke="#060608" stroke-opacity="0.45" stroke-width="23.4" stroke-linecap="butt" stroke-linejoin="round"/>
<path d="M102.3,976.1 99.9,976.7 97.5,977.2 95.2,977.8 93.1,978.4 91.1,979 89.4,979.6 87.7,980.2 86.3,980.8 85.1,981.4 84,982 83.1,982.6 82.4,983.1 81.9,983.7 81.6,984.3 81.5,984.9 81.6,985.5 81.8,986.1 82.3,986.7 82.9,987.3 83.7,987.9 84.8,988.5 86,989.1 87.3,989.7 88.9,990.2 90.6,990.8 92.6,991.4 94.7,992 96.9,992.6 99.3,993.2 101.8,993.8 102.3,993.9" stroke="#060608" stroke-opacity="0.45" stroke-width="23.4" stroke-linecap="butt" stroke-linejoin="round"/>
<path d="M298.7,1022.6 301.1,1023.2 303.5,1023.7 305.8,1024.3 307.9,1024.9 309.9,1025.5 311.6,1026.1 313.3,1026.7 314.7,1027.3 315.9,1027.9 317,1028.5 317.9,1029.1 318.6,1029.6 319.1,1030.2 319.4,1030.8 319.5,1031.4 319.4,1032 319.2,1032.6 318.7,1033.2 318.1,1033.8 317.3,1034.4 316.2,1035 315,1035.6 313.7,1036.2 312.1,1036.7 310.4,1037.3 308.4,1037.9 306.3,1038.5 304.1,1039.1 301.7,1039.7 299.2,1040.3 298.7,1040.4" stroke="#060608" stroke-opacity="0.45" stroke-width="23.4" stroke-linecap="butt" stroke-linejoin="round"/>
<path d="M102.3,1069.1 99.9,1069.7 97.5,1070.2 95.2,1070.8 93.1,1071.4 91.1,1072 89.4,1072.6 87.7,1073.2 86.3,1073.8 85.1,1074.4 84,1075 83.1,1075.6 82.4,1076.1 81.9,1076.7 81.6,1077.3 81.5,1077.9 81.6,1078.5 81.8,1079.1 82.3,1079.7 82.9,1080.3 83.7,1080.9 84.8,1081.5 86,1082.1 87.3,1082.7 88.9,1083.2 90.6,1083.8 92.6,1084.4 94.7,1085 96.9,1085.6 99.3,1086.2 101.8,1086.8 102.3,1086.9" stroke="#060608" stroke-opacity="0.45" stroke-width="23.4" stroke-linecap="butt" stroke-linejoin="round"/>
<path d="M298.7,1115.6 301.1,1116.2 303.5,1116.7 305.8,1117.3 307.9,1117.9 309.9,1118.5 311.6,1119.1 313.3,1119.7 314.7,1120.3 315.9,1120.9 317,1121.5 317.9,1122.1 318.6,1122.6 319.1,1123.2 319.4,1123.8 319.5,1124.4 319.4,1125 319.2,1125.6 318.7,1126.2 318.1,1126.8 317.3,1127.4 316.2,1128 315,1128.6 313.7,1129.2 312.1,1129.7 310.4,1130.3 308.4,1130.9 306.3,1131.5 304.1,1132.1 301.7,1132.7 299.2,1133.3 298.7,1133.4" stroke="#060608" stroke-opacity="0.45" stroke-width="23.4" stroke-linecap="butt" stroke-linejoin="round"/>
<path d="M102.3,1162.1 99.9,1162.7 97.5,1163.2 95.2,1163.8 93.1,1164.4 91.1,1165 89.4,1165.6 87.7,1166.2 86.3,1166.8 85.1,1167.4 84,1168 83.1,1168.6 82.4,1169.1 81.9,1169.7 81.6,1170.3 81.5,1170.9 81.6,1171.5 81.8,1172.1 82.3,1172.7 82.9,1173.3 83.7,1173.9 84.8,1174.5 86,1175.1 87.3,1175.7 88.9,1176.2 90.6,1176.8 92.6,1177.4 94.7,1178 96.9,1178.6 99.3,1179.2 101.8,1179.8 102.3,1179.9" stroke="#060608" stroke-opacity="0.45" stroke-width="23.4" stroke-linecap="butt" stroke-linejoin="round"/>
<path d="M298.7,1208.6 301.1,1209.2 303.5,1209.7 305.8,1210.3 307.9,1210.9 309.9,1211.5 311.6,1212.1 313.3,1212.7 314.7,1213.3 315.9,1213.9 317,1214.5 317.9,1215.1 318.6,1215.6 319.1,1216.2 319.4,1216.8 319.5,1217.4 319.4,1218 319.2,1218.6 318.7,1219.2 318.1,1219.8 317.3,1220.4 316.2,1221 315,1221.6 313.7,1222.2 312.1,1222.7 310.4,1223.3 308.4,1223.9 306.3,1224.5 304.1,1225.1 301.7,1225.7 299.2,1226.3 298.7,1226.4" stroke="#060608" stroke-opacity="0.45" stroke-width="23.4" stroke-linecap="butt" stroke-linejoin="round"/>
<path d="M102.3,1255.1 99.9,1255.7 97.5,1256.2 95.2,1256.8 93.1,1257.4 91.1,1258 89.4,1258.6 87.7,1259.2 86.3,1259.8 85.1,1260.4 84,1261 83.1,1261.6 82.4,1262.1 81.9,1262.7 81.6,1263.3 81.5,1263.9 81.6,1264.5 81.8,1265.1 82.3,1265.7 82.9,1266.3 83.7,1266.9 84.8,1267.5 86,1268.1 87.3,1268.7 88.9,1269.2 90.6,1269.8 92.6,1270.4 94.7,1271 96.9,1271.6 99.3,1272.2 101.8,1272.8 102.3,1272.9" stroke="#060608" stroke-opacity="0.45" stroke-width="23.4" stroke-linecap="butt" stroke-linejoin="round"/>
<path d="M298.7,1301.6 301.1,1302.2 303.5,1302.7 305.8,1303.3 307.9,1303.9 309.9,1304.5 311.6,1305.1 313.3,1305.7 314.7,1306.3 315.9,1306.9 317,1307.5 317.9,1308.1 318.6,1308.6 319.1,1309.2 319.4,1309.8 319.5,1310.4 319.4,1311.3 319.2,1312.2 318.7,1313 318.1,1313.9 317.3,1314.7 316.2,1315.5 315,1316.3 313.7,1317 312.1,1317.7 310.4,1318.5 308.4,1319.1 306.3,1319.8 304.1,1320.5 301.7,1321.1 299.2,1321.7 298.7,1321.8" stroke="#060608" stroke-opacity="0.45" stroke-width="23.4" stroke-linecap="butt" stroke-linejoin="round"/>
</g>
<g filter="url(#pblur)">
<path d="M88.7,711.2 90.4,711.8 92.3,712.4 94.4,713 96.6,713.5 99,714.1 101.6,714.7 104.3,715.3 107.2,715.9 110.2,716.5 113.2,717.1 116.3,717.6 119.3,718.1 122.3,718.6 125.3,719.1 128.3,719.6 131.3,720.1 134.3,720.5 137.3,721 140.2,721.4 143.2,721.8 146.2,722.2 149.2,722.7 152.2,723.1 155.2,723.5 158.2,723.9 161.2,724.3 164.2,724.7 167.2,725 170.1,725.4 173.1,725.8 176.1,726.2 179.1,726.6 182.1,726.9 185.1,727.3 188,727.7 191,728.1 194,728.4 197,728.8 200,729.2 202.9,729.6 205.9,729.9 208.9,730.3 211.9,730.7 214.8,731 217.8,731.4 220.8,731.8 223.7,732.2 226.7,732.5 229.7,732.9 232.6,733.3 235.6,733.7 238,734" stroke="#50507c" stroke-opacity="0.85" stroke-width="7.6" stroke-linecap="round" transform="translate(0,5.5)"/>
<path d="M88.7,804.2 90.4,804.8 92.3,805.4 94.4,806 96.6,806.5 99,807.1 101.6,807.7 104.3,808.3 107.2,808.9 110.2,809.5 113.2,810.1 116.3,810.6 119.3,811.1 122.3,811.6 125.3,812.1 128.3,812.6 131.3,813.1 134.3,813.5 137.3,814 140.2,814.4 143.2,814.8 146.2,815.2 149.2,815.7 152.2,816.1 155.2,816.5 158.2,816.9 161.2,817.3 164.2,817.7 167.2,818 170.1,818.4 173.1,818.8 176.1,819.2 179.1,819.6 182.1,819.9 185.1,820.3 188,820.7 191,821.1 194,821.4 197,821.8 200,822.2 202.9,822.6 205.9,822.9 208.9,823.3 211.9,823.7 214.8,824 217.8,824.4 220.8,824.8 223.7,825.2 226.7,825.5 229.7,825.9 232.6,826.3 235.6,826.7 238,827" stroke="#50507c" stroke-opacity="0.85" stroke-width="7.6" stroke-linecap="round" transform="translate(0,5.5)"/>
<path d="M88.7,897.2 90.4,897.8 92.3,898.4 94.4,899 96.6,899.5 99,900.1 101.6,900.7 104.3,901.3 107.2,901.9 110.2,902.5 113.2,903.1 116.3,903.6 119.3,904.1 122.3,904.6 125.3,905.1 128.3,905.6 131.3,906.1 134.3,906.5 137.3,907 140.2,907.4 143.2,907.8 146.2,908.2 149.2,908.7 152.2,909.1 155.2,909.5 158.2,909.9 161.2,910.3 164.2,910.7 167.2,911 170.1,911.4 173.1,911.8 176.1,912.2 179.1,912.6 182.1,912.9 185.1,913.3 188,913.7 191,914.1 194,914.4 197,914.8 200,915.2 202.9,915.6 205.9,915.9 208.9,916.3 211.9,916.7 214.8,917 217.8,917.4 220.8,917.8 223.7,918.2 226.7,918.5 229.7,918.9 232.6,919.3 235.6,919.7 238,920" stroke="#50507c" stroke-opacity="0.85" stroke-width="7.6" stroke-linecap="round" transform="translate(0,5.5)"/>
<path d="M88.7,990.2 90.4,990.8 92.3,991.4 94.4,992 96.6,992.5 99,993.1 101.6,993.7 104.3,994.3 107.2,994.9 110.2,995.5 113.2,996.1 116.3,996.6 119.3,997.1 122.3,997.6 125.3,998.1 128.3,998.6 131.3,999.1 134.3,999.5 137.3,1000 140.2,1000.4 143.2,1000.8 146.2,1001.2 149.2,1001.7 152.2,1002.1 155.2,1002.5 158.2,1002.9 161.2,1003.3 164.2,1003.7 167.2,1004 170.1,1004.4 173.1,1004.8 176.1,1005.2 179.1,1005.6 182.1,1005.9 185.1,1006.3 188,1006.7 191,1007.1 194,1007.4 197,1007.8 200,1008.2 202.9,1008.6 205.9,1008.9 208.9,1009.3 211.9,1009.7 214.8,1010 217.8,1010.4 220.8,1010.8 223.7,1011.2 226.7,1011.5 229.7,1011.9 232.6,1012.3 235.6,1012.7 238,1013" stroke="#50507c" stroke-opacity="0.85" stroke-width="7.6" stroke-linecap="round" transform="translate(0,5.5)"/>
<path d="M88.7,1083.2 90.4,1083.8 92.3,1084.4 94.4,1085 96.6,1085.5 99,1086.1 101.6,1086.7 104.3,1087.3 107.2,1087.9 110.2,1088.5 113.2,1089.1 116.3,1089.6 119.3,1090.1 122.3,1090.6 125.3,1091.1 128.3,1091.6 131.3,1092.1 134.3,1092.5 137.3,1093 140.2,1093.4 143.2,1093.8 146.2,1094.2 149.2,1094.7 152.2,1095.1 155.2,1095.5 158.2,1095.9 161.2,1096.3 164.2,1096.7 167.2,1097 170.1,1097.4 173.1,1097.8 176.1,1098.2 179.1,1098.6 182.1,1098.9 185.1,1099.3 188,1099.7 191,1100.1 194,1100.4 197,1100.8 200,1101.2 202.9,1101.6 205.9,1101.9 208.9,1102.3 211.9,1102.7 214.8,1103 217.8,1103.4 220.8,1103.8 223.7,1104.2 226.7,1104.5 229.7,1104.9 232.6,1105.3 235.6,1105.7 238,1106" stroke="#50507c" stroke-opacity="0.85" stroke-width="7.6" stroke-linecap="round" transform="translate(0,5.5)"/>
<path d="M88.7,1176.2 90.4,1176.8 92.3,1177.4 94.4,1178 96.6,1178.5 99,1179.1 101.6,1179.7 104.3,1180.3 107.2,1180.9 110.2,1181.5 113.2,1182.1 116.3,1182.6 119.3,1183.1 122.3,1183.6 125.3,1184.1 128.3,1184.6 131.3,1185.1 134.3,1185.5 137.3,1186 140.2,1186.4 143.2,1186.8 146.2,1187.2 149.2,1187.7 152.2,1188.1 155.2,1188.5 158.2,1188.9 161.2,1189.3 164.2,1189.7 167.2,1190 170.1,1190.4 173.1,1190.8 176.1,1191.2 179.1,1191.6 182.1,1191.9 185.1,1192.3 188,1192.7 191,1193.1 194,1193.4 197,1193.8 200,1194.2 202.9,1194.6 205.9,1194.9 208.9,1195.3 211.9,1195.7 214.8,1196 217.8,1196.4 220.8,1196.8 223.7,1197.2 226.7,1197.5 229.7,1197.9 232.6,1198.3 235.6,1198.7 238,1199" stroke="#50507c" stroke-opacity="0.85" stroke-width="7.6" stroke-linecap="round" transform="translate(0,5.5)"/>
<path d="M88.7,1269.2 90.4,1269.8 92.3,1270.4 94.4,1271 96.6,1271.5 99,1272.1 101.6,1272.7 104.3,1273.3 107.2,1273.9 110.2,1274.5 113.2,1275.1 116.3,1275.6 119.3,1276.1 122.3,1276.6 125.3,1277.1 128.3,1277.6 131.3,1278.1 134.3,1278.5 137.3,1279 140.2,1279.4 143.2,1279.8 146.2,1280.2 149.2,1280.7 152.2,1281.1 155.2,1281.5 158.2,1281.9 161.2,1282.3 164.2,1282.7 167.2,1283 170.1,1283.4 173.1,1283.8 176.1,1284.2 179.1,1284.6 182.1,1284.9 185.1,1285.3 188,1285.7 191,1286.1 194,1286.4 197,1286.8 200,1287.2 202.9,1287.6 205.9,1287.9 208.9,1288.3 211.9,1288.7 214.8,1289 217.8,1289.4 220.8,1289.8 223.7,1290.2 226.7,1290.5 229.7,1290.9 232.6,1291.3 235.6,1291.7 238,1292" stroke="#50507c" stroke-opacity="0.85" stroke-width="7.6" stroke-linecap="round" transform="translate(0,5.5)"/>
<path d="M314.2,756.9 312.7,757.5 311,758.1 309.2,758.7 307.1,759.3 304.9,759.9 302.6,760.5 300,761.1 297.4,761.7 294.5,762.3 291.5,762.9 288.5,763.4 285.5,764 282.5,764.5 279.5,765 276.5,765.5 273.5,766 270.5,766.4 267.5,766.9 264.5,767.3 261.5,767.8 259.7,768" stroke="#50507c" stroke-opacity="0.8" stroke-width="6.8" stroke-linecap="round" transform="translate(0,5.5)"/>
<path d="M314.2,849.9 312.7,850.5 311,851.1 309.2,851.7 307.1,852.3 304.9,852.9 302.6,853.5 300,854.1 297.4,854.7 294.5,855.3 291.5,855.9 288.5,856.4 285.5,857 282.5,857.5 279.5,858 276.5,858.5 273.5,859 270.5,859.4 267.5,859.9 264.5,860.3 261.5,860.8 259.7,861" stroke="#50507c" stroke-opacity="0.8" stroke-width="6.8" stroke-linecap="round" transform="translate(0,5.5)"/>
<path d="M314.2,942.9 312.7,943.5 311,944.1 309.2,944.7 307.1,945.3 304.9,945.9 302.6,946.5 300,947.1 297.4,947.7 294.5,948.3 291.5,948.9 288.5,949.4 285.5,950 282.5,950.5 279.5,951 276.5,951.5 273.5,952 270.5,952.4 267.5,952.9 264.5,953.3 261.5,953.8 259.7,954" stroke="#50507c" stroke-opacity="0.8" stroke-width="6.8" stroke-linecap="round" transform="translate(0,5.5)"/>
<path d="M314.2,1035.9 312.7,1036.5 311,1037.1 309.2,1037.7 307.1,1038.3 304.9,1038.9 302.6,1039.5 300,1040.1 297.4,1040.7 294.5,1041.3 291.5,1041.9 288.5,1042.4 285.5,1043 282.5,1043.5 279.5,1044 276.5,1044.5 273.5,1045 270.5,1045.4 267.5,1045.9 264.5,1046.3 261.5,1046.8 259.7,1047" stroke="#50507c" stroke-opacity="0.8" stroke-width="6.8" stroke-linecap="round" transform="translate(0,5.5)"/>
<path d="M314.2,1128.9 312.7,1129.5 311,1130.1 309.2,1130.7 307.1,1131.3 304.9,1131.9 302.6,1132.5 300,1133.1 297.4,1133.7 294.5,1134.3 291.5,1134.9 288.5,1135.4 285.5,1136 282.5,1136.5 279.5,1137 276.5,1137.5 273.5,1138 270.5,1138.4 267.5,1138.9 264.5,1139.3 261.5,1139.8 259.7,1140" stroke="#50507c" stroke-opacity="0.8" stroke-width="6.8" stroke-linecap="round" transform="translate(0,5.5)"/>
<path d="M314.2,1221.9 312.7,1222.5 311,1223.1 309.2,1223.7 307.1,1224.3 304.9,1224.9 302.6,1225.5 300,1226.1 297.4,1226.7 294.5,1227.3 291.5,1227.9 288.5,1228.4 285.5,1229 282.5,1229.5 279.5,1230 276.5,1230.5 273.5,1231 270.5,1231.4 267.5,1231.9 264.5,1232.3 261.5,1232.8 259.7,1233" stroke="#50507c" stroke-opacity="0.8" stroke-width="6.8" stroke-linecap="round" transform="translate(0,5.5)"/>
<path d="M314.2,1316.7 312.7,1317.5 311,1318.2 309.2,1318.9 307.1,1319.6 304.9,1320.2 302.6,1320.9 300,1321.5 297.4,1322.1 294.5,1322.7 291.5,1323.2 288.5,1323.8 285.5,1324.2 282.5,1324.7 279.5,1325.1 276.4,1325.5 273.4,1325.9 270.4,1326.3 267.4,1326.6 264.4,1326.9 261.4,1327.3 259.7,1327.4" stroke="#50507c" stroke-opacity="0.8" stroke-width="6.8" stroke-linecap="round" transform="translate(0,5.5)"/>
</g>
</g>
<use href="#sside" transform="translate(690.5,533.73) scale(1,0.6023)"/>
<line x1="200.9" y1="636" x2="200.9" y2="1423" stroke="#15151c" stroke-width="1.8"/>
<line x1="891.4" y1="636" x2="891.4" y2="1422" stroke="#15151c" stroke-width="1.8"/>
<line x1="330" y1="685.2" x2="534.3" y2="685.2" stroke="#15151c" stroke-width="1.8"/>
<line x1="300" y1="1333.8" x2="534.3" y2="1333.8" stroke="#15151c" stroke-width="1.8"/>
<line x1="492.5" y1="700" x2="492.5" y2="951.5" stroke="#15151c" stroke-width="1.8"/>
<line x1="492.5" y1="1022" x2="492.5" y2="1300" stroke="#15151c" stroke-width="1.8"/>
<polygon points="492.5,685.2 483.5,736.5 502.4,736.5" fill="#1c1c2a"/>
<polygon points="492.5,1333.8 483.5,1282.5 502.4,1282.5" fill="#1c1c2a"/>
<line x1="906.8" y1="684.7" x2="1226" y2="684.7" stroke="#15151c" stroke-width="1.8"/>
<line x1="906" y1="945.1" x2="1226" y2="945.1" stroke="#15151c" stroke-width="1.8"/>
<line x1="1020" y1="1333.4" x2="1226" y2="1333.4" stroke="#15151c" stroke-width="1.8"/>
<line x1="1185.3" y1="700" x2="1185.3" y2="771.7" stroke="#15151c" stroke-width="1.8"/>
<line x1="1185.3" y1="860.8" x2="1185.3" y2="930" stroke="#15151c" stroke-width="1.8"/>
<polygon points="1185.3,684.7 1176,735.7 1194.5,735.7" fill="#1c1c2a"/>
<polygon points="1185.3,945.1 1176,896.3 1194.5,896.3" fill="#1c1c2a"/>
</svg></body></html>
